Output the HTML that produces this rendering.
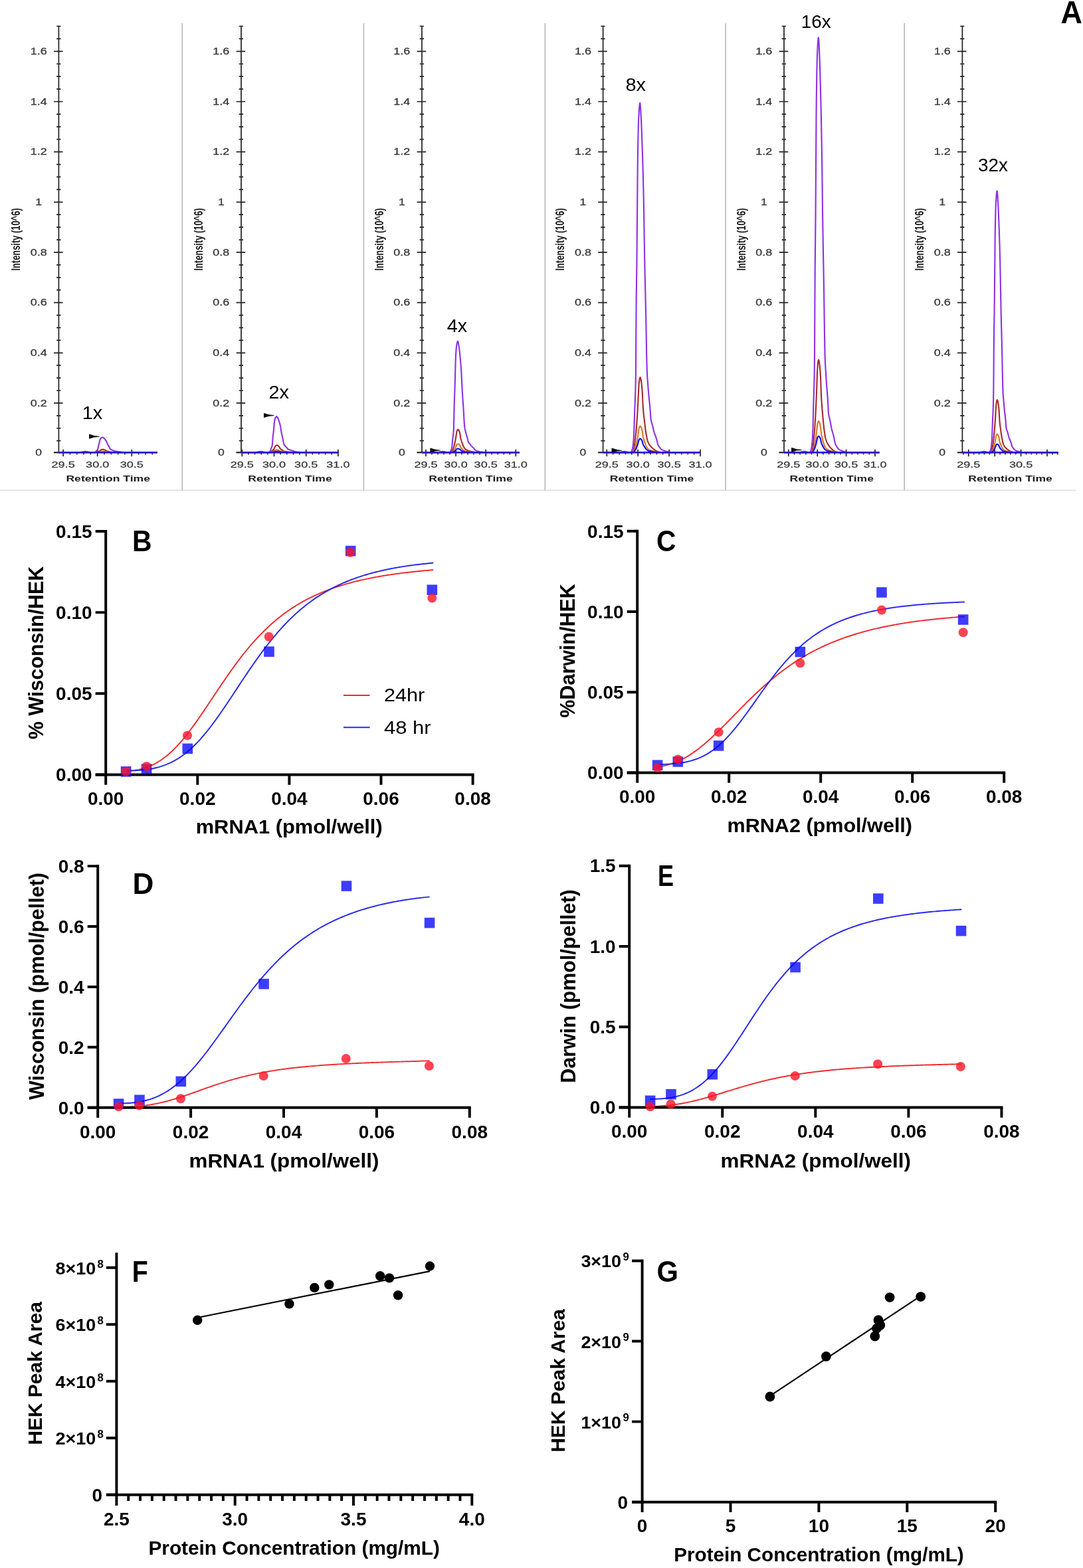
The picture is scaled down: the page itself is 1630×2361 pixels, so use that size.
<!DOCTYPE html>
<html lang="en"><head><meta charset="utf-8"><title>Figure</title>
<style>
html,body{margin:0;padding:0;background:#fff;}
svg{display:block;}
text{font-family:"Liberation Sans", Arial, sans-serif;}
</style></head>
<body>
<svg width="1630" height="2361" viewBox="0 0 1630 2361">
<rect width="1630" height="2361" fill="#fff"/>
<defs><filter id="soft" x="-2%" y="-2%" width="104%" height="104%"><feGaussianBlur stdDeviation="0.55"/></filter></defs>
<g id="panelA" filter="url(#soft)" font-family='"Liberation Sans", Arial, sans-serif'>
<line x1="0" y1="738.3" x2="1619.5" y2="738.3" stroke="#dcdcdc" stroke-width="1.6"/>
<line x1="274.3" y1="35" x2="274.3" y2="738.3" stroke="#bdbdbd" stroke-width="1.7"/>
<line x1="547.4" y1="35" x2="547.4" y2="738.3" stroke="#bdbdbd" stroke-width="1.7"/>
<line x1="820.3" y1="35" x2="820.3" y2="738.3" stroke="#bdbdbd" stroke-width="1.7"/>
<line x1="1092.0" y1="35" x2="1092.0" y2="738.3" stroke="#bdbdbd" stroke-width="1.7"/>
<line x1="1361.2" y1="35" x2="1361.2" y2="738.3" stroke="#bdbdbd" stroke-width="1.7"/>
<g stroke="#232323" stroke-width="1.7" fill="none">
<path d="M88.4 38.69V681.3"/>
<path d="M81 681.3H94.6M85.1 663.69H91.4M85.1 644.77H91.4M85.1 625.86H91.4M81 606.94H94.6M85.1 588.02H91.4M85.1 569.11H91.4M85.1 550.19H91.4M81 531.28H94.6M85.1 512.37H91.4M85.1 493.45H91.4M85.1 474.53H91.4M81 455.62H94.6M85.1 436.71H91.4M85.1 417.79H91.4M85.1 398.88H91.4M81 379.96H94.6M85.1 361.04H91.4M85.1 342.13H91.4M85.1 323.21H91.4M81 304.3H94.6M85.1 285.38H91.4M85.1 266.47H91.4M85.1 247.55H91.4M81 228.64H94.6M85.1 209.73H91.4M85.1 190.81H91.4M85.1 171.89H91.4M81 152.98H94.6M85.1 134.06H91.4M85.1 115.15H91.4M85.1 96.24H91.4M81 77.32H94.6M85.1 58.4H91.4M85.1 39.49H91.4"/>
<path d="M81 681.3H237M95.1 676.8V687.3M105.42 681.3V684.5M115.74 681.3V684.5M126.06 681.3V684.5M136.38 681.3V684.5M146.7 676.8V687.3M157.02 681.3V684.5M167.34 681.3V684.5M177.66 681.3V684.5M187.98 681.3V684.5M198.3 676.8V687.3M208.62 681.3V684.5M218.94 681.3V684.5M229.26 681.3V684.5"/>
</g>
<polyline points="88.4,681.3 88.77,681.3 89.14,681.3 89.52,681.3 89.89,681.3 90.26,681.3 90.63,681.3 91.01,681.3 91.38,681.3 91.75,681.3 92.12,681.3 92.5,681.3 92.87,681.3 93.24,681.3 93.61,681.3 93.99,681.3 94.36,681.3 94.73,681.3 95.1,681.3 95.48,681.3 95.85,681.3 96.22,681.3 96.59,681.3 96.97,681.3 97.34,681.3 97.71,681.3 98.08,681.3 98.46,681.3 98.83,681.3 99.2,681.3 99.57,681.3 99.95,681.3 100.32,681.3 100.69,681.3 101.06,681.3 101.44,681.3 101.81,681.3 102.18,681.3 102.55,681.3 102.92,681.3 103.3,681.3 103.67,681.3 104.04,681.3 104.41,681.3 104.79,681.3 105.16,681.3 105.53,681.3 105.9,681.3 106.28,681.3 106.65,681.3 107.02,681.3 107.39,681.3 107.77,681.3 108.14,681.3 108.51,681.3 108.88,681.3 109.26,681.3 109.63,681.3 110,681.3 110.37,681.3 110.75,681.3 111.12,681.3 111.49,681.3 111.86,681.3 112.24,681.3 112.61,681.3 112.98,681.3 113.35,681.3 113.73,681.3 114.1,681.3 114.47,681.29 114.84,681.29 115.22,681.29 115.59,681.29 115.96,681.28 116.33,681.28 116.7,681.27 117.08,681.26 117.45,681.26 117.82,681.24 118.19,681.23 118.57,681.21 118.94,681.19 119.31,681.17 119.68,681.14 120.06,681.1 120.43,681.07 120.8,681.02 121.17,680.97 121.55,680.92 121.92,680.86 122.29,680.8 122.66,680.73 123.04,680.65 123.41,680.57 123.78,680.49 124.15,680.41 124.53,680.33 124.9,680.25 125.27,680.17 125.64,680.09 126.02,680.02 126.39,679.96 126.76,679.91 127.13,679.86 127.51,679.83 127.88,679.8 128.25,679.79 128.62,679.79 128.99,679.81 129.37,679.83 129.74,679.87 130.11,679.92 130.48,679.97 130.86,680.04 131.23,680.11 131.6,680.18 131.97,680.26 132.35,680.34 132.72,680.43 133.09,680.51 133.46,680.59 133.84,680.67 134.21,680.74 134.58,680.81 134.95,680.87 135.33,680.93 135.7,680.98 136.07,681.03 136.44,681.07 136.82,681.11 137.19,681.14 137.56,681.17 137.93,681.2 138.31,681.22 138.68,681.23 139.05,681.24 139.42,681.24 139.8,681.23 140.17,681.21 140.54,681.18 140.91,681.15 141.29,681.12 141.66,681.06 142.03,681 142.4,680.91 142.77,680.81 143.15,680.69 143.52,680.53 143.89,680.33 144.26,680.06 144.64,679.62 145.01,679.08 145.38,678.63 145.75,678.29 146.13,677.97 146.5,677.58 146.87,677.06 147.24,676.29 147.62,674.22 147.99,671.89 148.36,670.64 148.73,669.61 149.11,668.37 149.48,666.74 149.85,665.05 150.22,663.23 150.6,662.01 150.97,661.18 151.34,660.5 151.71,659.97 152.09,659.6 152.46,659.35 152.83,659.11 153.2,658.92 153.58,658.77 153.95,658.68 154.32,658.67 154.69,658.76 155.07,658.94 155.44,659.18 155.81,659.45 156.18,659.73 156.55,660.02 156.93,660.36 157.3,660.75 157.67,661.17 158.04,661.61 158.42,662.07 158.79,662.55 159.16,663.07 159.53,663.63 159.91,664.23 160.28,664.89 160.65,665.68 161.02,666.61 161.4,667.58 161.77,668.48 162.14,669.24 162.51,669.92 162.89,670.54 163.26,671.15 163.63,671.77 164,672.44 164.38,673.21 164.75,674.04 165.12,674.85 165.49,675.54 165.87,676.03 166.24,676.32 166.61,676.54 166.98,676.72 167.36,676.91 167.73,677.1 168.1,677.28 168.47,677.45 168.85,677.62 169.22,677.78 169.59,677.92 169.96,678.06 170.33,678.19 170.71,678.34 171.08,678.5 171.45,678.73 171.82,678.98 172.2,679.14 172.57,679.22 172.94,679.28 173.31,679.34 173.69,679.39 174.06,679.43 174.43,679.48 174.8,679.53 175.18,679.58 175.55,679.64 175.92,679.7 176.29,679.77 176.67,679.83 177.04,679.9 177.41,679.96 177.78,680.01 178.16,680.05 178.53,680.09 178.9,680.13 179.27,680.17 179.65,680.21 180.02,680.25 180.39,680.29 180.76,680.33 181.14,680.37 181.51,680.42 181.88,680.47 182.25,680.52 182.63,680.58 183,680.65 183.37,680.71 183.74,680.76 184.11,680.8 184.49,680.83 184.86,680.86 185.23,680.88 185.6,680.91 185.98,680.93 186.35,680.95 186.72,680.97 187.09,680.98 187.47,681 187.84,681.02 188.21,681.04 188.58,681.05 188.96,681.07 189.33,681.08 189.7,681.09 190.07,681.11 190.45,681.12 190.82,681.13 191.19,681.13 191.56,681.14 191.94,681.15 192.31,681.16 192.68,681.16 193.05,681.17 193.43,681.17 193.8,681.18 194.17,681.19 194.54,681.19 194.92,681.2 195.29,681.2 195.66,681.2 196.03,681.21 196.41,681.21 196.78,681.22 197.15,681.22 197.52,681.23 197.89,681.23 198.27,681.23 198.64,681.24 199.01,681.24 199.38,681.24 199.76,681.25 200.13,681.25 200.5,681.26 200.87,681.26 201.25,681.26 201.62,681.27 201.99,681.27 202.36,681.27 202.74,681.28 203.11,681.28 203.48,681.28 203.85,681.28 204.23,681.29 204.6,681.29 204.97,681.29 205.34,681.3 205.72,681.3 206.09,681.3 206.46,681.3 206.83,681.3 207.21,681.3 207.58,681.3 207.95,681.3 208.32,681.3 208.7,681.3 209.07,681.3 209.44,681.3 209.81,681.3 210.18,681.3 210.56,681.3 210.93,681.3 211.3,681.3 211.67,681.3 212.05,681.3 212.42,681.3 212.79,681.3 213.16,681.3 213.54,681.3 213.91,681.3 214.28,681.3 214.65,681.3 215.03,681.3 215.4,681.3 215.77,681.3 216.14,681.3 216.52,681.3 216.89,681.3 217.26,681.3 217.63,681.3 218.01,681.3 218.38,681.3 218.75,681.3 219.12,681.3 219.5,681.3 219.87,681.3 220.24,681.3 220.61,681.3 220.99,681.3 221.36,681.3 221.73,681.3 222.1,681.3 222.48,681.3 222.85,681.3 223.22,681.3 223.59,681.3 223.96,681.3 224.34,681.3 224.71,681.3 225.08,681.3 225.45,681.3 225.83,681.3 226.2,681.3 226.57,681.3 226.94,681.3 227.32,681.3 227.69,681.3 228.06,681.3 228.43,681.3 228.81,681.3 229.18,681.3 229.55,681.3 229.92,681.3 230.3,681.3 230.67,681.3 231.04,681.3 231.41,681.3 231.79,681.3 232.16,681.3 232.53,681.3 232.9,681.3 233.28,681.3 233.65,681.3 234.02,681.3 234.39,681.3 234.77,681.3 235.14,681.3 235.51,681.3 235.88,681.3 236.26,681.3 236.63,681.3 237,681.3" fill="none" stroke="#8c30e2" stroke-width="2.1" stroke-linejoin="round"/>
<polyline points="88.4,681.3 88.77,681.3 89.14,681.3 89.52,681.3 89.89,681.3 90.26,681.3 90.63,681.3 91.01,681.3 91.38,681.3 91.75,681.3 92.12,681.3 92.5,681.3 92.87,681.3 93.24,681.3 93.61,681.3 93.99,681.3 94.36,681.3 94.73,681.3 95.1,681.3 95.48,681.3 95.85,681.3 96.22,681.3 96.59,681.3 96.97,681.3 97.34,681.3 97.71,681.3 98.08,681.3 98.46,681.3 98.83,681.3 99.2,681.3 99.57,681.3 99.95,681.3 100.32,681.3 100.69,681.3 101.06,681.3 101.44,681.3 101.81,681.3 102.18,681.3 102.55,681.3 102.92,681.3 103.3,681.3 103.67,681.3 104.04,681.3 104.41,681.3 104.79,681.3 105.16,681.3 105.53,681.3 105.9,681.3 106.28,681.3 106.65,681.3 107.02,681.3 107.39,681.3 107.77,681.3 108.14,681.3 108.51,681.3 108.88,681.3 109.26,681.3 109.63,681.3 110,681.3 110.37,681.3 110.75,681.3 111.12,681.3 111.49,681.3 111.86,681.3 112.24,681.3 112.61,681.3 112.98,681.3 113.35,681.3 113.73,681.3 114.1,681.3 114.47,681.3 114.84,681.3 115.22,681.3 115.59,681.3 115.96,681.3 116.33,681.3 116.7,681.3 117.08,681.3 117.45,681.3 117.82,681.3 118.19,681.3 118.57,681.3 118.94,681.3 119.31,681.3 119.68,681.3 120.06,681.3 120.43,681.3 120.8,681.3 121.17,681.3 121.55,681.3 121.92,681.3 122.29,681.3 122.66,681.3 123.04,681.3 123.41,681.3 123.78,681.3 124.15,681.3 124.53,681.3 124.9,681.3 125.27,681.3 125.64,681.3 126.02,681.3 126.39,681.3 126.76,681.3 127.13,681.3 127.51,681.3 127.88,681.3 128.25,681.3 128.62,681.3 128.99,681.3 129.37,681.3 129.74,681.3 130.11,681.3 130.48,681.3 130.86,681.3 131.23,681.3 131.6,681.3 131.97,681.3 132.35,681.3 132.72,681.3 133.09,681.3 133.46,681.3 133.84,681.3 134.21,681.3 134.58,681.3 134.95,681.3 135.33,681.3 135.7,681.3 136.07,681.3 136.44,681.3 136.82,681.3 137.19,681.3 137.56,681.3 137.93,681.3 138.31,681.3 138.68,681.3 139.05,681.3 139.42,681.3 139.8,681.3 140.17,681.3 140.54,681.3 140.91,681.3 141.29,681.3 141.66,681.29 142.03,681.29 142.4,681.27 142.77,681.26 143.15,681.24 143.52,681.2 143.89,681.14 144.26,681.07 144.64,680.98 145.01,680.89 145.38,680.79 145.75,680.7 146.13,680.59 146.5,680.48 146.87,680.35 147.24,680.22 147.62,680.09 147.99,679.94 148.36,679.78 148.73,679.61 149.11,679.42 149.48,679.22 149.85,679.01 150.22,678.78 150.6,678.54 150.97,678.29 151.34,677.99 151.71,677.69 152.09,677.42 152.46,677.22 152.83,677.08 153.2,676.97 153.58,676.88 153.95,676.82 154.32,676.78 154.69,676.78 155.07,676.81 155.44,676.85 155.81,676.91 156.18,676.99 156.55,677.08 156.93,677.19 157.3,677.32 157.67,677.46 158.04,677.64 158.42,677.89 158.79,678.22 159.16,678.5 159.53,678.68 159.91,678.84 160.28,678.98 160.65,679.11 161.02,679.23 161.4,679.34 161.77,679.46 162.14,679.57 162.51,679.69 162.89,679.8 163.26,679.9 163.63,680 164,680.09 164.38,680.18 164.75,680.25 165.12,680.33 165.49,680.4 165.87,680.46 166.24,680.52 166.61,680.58 166.98,680.62 167.36,680.66 167.73,680.69 168.1,680.72 168.47,680.75 168.85,680.77 169.22,680.8 169.59,680.82 169.96,680.84 170.33,680.85 170.71,680.87 171.08,680.89 171.45,680.91 171.82,680.92 172.2,680.94 172.57,680.96 172.94,680.97 173.31,680.98 173.69,681 174.06,681.01 174.43,681.03 174.8,681.04 175.18,681.05 175.55,681.06 175.92,681.07 176.29,681.08 176.67,681.09 177.04,681.1 177.41,681.11 177.78,681.12 178.16,681.13 178.53,681.14 178.9,681.15 179.27,681.16 179.65,681.17 180.02,681.18 180.39,681.19 180.76,681.2 181.14,681.2 181.51,681.21 181.88,681.22 182.25,681.22 182.63,681.23 183,681.23 183.37,681.24 183.74,681.24 184.11,681.25 184.49,681.25 184.86,681.26 185.23,681.26 185.6,681.26 185.98,681.27 186.35,681.27 186.72,681.28 187.09,681.28 187.47,681.28 187.84,681.28 188.21,681.28 188.58,681.29 188.96,681.29 189.33,681.29 189.7,681.29 190.07,681.29 190.45,681.29 190.82,681.29 191.19,681.3 191.56,681.3 191.94,681.3 192.31,681.3 192.68,681.3 193.05,681.3 193.43,681.3 193.8,681.3 194.17,681.3 194.54,681.3 194.92,681.3 195.29,681.3 195.66,681.3 196.03,681.3 196.41,681.3 196.78,681.3 197.15,681.3 197.52,681.3 197.89,681.3 198.27,681.3 198.64,681.3 199.01,681.3 199.38,681.3 199.76,681.3 200.13,681.3 200.5,681.3 200.87,681.3 201.25,681.3 201.62,681.3 201.99,681.3 202.36,681.3 202.74,681.3 203.11,681.3 203.48,681.3 203.85,681.3 204.23,681.3 204.6,681.3 204.97,681.3 205.34,681.3 205.72,681.3 206.09,681.3 206.46,681.3 206.83,681.3 207.21,681.3 207.58,681.3 207.95,681.3 208.32,681.3 208.7,681.3 209.07,681.3 209.44,681.3 209.81,681.3 210.18,681.3 210.56,681.3 210.93,681.3 211.3,681.3 211.67,681.3 212.05,681.3 212.42,681.3 212.79,681.3 213.16,681.3 213.54,681.3 213.91,681.3 214.28,681.3 214.65,681.3 215.03,681.3 215.4,681.3 215.77,681.3 216.14,681.3 216.52,681.3 216.89,681.3 217.26,681.3 217.63,681.3 218.01,681.3 218.38,681.3 218.75,681.3 219.12,681.3 219.5,681.3 219.87,681.3 220.24,681.3 220.61,681.3 220.99,681.3 221.36,681.3 221.73,681.3 222.1,681.3 222.48,681.3 222.85,681.3 223.22,681.3 223.59,681.3 223.96,681.3 224.34,681.3 224.71,681.3 225.08,681.3 225.45,681.3 225.83,681.3 226.2,681.3 226.57,681.3 226.94,681.3 227.32,681.3 227.69,681.3 228.06,681.3 228.43,681.3 228.81,681.3 229.18,681.3 229.55,681.3 229.92,681.3 230.3,681.3 230.67,681.3 231.04,681.3 231.41,681.3 231.79,681.3 232.16,681.3 232.53,681.3 232.9,681.3 233.28,681.3 233.65,681.3 234.02,681.3 234.39,681.3 234.77,681.3 235.14,681.3 235.51,681.3 235.88,681.3 236.26,681.3 236.63,681.3 237,681.3" fill="none" stroke="#a62c2c" stroke-width="2.1" stroke-linejoin="round"/>
<polyline points="88.4,681.3 88.77,681.3 89.14,681.3 89.52,681.3 89.89,681.3 90.26,681.3 90.63,681.3 91.01,681.3 91.38,681.3 91.75,681.3 92.12,681.3 92.5,681.3 92.87,681.3 93.24,681.3 93.61,681.3 93.99,681.3 94.36,681.3 94.73,681.3 95.1,681.3 95.48,681.3 95.85,681.3 96.22,681.3 96.59,681.3 96.97,681.3 97.34,681.3 97.71,681.3 98.08,681.3 98.46,681.3 98.83,681.3 99.2,681.3 99.57,681.3 99.95,681.3 100.32,681.3 100.69,681.3 101.06,681.3 101.44,681.3 101.81,681.3 102.18,681.3 102.55,681.3 102.92,681.3 103.3,681.3 103.67,681.3 104.04,681.3 104.41,681.3 104.79,681.3 105.16,681.3 105.53,681.3 105.9,681.3 106.28,681.3 106.65,681.3 107.02,681.3 107.39,681.3 107.77,681.3 108.14,681.3 108.51,681.3 108.88,681.3 109.26,681.3 109.63,681.3 110,681.3 110.37,681.3 110.75,681.3 111.12,681.3 111.49,681.3 111.86,681.3 112.24,681.3 112.61,681.3 112.98,681.3 113.35,681.3 113.73,681.3 114.1,681.3 114.47,681.3 114.84,681.3 115.22,681.3 115.59,681.3 115.96,681.3 116.33,681.3 116.7,681.3 117.08,681.3 117.45,681.3 117.82,681.3 118.19,681.3 118.57,681.3 118.94,681.3 119.31,681.3 119.68,681.3 120.06,681.3 120.43,681.3 120.8,681.3 121.17,681.3 121.55,681.3 121.92,681.3 122.29,681.3 122.66,681.3 123.04,681.3 123.41,681.3 123.78,681.3 124.15,681.3 124.53,681.3 124.9,681.3 125.27,681.3 125.64,681.3 126.02,681.3 126.39,681.3 126.76,681.3 127.13,681.3 127.51,681.3 127.88,681.3 128.25,681.3 128.62,681.3 128.99,681.3 129.37,681.3 129.74,681.3 130.11,681.3 130.48,681.3 130.86,681.3 131.23,681.3 131.6,681.3 131.97,681.3 132.35,681.3 132.72,681.3 133.09,681.3 133.46,681.3 133.84,681.3 134.21,681.3 134.58,681.3 134.95,681.3 135.33,681.3 135.7,681.3 136.07,681.3 136.44,681.3 136.82,681.3 137.19,681.3 137.56,681.3 137.93,681.3 138.31,681.3 138.68,681.3 139.05,681.3 139.42,681.3 139.8,681.3 140.17,681.3 140.54,681.3 140.91,681.3 141.29,681.3 141.66,681.3 142.03,681.3 142.4,681.29 142.77,681.29 143.15,681.28 143.52,681.27 143.89,681.25 144.26,681.22 144.64,681.19 145.01,681.16 145.38,681.13 145.75,681.1 146.13,681.06 146.5,681.03 146.87,680.98 147.24,680.94 147.62,680.9 147.99,680.85 148.36,680.79 148.73,680.74 149.11,680.67 149.48,680.61 149.85,680.54 150.22,680.46 150.6,680.38 150.97,680.3 151.34,680.2 151.71,680.1 152.09,680.01 152.46,679.94 152.83,679.89 153.2,679.86 153.58,679.83 153.95,679.81 154.32,679.79 154.69,679.79 155.07,679.8 155.44,679.82 155.81,679.84 156.18,679.86 156.55,679.89 156.93,679.93 157.3,679.97 157.67,680.02 158.04,680.08 158.42,680.16 158.79,680.27 159.16,680.37 159.53,680.43 159.91,680.48 160.28,680.53 160.65,680.57 161.02,680.61 161.4,680.65 161.77,680.69 162.14,680.72 162.51,680.76 162.89,680.8 163.26,680.83 163.63,680.87 164,680.9 164.38,680.93 164.75,680.95 165.12,680.98 165.49,681 165.87,681.02 166.24,681.04 166.61,681.06 166.98,681.07 167.36,681.09 167.73,681.1 168.1,681.11 168.47,681.12 168.85,681.12 169.22,681.13 169.59,681.14 169.96,681.15 170.33,681.15 170.71,681.16 171.08,681.16 171.45,681.17 171.82,681.17 172.2,681.18 172.57,681.19 172.94,681.19 173.31,681.19 173.69,681.2 174.06,681.2 174.43,681.21 174.8,681.21 175.18,681.22 175.55,681.22 175.92,681.22 176.29,681.23 176.67,681.23 177.04,681.23 177.41,681.24 177.78,681.24 178.16,681.24 178.53,681.25 178.9,681.25 179.27,681.25 179.65,681.26 180.02,681.26 180.39,681.26 180.76,681.27 181.14,681.27 181.51,681.27 181.88,681.27 182.25,681.27 182.63,681.28 183,681.28 183.37,681.28 183.74,681.28 184.11,681.28 184.49,681.28 184.86,681.29 185.23,681.29 185.6,681.29 185.98,681.29 186.35,681.29 186.72,681.29 187.09,681.29 187.47,681.29 187.84,681.29 188.21,681.29 188.58,681.3 188.96,681.3 189.33,681.3 189.7,681.3 190.07,681.3 190.45,681.3 190.82,681.3 191.19,681.3 191.56,681.3 191.94,681.3 192.31,681.3 192.68,681.3 193.05,681.3 193.43,681.3 193.8,681.3 194.17,681.3 194.54,681.3 194.92,681.3 195.29,681.3 195.66,681.3 196.03,681.3 196.41,681.3 196.78,681.3 197.15,681.3 197.52,681.3 197.89,681.3 198.27,681.3 198.64,681.3 199.01,681.3 199.38,681.3 199.76,681.3 200.13,681.3 200.5,681.3 200.87,681.3 201.25,681.3 201.62,681.3 201.99,681.3 202.36,681.3 202.74,681.3 203.11,681.3 203.48,681.3 203.85,681.3 204.23,681.3 204.6,681.3 204.97,681.3 205.34,681.3 205.72,681.3 206.09,681.3 206.46,681.3 206.83,681.3 207.21,681.3 207.58,681.3 207.95,681.3 208.32,681.3 208.7,681.3 209.07,681.3 209.44,681.3 209.81,681.3 210.18,681.3 210.56,681.3 210.93,681.3 211.3,681.3 211.67,681.3 212.05,681.3 212.42,681.3 212.79,681.3 213.16,681.3 213.54,681.3 213.91,681.3 214.28,681.3 214.65,681.3 215.03,681.3 215.4,681.3 215.77,681.3 216.14,681.3 216.52,681.3 216.89,681.3 217.26,681.3 217.63,681.3 218.01,681.3 218.38,681.3 218.75,681.3 219.12,681.3 219.5,681.3 219.87,681.3 220.24,681.3 220.61,681.3 220.99,681.3 221.36,681.3 221.73,681.3 222.1,681.3 222.48,681.3 222.85,681.3 223.22,681.3 223.59,681.3 223.96,681.3 224.34,681.3 224.71,681.3 225.08,681.3 225.45,681.3 225.83,681.3 226.2,681.3 226.57,681.3 226.94,681.3 227.32,681.3 227.69,681.3 228.06,681.3 228.43,681.3 228.81,681.3 229.18,681.3 229.55,681.3 229.92,681.3 230.3,681.3 230.67,681.3 231.04,681.3 231.41,681.3 231.79,681.3 232.16,681.3 232.53,681.3 232.9,681.3 233.28,681.3 233.65,681.3 234.02,681.3 234.39,681.3 234.77,681.3 235.14,681.3 235.51,681.3 235.88,681.3 236.26,681.3 236.63,681.3 237,681.3" fill="none" stroke="#d9742a" stroke-width="2.1" stroke-linejoin="round"/>
<line x1="88.4" y1="681.3" x2="237" y2="681.3" stroke="#2a0ad8" stroke-width="2.6"/>
<path d="M134 653.6L142 656L149.5 656.9V657.8L142 658.4L134 660.8Z" fill="#0a0a0a"/>
<text x="58.2" y="686" font-size="13.8" text-anchor="middle" fill="#3a3a3a" textLength="9.8" lengthAdjust="spacingAndGlyphs" stroke="#3a3a3a" stroke-width="0.3">0</text>
<text x="58.2" y="611.64" font-size="13.8" text-anchor="middle" fill="#3a3a3a" textLength="25" lengthAdjust="spacingAndGlyphs" stroke="#3a3a3a" stroke-width="0.3">0.2</text>
<text x="58.2" y="535.98" font-size="13.8" text-anchor="middle" fill="#3a3a3a" textLength="25" lengthAdjust="spacingAndGlyphs" stroke="#3a3a3a" stroke-width="0.3">0.4</text>
<text x="58.2" y="460.32" font-size="13.8" text-anchor="middle" fill="#3a3a3a" textLength="25" lengthAdjust="spacingAndGlyphs" stroke="#3a3a3a" stroke-width="0.3">0.6</text>
<text x="58.2" y="384.66" font-size="13.8" text-anchor="middle" fill="#3a3a3a" textLength="25" lengthAdjust="spacingAndGlyphs" stroke="#3a3a3a" stroke-width="0.3">0.8</text>
<text x="58.2" y="309" font-size="13.8" text-anchor="middle" fill="#3a3a3a" textLength="9.8" lengthAdjust="spacingAndGlyphs" stroke="#3a3a3a" stroke-width="0.3">1</text>
<text x="58.2" y="233.34" font-size="13.8" text-anchor="middle" fill="#3a3a3a" textLength="25" lengthAdjust="spacingAndGlyphs" stroke="#3a3a3a" stroke-width="0.3">1.2</text>
<text x="58.2" y="157.68" font-size="13.8" text-anchor="middle" fill="#3a3a3a" textLength="25" lengthAdjust="spacingAndGlyphs" stroke="#3a3a3a" stroke-width="0.3">1.4</text>
<text x="58.2" y="82.02" font-size="13.8" text-anchor="middle" fill="#3a3a3a" textLength="25" lengthAdjust="spacingAndGlyphs" stroke="#3a3a3a" stroke-width="0.3">1.6</text>
<text x="95.1" y="703.8" font-size="13.7" text-anchor="middle" fill="#3a3a3a" textLength="35.2" lengthAdjust="spacingAndGlyphs" stroke="#3a3a3a" stroke-width="0.3">29.5</text>
<text x="146.7" y="703.8" font-size="13.7" text-anchor="middle" fill="#3a3a3a" textLength="35.2" lengthAdjust="spacingAndGlyphs" stroke="#3a3a3a" stroke-width="0.3">30.0</text>
<text x="198.3" y="703.8" font-size="13.7" text-anchor="middle" fill="#3a3a3a" textLength="35.2" lengthAdjust="spacingAndGlyphs" stroke="#3a3a3a" stroke-width="0.3">30.5</text>
<text x="162.7" y="724.7" font-size="12.2" text-anchor="middle" font-weight="bold" fill="#1c1c1c" textLength="126.5" lengthAdjust="spacingAndGlyphs">Retention Time</text>
<text x="30" y="360.5" font-size="18.6" text-anchor="middle" font-weight="bold" fill="#1c1c1c" textLength="94.2" lengthAdjust="spacingAndGlyphs" transform="rotate(-90 30 360.5)">Intensity (10^6)</text>
<text x="123.7" y="630.5" font-size="26.8" text-anchor="start" textLength="30.5" lengthAdjust="spacingAndGlyphs">1x</text>
<g stroke="#232323" stroke-width="1.7" fill="none">
<path d="M363 38.69V681.3"/>
<path d="M355.6 681.3H369.2M359.7 663.69H366M359.7 644.77H366M359.7 625.86H366M355.6 606.94H369.2M359.7 588.02H366M359.7 569.11H366M359.7 550.19H366M355.6 531.28H369.2M359.7 512.37H366M359.7 493.45H366M359.7 474.53H366M355.6 455.62H369.2M359.7 436.71H366M359.7 417.79H366M359.7 398.88H366M355.6 379.96H369.2M359.7 361.04H366M359.7 342.13H366M359.7 323.21H366M355.6 304.3H369.2M359.7 285.38H366M359.7 266.47H366M359.7 247.55H366M355.6 228.64H369.2M359.7 209.73H366M359.7 190.81H366M359.7 171.89H366M355.6 152.98H369.2M359.7 134.06H366M359.7 115.15H366M359.7 96.24H366M355.6 77.32H369.2M359.7 58.4H366M359.7 39.49H366"/>
<path d="M355.6 681.3H510M364.3 676.8V687.3M373.94 681.3V684.5M383.58 681.3V684.5M393.22 681.3V684.5M402.86 681.3V684.5M412.5 676.8V687.3M422.14 681.3V684.5M431.78 681.3V684.5M441.42 681.3V684.5M451.06 681.3V684.5M460.7 676.8V687.3M470.34 681.3V684.5M479.98 681.3V684.5M489.62 681.3V684.5M499.26 681.3V684.5M508.9 676.8V687.3"/>
</g>
<polyline points="363,681.3 363.37,681.3 363.74,681.3 364.11,681.3 364.47,681.3 364.84,681.3 365.21,681.3 365.58,681.3 365.95,681.3 366.32,681.3 366.68,681.3 367.05,681.3 367.42,681.3 367.79,681.3 368.16,681.3 368.53,681.3 368.89,681.3 369.26,681.3 369.63,681.3 370,681.3 370.37,681.3 370.74,681.3 371.11,681.3 371.47,681.3 371.84,681.3 372.21,681.3 372.58,681.3 372.95,681.3 373.32,681.3 373.68,681.3 374.05,681.3 374.42,681.3 374.79,681.3 375.16,681.3 375.53,681.3 375.89,681.3 376.26,681.3 376.63,681.3 377,681.3 377.37,681.3 377.74,681.3 378.11,681.3 378.47,681.3 378.84,681.3 379.21,681.3 379.58,681.29 379.95,681.29 380.32,681.29 380.68,681.28 381.05,681.28 381.42,681.27 381.79,681.26 382.16,681.25 382.53,681.24 382.89,681.22 383.26,681.2 383.63,681.18 384,681.15 384.37,681.12 384.74,681.08 385.11,681.04 385.47,680.99 385.84,680.93 386.21,680.87 386.58,680.8 386.95,680.72 387.32,680.65 387.68,680.56 388.05,680.48 388.42,680.39 388.79,680.3 389.16,680.22 389.53,680.13 389.89,680.06 390.26,679.99 390.63,679.93 391,679.87 391.37,679.83 391.74,679.81 392.11,679.79 392.47,679.79 392.84,679.81 393.21,679.83 393.58,679.87 393.95,679.92 394.32,679.98 394.68,680.05 395.05,680.13 395.42,680.21 395.79,680.3 396.16,680.39 396.53,680.47 396.89,680.56 397.26,680.64 397.63,680.72 398,680.79 398.37,680.86 398.74,680.93 399.11,680.98 399.47,681.03 399.84,681.08 400.21,681.12 400.58,681.15 400.95,681.18 401.32,681.2 401.68,681.22 402.05,681.24 402.42,681.23 402.79,681.19 403.16,681.14 403.53,681.07 403.89,680.99 404.26,680.9 404.63,680.77 405,680.6 405.37,680.39 405.74,680.14 406.11,679.83 406.47,679.4 406.84,678.86 407.21,678.11 407.58,676.86 407.95,675.53 408.32,674.55 408.68,673.73 409.05,672.84 409.42,671.67 409.79,670.03 410.16,666.19 410.53,659.57 410.89,656.19 411.26,653.57 411.63,650.47 412,646.36 412.37,642.05 412.74,637.52 413.11,634.72 413.47,632.71 413.84,631.1 414.21,629.91 414.58,629.13 414.95,628.5 415.32,627.96 415.68,627.53 416.05,627.25 416.42,627.16 416.79,627.33 417.16,627.75 417.53,628.35 417.89,629.04 418.26,629.74 418.63,630.48 419,631.36 419.37,632.35 419.74,633.43 420.11,634.57 420.47,635.75 420.84,637 421.21,638.36 421.58,639.84 421.95,641.45 422.32,643.3 422.68,645.57 423.05,648.02 423.42,650.36 423.79,652.32 424.16,654.04 424.53,655.62 424.89,657.16 425.26,658.75 425.63,660.47 426,662.49 426.37,664.59 426.74,666.55 427.11,668.11 427.47,669.08 427.84,669.7 428.21,670.2 428.58,670.66 428.95,671.14 429.32,671.6 429.68,672.05 430.05,672.47 430.42,672.87 430.79,673.23 431.16,673.57 431.53,673.92 431.89,674.29 432.26,674.73 432.63,675.36 433,675.95 433.37,676.24 433.74,676.4 434.11,676.55 434.47,676.68 434.84,676.8 435.21,676.92 435.58,677.04 435.95,677.16 436.32,677.31 436.68,677.47 437.05,677.64 437.42,677.81 437.79,677.97 438.16,678.12 438.53,678.24 438.89,678.35 439.26,678.45 439.63,678.55 440,678.64 440.37,678.74 440.74,678.84 441.11,678.95 441.47,679.06 441.84,679.18 442.21,679.3 442.58,679.43 442.95,679.58 443.32,679.75 443.68,679.9 444.05,680.03 444.42,680.12 444.79,680.19 445.16,680.26 445.53,680.33 445.89,680.38 446.26,680.43 446.63,680.48 447,680.53 447.37,680.58 447.74,680.62 448.11,680.66 448.47,680.7 448.84,680.74 449.21,680.78 449.58,680.81 449.95,680.84 450.32,680.86 450.68,680.89 451.05,680.91 451.42,680.93 451.79,680.95 452.16,680.96 452.53,680.98 452.89,680.99 453.26,681.01 453.63,681.02 454,681.03 454.37,681.05 454.74,681.06 455.11,681.07 455.47,681.08 455.84,681.09 456.21,681.11 456.58,681.12 456.95,681.13 457.32,681.14 457.68,681.15 458.05,681.15 458.42,681.16 458.79,681.17 459.16,681.18 459.53,681.19 459.89,681.2 460.26,681.21 460.63,681.22 461,681.22 461.37,681.23 461.74,681.24 462.11,681.25 462.47,681.26 462.84,681.27 463.21,681.27 463.58,681.28 463.95,681.29 464.32,681.29 464.68,681.3 465.05,681.3 465.42,681.3 465.79,681.3 466.16,681.3 466.53,681.3 466.89,681.3 467.26,681.3 467.63,681.3 468,681.3 468.37,681.3 468.74,681.3 469.11,681.3 469.47,681.3 469.84,681.3 470.21,681.3 470.58,681.3 470.95,681.3 471.32,681.3 471.68,681.3 472.05,681.3 472.42,681.3 472.79,681.3 473.16,681.3 473.53,681.3 473.89,681.3 474.26,681.3 474.63,681.3 475,681.3 475.37,681.3 475.74,681.3 476.11,681.3 476.47,681.3 476.84,681.3 477.21,681.3 477.58,681.3 477.95,681.3 478.32,681.3 478.68,681.3 479.05,681.3 479.42,681.3 479.79,681.3 480.16,681.3 480.53,681.3 480.89,681.3 481.26,681.3 481.63,681.3 482,681.3 482.37,681.3 482.74,681.3 483.11,681.3 483.47,681.3 483.84,681.3 484.21,681.3 484.58,681.3 484.95,681.3 485.32,681.3 485.68,681.3 486.05,681.3 486.42,681.3 486.79,681.3 487.16,681.3 487.53,681.3 487.89,681.3 488.26,681.3 488.63,681.3 489,681.3 489.37,681.3 489.74,681.3 490.11,681.3 490.47,681.3 490.84,681.3 491.21,681.3 491.58,681.3 491.95,681.3 492.32,681.3 492.68,681.3 493.05,681.3 493.42,681.3 493.79,681.3 494.16,681.3 494.53,681.3 494.89,681.3 495.26,681.3 495.63,681.3 496,681.3 496.37,681.3 496.74,681.3 497.11,681.3 497.47,681.3 497.84,681.3 498.21,681.3 498.58,681.3 498.95,681.3 499.32,681.3 499.68,681.3 500.05,681.3 500.42,681.3 500.79,681.3 501.16,681.3 501.53,681.3 501.89,681.3 502.26,681.3 502.63,681.3 503,681.3 503.37,681.3 503.74,681.3 504.11,681.3 504.47,681.3 504.84,681.3 505.21,681.3 505.58,681.3 505.95,681.3 506.32,681.3 506.68,681.3 507.05,681.3 507.42,681.3 507.79,681.3 508.16,681.3 508.53,681.3 508.89,681.3 509.26,681.3 509.63,681.3 510,681.3" fill="none" stroke="#8c30e2" stroke-width="2.1" stroke-linejoin="round"/>
<polyline points="363,681.3 363.37,681.3 363.74,681.3 364.11,681.3 364.47,681.3 364.84,681.3 365.21,681.3 365.58,681.3 365.95,681.3 366.32,681.3 366.68,681.3 367.05,681.3 367.42,681.3 367.79,681.3 368.16,681.3 368.53,681.3 368.89,681.3 369.26,681.3 369.63,681.3 370,681.3 370.37,681.3 370.74,681.3 371.11,681.3 371.47,681.3 371.84,681.3 372.21,681.3 372.58,681.3 372.95,681.3 373.32,681.3 373.68,681.3 374.05,681.3 374.42,681.3 374.79,681.3 375.16,681.3 375.53,681.3 375.89,681.3 376.26,681.3 376.63,681.3 377,681.3 377.37,681.3 377.74,681.3 378.11,681.3 378.47,681.3 378.84,681.3 379.21,681.3 379.58,681.3 379.95,681.3 380.32,681.3 380.68,681.3 381.05,681.3 381.42,681.3 381.79,681.3 382.16,681.3 382.53,681.3 382.89,681.3 383.26,681.3 383.63,681.3 384,681.3 384.37,681.3 384.74,681.3 385.11,681.3 385.47,681.3 385.84,681.3 386.21,681.3 386.58,681.3 386.95,681.3 387.32,681.3 387.68,681.3 388.05,681.3 388.42,681.3 388.79,681.3 389.16,681.3 389.53,681.3 389.89,681.3 390.26,681.3 390.63,681.3 391,681.3 391.37,681.3 391.74,681.3 392.11,681.3 392.47,681.3 392.84,681.3 393.21,681.3 393.58,681.3 393.95,681.3 394.32,681.3 394.68,681.3 395.05,681.3 395.42,681.3 395.79,681.3 396.16,681.3 396.53,681.3 396.89,681.3 397.26,681.3 397.63,681.3 398,681.3 398.37,681.3 398.74,681.3 399.11,681.3 399.47,681.3 399.84,681.3 400.21,681.3 400.58,681.3 400.95,681.3 401.32,681.3 401.68,681.3 402.05,681.3 402.42,681.3 402.79,681.3 403.16,681.3 403.53,681.3 403.89,681.3 404.26,681.3 404.63,681.29 405,681.27 405.37,681.23 405.74,681.19 406.11,681.14 406.47,681.05 406.84,680.89 407.21,680.68 407.58,680.45 407.95,680.21 408.32,679.98 408.68,679.72 409.05,679.43 409.42,679.13 409.79,678.8 410.16,678.46 410.53,678.08 410.89,677.68 411.26,677.24 411.63,676.78 412,676.27 412.37,675.72 412.74,675.13 413.11,674.52 413.47,673.84 413.84,673.07 414.21,672.31 414.58,671.68 414.95,671.26 415.32,670.94 415.68,670.69 416.05,670.52 416.42,670.39 416.79,670.36 417.16,670.43 417.53,670.54 417.89,670.67 418.26,670.88 418.63,671.13 419,671.42 419.37,671.74 419.74,672.14 420.11,672.61 420.47,673.36 420.84,674.2 421.21,674.76 421.58,675.19 421.95,675.57 422.32,675.91 422.68,676.22 423.05,676.51 423.42,676.8 423.79,677.1 424.16,677.39 424.53,677.68 424.89,677.95 425.26,678.2 425.63,678.43 426,678.64 426.37,678.83 426.74,679.02 427.11,679.19 427.47,679.36 427.84,679.5 428.21,679.63 428.58,679.73 428.95,679.81 429.32,679.89 429.68,679.96 430.05,680.02 430.42,680.08 430.79,680.13 431.16,680.18 431.53,680.23 431.89,680.28 432.26,680.32 432.63,680.36 433,680.41 433.37,680.45 433.74,680.49 434.11,680.52 434.47,680.56 434.84,680.59 435.21,680.63 435.58,680.66 435.95,680.69 436.32,680.72 436.68,680.75 437.05,680.78 437.42,680.8 437.79,680.83 438.16,680.86 438.53,680.88 438.89,680.91 439.26,680.93 439.63,680.95 440,680.98 440.37,681 440.74,681.02 441.11,681.04 441.47,681.06 441.84,681.08 442.21,681.1 442.58,681.11 442.95,681.13 443.32,681.14 443.68,681.15 444.05,681.17 444.42,681.18 444.79,681.19 445.16,681.2 445.53,681.21 445.89,681.22 446.26,681.23 446.63,681.24 447,681.24 447.37,681.25 447.74,681.26 448.11,681.26 448.47,681.27 448.84,681.27 449.21,681.27 449.58,681.28 449.95,681.28 450.32,681.29 450.68,681.29 451.05,681.29 451.42,681.29 451.79,681.3 452.16,681.3 452.53,681.3 452.89,681.3 453.26,681.3 453.63,681.3 454,681.3 454.37,681.3 454.74,681.3 455.11,681.3 455.47,681.3 455.84,681.3 456.21,681.3 456.58,681.3 456.95,681.3 457.32,681.3 457.68,681.3 458.05,681.3 458.42,681.3 458.79,681.3 459.16,681.3 459.53,681.3 459.89,681.3 460.26,681.3 460.63,681.3 461,681.3 461.37,681.3 461.74,681.3 462.11,681.3 462.47,681.3 462.84,681.3 463.21,681.3 463.58,681.3 463.95,681.3 464.32,681.3 464.68,681.3 465.05,681.3 465.42,681.3 465.79,681.3 466.16,681.3 466.53,681.3 466.89,681.3 467.26,681.3 467.63,681.3 468,681.3 468.37,681.3 468.74,681.3 469.11,681.3 469.47,681.3 469.84,681.3 470.21,681.3 470.58,681.3 470.95,681.3 471.32,681.3 471.68,681.3 472.05,681.3 472.42,681.3 472.79,681.3 473.16,681.3 473.53,681.3 473.89,681.3 474.26,681.3 474.63,681.3 475,681.3 475.37,681.3 475.74,681.3 476.11,681.3 476.47,681.3 476.84,681.3 477.21,681.3 477.58,681.3 477.95,681.3 478.32,681.3 478.68,681.3 479.05,681.3 479.42,681.3 479.79,681.3 480.16,681.3 480.53,681.3 480.89,681.3 481.26,681.3 481.63,681.3 482,681.3 482.37,681.3 482.74,681.3 483.11,681.3 483.47,681.3 483.84,681.3 484.21,681.3 484.58,681.3 484.95,681.3 485.32,681.3 485.68,681.3 486.05,681.3 486.42,681.3 486.79,681.3 487.16,681.3 487.53,681.3 487.89,681.3 488.26,681.3 488.63,681.3 489,681.3 489.37,681.3 489.74,681.3 490.11,681.3 490.47,681.3 490.84,681.3 491.21,681.3 491.58,681.3 491.95,681.3 492.32,681.3 492.68,681.3 493.05,681.3 493.42,681.3 493.79,681.3 494.16,681.3 494.53,681.3 494.89,681.3 495.26,681.3 495.63,681.3 496,681.3 496.37,681.3 496.74,681.3 497.11,681.3 497.47,681.3 497.84,681.3 498.21,681.3 498.58,681.3 498.95,681.3 499.32,681.3 499.68,681.3 500.05,681.3 500.42,681.3 500.79,681.3 501.16,681.3 501.53,681.3 501.89,681.3 502.26,681.3 502.63,681.3 503,681.3 503.37,681.3 503.74,681.3 504.11,681.3 504.47,681.3 504.84,681.3 505.21,681.3 505.58,681.3 505.95,681.3 506.32,681.3 506.68,681.3 507.05,681.3 507.42,681.3 507.79,681.3 508.16,681.3 508.53,681.3 508.89,681.3 509.26,681.3 509.63,681.3 510,681.3" fill="none" stroke="#a62c2c" stroke-width="2.1" stroke-linejoin="round"/>
<polyline points="363,681.3 363.37,681.3 363.74,681.3 364.11,681.3 364.47,681.3 364.84,681.3 365.21,681.3 365.58,681.3 365.95,681.3 366.32,681.3 366.68,681.3 367.05,681.3 367.42,681.3 367.79,681.3 368.16,681.3 368.53,681.3 368.89,681.3 369.26,681.3 369.63,681.3 370,681.3 370.37,681.3 370.74,681.3 371.11,681.3 371.47,681.3 371.84,681.3 372.21,681.3 372.58,681.3 372.95,681.3 373.32,681.3 373.68,681.3 374.05,681.3 374.42,681.3 374.79,681.3 375.16,681.3 375.53,681.3 375.89,681.3 376.26,681.3 376.63,681.3 377,681.3 377.37,681.3 377.74,681.3 378.11,681.3 378.47,681.3 378.84,681.3 379.21,681.3 379.58,681.3 379.95,681.3 380.32,681.3 380.68,681.3 381.05,681.3 381.42,681.3 381.79,681.3 382.16,681.3 382.53,681.3 382.89,681.3 383.26,681.3 383.63,681.3 384,681.3 384.37,681.3 384.74,681.3 385.11,681.3 385.47,681.3 385.84,681.3 386.21,681.3 386.58,681.3 386.95,681.3 387.32,681.3 387.68,681.3 388.05,681.3 388.42,681.3 388.79,681.3 389.16,681.3 389.53,681.3 389.89,681.3 390.26,681.3 390.63,681.3 391,681.3 391.37,681.3 391.74,681.3 392.11,681.3 392.47,681.3 392.84,681.3 393.21,681.3 393.58,681.3 393.95,681.3 394.32,681.3 394.68,681.3 395.05,681.3 395.42,681.3 395.79,681.3 396.16,681.3 396.53,681.3 396.89,681.3 397.26,681.3 397.63,681.3 398,681.3 398.37,681.3 398.74,681.3 399.11,681.3 399.47,681.3 399.84,681.3 400.21,681.3 400.58,681.3 400.95,681.3 401.32,681.3 401.68,681.3 402.05,681.3 402.42,681.3 402.79,681.3 403.16,681.3 403.53,681.3 403.89,681.3 404.26,681.3 404.63,681.3 405,681.29 405.37,681.28 405.74,681.26 406.11,681.25 406.47,681.21 406.84,681.16 407.21,681.09 407.58,681.01 407.95,680.93 408.32,680.84 408.68,680.75 409.05,680.66 409.42,680.55 409.79,680.44 410.16,680.32 410.53,680.19 410.89,680.05 411.26,679.9 411.63,679.74 412,679.57 412.37,679.37 412.74,679.17 413.11,678.96 413.47,678.73 413.84,678.46 414.21,678.2 414.58,677.98 414.95,677.84 415.32,677.73 415.68,677.64 416.05,677.58 416.42,677.54 416.79,677.53 417.16,677.55 417.53,677.59 417.89,677.64 418.26,677.71 418.63,677.79 419,677.89 419.37,678.01 419.74,678.14 420.11,678.3 420.47,678.56 420.84,678.85 421.21,679.04 421.58,679.19 421.95,679.32 422.32,679.44 422.68,679.55 423.05,679.65 423.42,679.75 423.79,679.85 424.16,679.95 424.53,680.05 424.89,680.14 425.26,680.23 425.63,680.31 426,680.38 426.37,680.45 426.74,680.51 427.11,680.57 427.47,680.63 427.84,680.68 428.21,680.72 428.58,680.76 428.95,680.79 429.32,680.81 429.68,680.84 430.05,680.86 430.42,680.88 430.79,680.9 431.16,680.92 431.53,680.93 431.89,680.95 432.26,680.96 432.63,680.98 433,680.99 433.37,681.01 433.74,681.02 434.11,681.03 434.47,681.04 434.84,681.06 435.21,681.07 435.58,681.08 435.95,681.09 436.32,681.1 436.68,681.11 437.05,681.12 437.42,681.13 437.79,681.14 438.16,681.15 438.53,681.16 438.89,681.16 439.26,681.17 439.63,681.18 440,681.19 440.37,681.2 440.74,681.2 441.11,681.21 441.47,681.22 441.84,681.22 442.21,681.23 442.58,681.24 442.95,681.24 443.32,681.25 443.68,681.25 444.05,681.25 444.42,681.26 444.79,681.26 445.16,681.27 445.53,681.27 445.89,681.27 446.26,681.28 446.63,681.28 447,681.28 447.37,681.28 447.74,681.29 448.11,681.29 448.47,681.29 448.84,681.29 449.21,681.29 449.58,681.29 449.95,681.29 450.32,681.29 450.68,681.3 451.05,681.3 451.42,681.3 451.79,681.3 452.16,681.3 452.53,681.3 452.89,681.3 453.26,681.3 453.63,681.3 454,681.3 454.37,681.3 454.74,681.3 455.11,681.3 455.47,681.3 455.84,681.3 456.21,681.3 456.58,681.3 456.95,681.3 457.32,681.3 457.68,681.3 458.05,681.3 458.42,681.3 458.79,681.3 459.16,681.3 459.53,681.3 459.89,681.3 460.26,681.3 460.63,681.3 461,681.3 461.37,681.3 461.74,681.3 462.11,681.3 462.47,681.3 462.84,681.3 463.21,681.3 463.58,681.3 463.95,681.3 464.32,681.3 464.68,681.3 465.05,681.3 465.42,681.3 465.79,681.3 466.16,681.3 466.53,681.3 466.89,681.3 467.26,681.3 467.63,681.3 468,681.3 468.37,681.3 468.74,681.3 469.11,681.3 469.47,681.3 469.84,681.3 470.21,681.3 470.58,681.3 470.95,681.3 471.32,681.3 471.68,681.3 472.05,681.3 472.42,681.3 472.79,681.3 473.16,681.3 473.53,681.3 473.89,681.3 474.26,681.3 474.63,681.3 475,681.3 475.37,681.3 475.74,681.3 476.11,681.3 476.47,681.3 476.84,681.3 477.21,681.3 477.58,681.3 477.95,681.3 478.32,681.3 478.68,681.3 479.05,681.3 479.42,681.3 479.79,681.3 480.16,681.3 480.53,681.3 480.89,681.3 481.26,681.3 481.63,681.3 482,681.3 482.37,681.3 482.74,681.3 483.11,681.3 483.47,681.3 483.84,681.3 484.21,681.3 484.58,681.3 484.95,681.3 485.32,681.3 485.68,681.3 486.05,681.3 486.42,681.3 486.79,681.3 487.16,681.3 487.53,681.3 487.89,681.3 488.26,681.3 488.63,681.3 489,681.3 489.37,681.3 489.74,681.3 490.11,681.3 490.47,681.3 490.84,681.3 491.21,681.3 491.58,681.3 491.95,681.3 492.32,681.3 492.68,681.3 493.05,681.3 493.42,681.3 493.79,681.3 494.16,681.3 494.53,681.3 494.89,681.3 495.26,681.3 495.63,681.3 496,681.3 496.37,681.3 496.74,681.3 497.11,681.3 497.47,681.3 497.84,681.3 498.21,681.3 498.58,681.3 498.95,681.3 499.32,681.3 499.68,681.3 500.05,681.3 500.42,681.3 500.79,681.3 501.16,681.3 501.53,681.3 501.89,681.3 502.26,681.3 502.63,681.3 503,681.3 503.37,681.3 503.74,681.3 504.11,681.3 504.47,681.3 504.84,681.3 505.21,681.3 505.58,681.3 505.95,681.3 506.32,681.3 506.68,681.3 507.05,681.3 507.42,681.3 507.79,681.3 508.16,681.3 508.53,681.3 508.89,681.3 509.26,681.3 509.63,681.3 510,681.3" fill="none" stroke="#d9742a" stroke-width="2.1" stroke-linejoin="round"/>
<polyline points="363,681.3 363.37,681.3 363.74,681.3 364.11,681.3 364.47,681.3 364.84,681.3 365.21,681.3 365.58,681.3 365.95,681.3 366.32,681.3 366.68,681.3 367.05,681.3 367.42,681.3 367.79,681.3 368.16,681.3 368.53,681.3 368.89,681.3 369.26,681.3 369.63,681.3 370,681.3 370.37,681.3 370.74,681.3 371.11,681.3 371.47,681.3 371.84,681.3 372.21,681.3 372.58,681.3 372.95,681.3 373.32,681.3 373.68,681.3 374.05,681.3 374.42,681.3 374.79,681.3 375.16,681.3 375.53,681.3 375.89,681.3 376.26,681.3 376.63,681.3 377,681.3 377.37,681.3 377.74,681.3 378.11,681.3 378.47,681.3 378.84,681.3 379.21,681.3 379.58,681.3 379.95,681.3 380.32,681.3 380.68,681.3 381.05,681.3 381.42,681.3 381.79,681.3 382.16,681.3 382.53,681.3 382.89,681.3 383.26,681.3 383.63,681.3 384,681.3 384.37,681.3 384.74,681.3 385.11,681.3 385.47,681.3 385.84,681.3 386.21,681.3 386.58,681.3 386.95,681.3 387.32,681.3 387.68,681.3 388.05,681.3 388.42,681.3 388.79,681.3 389.16,681.3 389.53,681.3 389.89,681.3 390.26,681.3 390.63,681.3 391,681.3 391.37,681.3 391.74,681.3 392.11,681.3 392.47,681.3 392.84,681.3 393.21,681.3 393.58,681.3 393.95,681.3 394.32,681.3 394.68,681.3 395.05,681.3 395.42,681.3 395.79,681.3 396.16,681.3 396.53,681.3 396.89,681.3 397.26,681.3 397.63,681.3 398,681.3 398.37,681.3 398.74,681.3 399.11,681.3 399.47,681.3 399.84,681.3 400.21,681.3 400.58,681.3 400.95,681.3 401.32,681.3 401.68,681.3 402.05,681.3 402.42,681.3 402.79,681.3 403.16,681.3 403.53,681.3 403.89,681.3 404.26,681.3 404.63,681.3 405,681.3 405.37,681.29 405.74,681.29 406.11,681.28 406.47,681.27 406.84,681.24 407.21,681.21 407.58,681.18 407.95,681.15 408.32,681.12 408.68,681.08 409.05,681.04 409.42,681 409.79,680.96 410.16,680.91 410.53,680.86 410.89,680.8 411.26,680.74 411.63,680.68 412,680.61 412.37,680.53 412.74,680.45 413.11,680.36 413.47,680.27 413.84,680.16 414.21,680.06 414.58,679.97 414.95,679.92 415.32,679.87 415.68,679.84 416.05,679.81 416.42,679.8 416.79,679.79 417.16,679.8 417.53,679.82 417.89,679.83 418.26,679.86 418.63,679.9 419,679.94 419.37,679.98 419.74,680.04 420.11,680.1 420.47,680.2 420.84,680.32 421.21,680.4 421.58,680.46 421.95,680.51 422.32,680.56 422.68,680.6 423.05,680.64 423.42,680.68 423.79,680.72 424.16,680.76 424.53,680.8 424.89,680.84 425.26,680.87 425.63,680.9 426,680.93 426.37,680.96 426.74,680.99 427.11,681.01 427.47,681.03 427.84,681.05 428.21,681.07 428.58,681.08 428.95,681.1 429.32,681.11 429.68,681.12 430.05,681.12 430.42,681.13 430.79,681.14 431.16,681.15 431.53,681.15 431.89,681.16 432.26,681.16 432.63,681.17 433,681.18 433.37,681.18 433.74,681.19 434.11,681.19 434.47,681.2 434.84,681.2 435.21,681.21 435.58,681.21 435.95,681.22 436.32,681.22 436.68,681.22 437.05,681.23 437.42,681.23 437.79,681.24 438.16,681.24 438.53,681.24 438.89,681.25 439.26,681.25 439.63,681.25 440,681.26 440.37,681.26 440.74,681.26 441.11,681.26 441.47,681.27 441.84,681.27 442.21,681.27 442.58,681.27 442.95,681.28 443.32,681.28 443.68,681.28 444.05,681.28 444.42,681.28 444.79,681.28 445.16,681.29 445.53,681.29 445.89,681.29 446.26,681.29 446.63,681.29 447,681.29 447.37,681.29 447.74,681.29 448.11,681.29 448.47,681.3 448.84,681.3 449.21,681.3 449.58,681.3 449.95,681.3 450.32,681.3 450.68,681.3 451.05,681.3 451.42,681.3 451.79,681.3 452.16,681.3 452.53,681.3 452.89,681.3 453.26,681.3 453.63,681.3 454,681.3 454.37,681.3 454.74,681.3 455.11,681.3 455.47,681.3 455.84,681.3 456.21,681.3 456.58,681.3 456.95,681.3 457.32,681.3 457.68,681.3 458.05,681.3 458.42,681.3 458.79,681.3 459.16,681.3 459.53,681.3 459.89,681.3 460.26,681.3 460.63,681.3 461,681.3 461.37,681.3 461.74,681.3 462.11,681.3 462.47,681.3 462.84,681.3 463.21,681.3 463.58,681.3 463.95,681.3 464.32,681.3 464.68,681.3 465.05,681.3 465.42,681.3 465.79,681.3 466.16,681.3 466.53,681.3 466.89,681.3 467.26,681.3 467.63,681.3 468,681.3 468.37,681.3 468.74,681.3 469.11,681.3 469.47,681.3 469.84,681.3 470.21,681.3 470.58,681.3 470.95,681.3 471.32,681.3 471.68,681.3 472.05,681.3 472.42,681.3 472.79,681.3 473.16,681.3 473.53,681.3 473.89,681.3 474.26,681.3 474.63,681.3 475,681.3 475.37,681.3 475.74,681.3 476.11,681.3 476.47,681.3 476.84,681.3 477.21,681.3 477.58,681.3 477.95,681.3 478.32,681.3 478.68,681.3 479.05,681.3 479.42,681.3 479.79,681.3 480.16,681.3 480.53,681.3 480.89,681.3 481.26,681.3 481.63,681.3 482,681.3 482.37,681.3 482.74,681.3 483.11,681.3 483.47,681.3 483.84,681.3 484.21,681.3 484.58,681.3 484.95,681.3 485.32,681.3 485.68,681.3 486.05,681.3 486.42,681.3 486.79,681.3 487.16,681.3 487.53,681.3 487.89,681.3 488.26,681.3 488.63,681.3 489,681.3 489.37,681.3 489.74,681.3 490.11,681.3 490.47,681.3 490.84,681.3 491.21,681.3 491.58,681.3 491.95,681.3 492.32,681.3 492.68,681.3 493.05,681.3 493.42,681.3 493.79,681.3 494.16,681.3 494.53,681.3 494.89,681.3 495.26,681.3 495.63,681.3 496,681.3 496.37,681.3 496.74,681.3 497.11,681.3 497.47,681.3 497.84,681.3 498.21,681.3 498.58,681.3 498.95,681.3 499.32,681.3 499.68,681.3 500.05,681.3 500.42,681.3 500.79,681.3 501.16,681.3 501.53,681.3 501.89,681.3 502.26,681.3 502.63,681.3 503,681.3 503.37,681.3 503.74,681.3 504.11,681.3 504.47,681.3 504.84,681.3 505.21,681.3 505.58,681.3 505.95,681.3 506.32,681.3 506.68,681.3 507.05,681.3 507.42,681.3 507.79,681.3 508.16,681.3 508.53,681.3 508.89,681.3 509.26,681.3 509.63,681.3 510,681.3" fill="none" stroke="#0a0aff" stroke-width="2.1" stroke-linejoin="round"/>
<line x1="363" y1="681.3" x2="510" y2="681.3" stroke="#2a0ad8" stroke-width="2.6"/>
<path d="M397 621.9L405 624.3L412.5 625.2V626.1L405 626.7L397 629.1Z" fill="#0a0a0a"/>
<text x="332.8" y="686" font-size="13.8" text-anchor="middle" fill="#3a3a3a" textLength="9.8" lengthAdjust="spacingAndGlyphs" stroke="#3a3a3a" stroke-width="0.3">0</text>
<text x="332.8" y="611.64" font-size="13.8" text-anchor="middle" fill="#3a3a3a" textLength="25" lengthAdjust="spacingAndGlyphs" stroke="#3a3a3a" stroke-width="0.3">0.2</text>
<text x="332.8" y="535.98" font-size="13.8" text-anchor="middle" fill="#3a3a3a" textLength="25" lengthAdjust="spacingAndGlyphs" stroke="#3a3a3a" stroke-width="0.3">0.4</text>
<text x="332.8" y="460.32" font-size="13.8" text-anchor="middle" fill="#3a3a3a" textLength="25" lengthAdjust="spacingAndGlyphs" stroke="#3a3a3a" stroke-width="0.3">0.6</text>
<text x="332.8" y="384.66" font-size="13.8" text-anchor="middle" fill="#3a3a3a" textLength="25" lengthAdjust="spacingAndGlyphs" stroke="#3a3a3a" stroke-width="0.3">0.8</text>
<text x="332.8" y="309" font-size="13.8" text-anchor="middle" fill="#3a3a3a" textLength="9.8" lengthAdjust="spacingAndGlyphs" stroke="#3a3a3a" stroke-width="0.3">1</text>
<text x="332.8" y="233.34" font-size="13.8" text-anchor="middle" fill="#3a3a3a" textLength="25" lengthAdjust="spacingAndGlyphs" stroke="#3a3a3a" stroke-width="0.3">1.2</text>
<text x="332.8" y="157.68" font-size="13.8" text-anchor="middle" fill="#3a3a3a" textLength="25" lengthAdjust="spacingAndGlyphs" stroke="#3a3a3a" stroke-width="0.3">1.4</text>
<text x="332.8" y="82.02" font-size="13.8" text-anchor="middle" fill="#3a3a3a" textLength="25" lengthAdjust="spacingAndGlyphs" stroke="#3a3a3a" stroke-width="0.3">1.6</text>
<text x="364.3" y="703.8" font-size="13.7" text-anchor="middle" fill="#3a3a3a" textLength="35.2" lengthAdjust="spacingAndGlyphs" stroke="#3a3a3a" stroke-width="0.3">29.5</text>
<text x="412.5" y="703.8" font-size="13.7" text-anchor="middle" fill="#3a3a3a" textLength="35.2" lengthAdjust="spacingAndGlyphs" stroke="#3a3a3a" stroke-width="0.3">30.0</text>
<text x="460.7" y="703.8" font-size="13.7" text-anchor="middle" fill="#3a3a3a" textLength="35.2" lengthAdjust="spacingAndGlyphs" stroke="#3a3a3a" stroke-width="0.3">30.5</text>
<text x="508.9" y="703.8" font-size="13.7" text-anchor="middle" fill="#3a3a3a" textLength="35.2" lengthAdjust="spacingAndGlyphs" stroke="#3a3a3a" stroke-width="0.3">31.0</text>
<text x="436.5" y="724.7" font-size="12.2" text-anchor="middle" font-weight="bold" fill="#1c1c1c" textLength="126.5" lengthAdjust="spacingAndGlyphs">Retention Time</text>
<text x="304.6" y="360.5" font-size="18.6" text-anchor="middle" font-weight="bold" fill="#1c1c1c" textLength="94.2" lengthAdjust="spacingAndGlyphs" transform="rotate(-90 304.6 360.5)">Intensity (10^6)</text>
<text x="404.5" y="599.5" font-size="26.8" text-anchor="start" textLength="30.5" lengthAdjust="spacingAndGlyphs">2x</text>
<g stroke="#232323" stroke-width="1.7" fill="none">
<path d="M635 38.69V681.3"/>
<path d="M627.6 681.3H641.2M631.7 663.69H638M631.7 644.77H638M631.7 625.86H638M627.6 606.94H641.2M631.7 588.02H638M631.7 569.11H638M631.7 550.19H638M627.6 531.28H641.2M631.7 512.37H638M631.7 493.45H638M631.7 474.53H638M627.6 455.62H641.2M631.7 436.71H638M631.7 417.79H638M631.7 398.88H638M627.6 379.96H641.2M631.7 361.04H638M631.7 342.13H638M631.7 323.21H638M627.6 304.3H641.2M631.7 285.38H638M631.7 266.47H638M631.7 247.55H638M627.6 228.64H641.2M631.7 209.73H638M631.7 190.81H638M631.7 171.89H638M627.6 152.98H641.2M631.7 134.06H638M631.7 115.15H638M631.7 96.24H638M627.6 77.32H641.2M631.7 58.4H638M631.7 39.49H638"/>
<path d="M627.6 681.3H782M641 676.8V687.3M650.02 681.3V684.5M659.04 681.3V684.5M668.06 681.3V684.5M677.08 681.3V684.5M686.1 676.8V687.3M695.12 681.3V684.5M704.14 681.3V684.5M713.16 681.3V684.5M722.18 681.3V684.5M731.2 676.8V687.3M740.22 681.3V684.5M749.24 681.3V684.5M758.26 681.3V684.5M767.28 681.3V684.5M776.3 676.8V687.3"/>
</g>
<polyline points="635,681.3 635.37,681.3 635.74,681.3 636.11,681.3 636.47,681.3 636.84,681.3 637.21,681.3 637.58,681.3 637.95,681.3 638.32,681.3 638.68,681.3 639.05,681.3 639.42,681.3 639.79,681.3 640.16,681.3 640.53,681.3 640.89,681.3 641.26,681.3 641.63,681.3 642,681.3 642.37,681.3 642.74,681.3 643.11,681.3 643.47,681.3 643.84,681.3 644.21,681.3 644.58,681.3 644.95,681.3 645.32,681.3 645.68,681.3 646.05,681.3 646.42,681.3 646.79,681.3 647.16,681.3 647.53,681.3 647.89,681.3 648.26,681.3 648.63,681.3 649,681.3 649.37,681.3 649.74,681.3 650.11,681.3 650.47,681.3 650.84,681.3 651.21,681.3 651.58,681.3 651.95,681.3 652.32,681.3 652.68,681.3 653.05,681.3 653.42,681.3 653.79,681.3 654.16,681.3 654.53,681.29 654.89,681.29 655.26,681.29 655.63,681.28 656,681.28 656.37,681.27 656.74,681.26 657.11,681.25 657.47,681.23 657.84,681.21 658.21,681.19 658.58,681.16 658.95,681.13 659.32,681.09 659.68,681.04 660.05,680.99 660.42,680.93 660.79,680.86 661.16,680.79 661.53,680.71 661.89,680.62 662.26,680.53 662.63,680.44 663,680.34 663.37,680.25 663.74,680.16 664.11,680.08 664.47,680 664.84,679.93 665.21,679.88 665.58,679.83 665.95,679.81 666.32,679.79 666.68,679.79 667.05,679.81 667.42,679.84 667.79,679.89 668.16,679.95 668.53,680.02 668.89,680.1 669.26,680.19 669.63,680.28 670,680.37 670.37,680.46 670.74,680.55 671.11,680.64 671.47,680.73 671.84,680.81 672.21,680.88 672.58,680.94 672.95,681 673.32,681.05 673.68,681.1 674.05,681.14 674.42,681.17 674.79,681.2 675.16,681.22 675.53,681.24 675.89,681.19 676.26,681.05 676.63,680.85 677,680.6 677.37,680.31 677.74,679.98 678.11,679.51 678.47,678.89 678.84,678.13 679.21,677.23 679.58,675.99 679.95,674.32 680.32,672.15 680.68,668.33 681.05,663.87 681.42,660.52 681.79,657.81 682.16,654.83 682.53,650.81 682.89,644.79 683.26,627.76 683.63,609.69 684,600 684.37,591.07 684.74,578.82 685.11,564.64 685.47,549.59 685.84,538.7 686.21,531.8 686.58,526.32 686.95,522.32 687.32,519.77 687.68,517.72 688.05,515.97 688.42,514.65 688.79,513.9 689.16,513.88 689.53,514.84 689.89,516.55 690.26,518.73 690.63,521.08 691,523.43 691.37,526.24 691.74,529.48 692.11,533.03 692.47,536.78 692.84,540.69 693.21,544.88 693.58,549.44 693.95,554.43 694.32,559.92 694.68,566.63 695.05,574.54 695.42,582.56 695.79,589.58 696.16,595.44 696.53,600.77 696.89,605.87 697.26,611.08 697.63,616.76 698,623.42 698.37,630.37 698.74,636.68 699.11,641.46 699.47,644.17 699.84,646.05 700.21,647.6 700.58,649.18 700.95,650.74 701.32,652.22 701.68,653.64 702.05,654.99 702.42,656.2 702.79,657.33 703.16,658.47 703.53,659.72 703.89,661.24 704.26,663.36 704.63,665.09 705,665.84 705.37,666.36 705.74,666.82 706.11,667.23 706.47,667.61 706.84,668 707.21,668.41 707.58,668.88 707.95,669.41 708.32,669.97 708.68,670.53 709.05,671.06 709.42,671.53 709.79,671.93 710.16,672.28 710.53,672.61 710.89,672.92 711.26,673.23 711.63,673.56 712,673.91 712.37,674.28 712.74,674.66 713.11,675.06 713.47,675.48 713.84,675.99 714.21,676.54 714.58,677.04 714.95,677.42 715.32,677.71 715.68,677.96 716.05,678.18 716.42,678.37 716.79,678.55 717.16,678.72 717.53,678.87 717.89,679.03 718.26,679.18 718.63,679.32 719,679.45 719.37,679.58 719.74,679.69 720.11,679.8 720.47,679.89 720.84,679.98 721.21,680.05 721.58,680.11 721.95,680.18 722.32,680.24 722.68,680.29 723.05,680.34 723.42,680.39 723.79,680.43 724.16,680.48 724.53,680.52 724.89,680.56 725.26,680.6 725.63,680.64 726,680.67 726.37,680.71 726.74,680.74 727.11,680.78 727.47,680.81 727.84,680.84 728.21,680.87 728.58,680.9 728.95,680.93 729.32,680.96 729.68,680.99 730.05,681.02 730.42,681.04 730.79,681.07 731.16,681.1 731.53,681.13 731.89,681.15 732.26,681.18 732.63,681.2 733,681.23 733.37,681.25 733.74,681.28 734.11,681.3 734.47,681.3 734.84,681.3 735.21,681.3 735.58,681.3 735.95,681.3 736.32,681.3 736.68,681.3 737.05,681.3 737.42,681.3 737.79,681.3 738.16,681.3 738.53,681.3 738.89,681.3 739.26,681.3 739.63,681.3 740,681.3 740.37,681.3 740.74,681.3 741.11,681.3 741.47,681.3 741.84,681.3 742.21,681.3 742.58,681.3 742.95,681.3 743.32,681.3 743.68,681.3 744.05,681.3 744.42,681.3 744.79,681.3 745.16,681.3 745.53,681.3 745.89,681.3 746.26,681.3 746.63,681.3 747,681.3 747.37,681.3 747.74,681.3 748.11,681.3 748.47,681.3 748.84,681.3 749.21,681.3 749.58,681.3 749.95,681.3 750.32,681.3 750.68,681.3 751.05,681.3 751.42,681.3 751.79,681.3 752.16,681.3 752.53,681.3 752.89,681.3 753.26,681.3 753.63,681.3 754,681.3 754.37,681.3 754.74,681.3 755.11,681.3 755.47,681.3 755.84,681.3 756.21,681.3 756.58,681.3 756.95,681.3 757.32,681.3 757.68,681.3 758.05,681.3 758.42,681.3 758.79,681.3 759.16,681.3 759.53,681.3 759.89,681.3 760.26,681.3 760.63,681.3 761,681.3 761.37,681.3 761.74,681.3 762.11,681.3 762.47,681.3 762.84,681.3 763.21,681.3 763.58,681.3 763.95,681.3 764.32,681.3 764.68,681.3 765.05,681.3 765.42,681.3 765.79,681.3 766.16,681.3 766.53,681.3 766.89,681.3 767.26,681.3 767.63,681.3 768,681.3 768.37,681.3 768.74,681.3 769.11,681.3 769.47,681.3 769.84,681.3 770.21,681.3 770.58,681.3 770.95,681.3 771.32,681.3 771.68,681.3 772.05,681.3 772.42,681.3 772.79,681.3 773.16,681.3 773.53,681.3 773.89,681.3 774.26,681.3 774.63,681.3 775,681.3 775.37,681.3 775.74,681.3 776.11,681.3 776.47,681.3 776.84,681.3 777.21,681.3 777.58,681.3 777.95,681.3 778.32,681.3 778.68,681.3 779.05,681.3 779.42,681.3 779.79,681.3 780.16,681.3 780.53,681.3 780.89,681.3 781.26,681.3 781.63,681.3 782,681.3" fill="none" stroke="#8c30e2" stroke-width="2.1" stroke-linejoin="round"/>
<polyline points="635,681.3 635.37,681.3 635.74,681.3 636.11,681.3 636.47,681.3 636.84,681.3 637.21,681.3 637.58,681.3 637.95,681.3 638.32,681.3 638.68,681.3 639.05,681.3 639.42,681.3 639.79,681.3 640.16,681.3 640.53,681.3 640.89,681.3 641.26,681.3 641.63,681.3 642,681.3 642.37,681.3 642.74,681.3 643.11,681.3 643.47,681.3 643.84,681.3 644.21,681.3 644.58,681.3 644.95,681.3 645.32,681.3 645.68,681.3 646.05,681.3 646.42,681.3 646.79,681.3 647.16,681.3 647.53,681.3 647.89,681.3 648.26,681.3 648.63,681.3 649,681.3 649.37,681.3 649.74,681.3 650.11,681.3 650.47,681.3 650.84,681.3 651.21,681.3 651.58,681.3 651.95,681.3 652.32,681.3 652.68,681.3 653.05,681.3 653.42,681.3 653.79,681.3 654.16,681.3 654.53,681.3 654.89,681.3 655.26,681.3 655.63,681.3 656,681.3 656.37,681.3 656.74,681.3 657.11,681.3 657.47,681.3 657.84,681.3 658.21,681.3 658.58,681.3 658.95,681.3 659.32,681.3 659.68,681.3 660.05,681.3 660.42,681.3 660.79,681.3 661.16,681.3 661.53,681.3 661.89,681.3 662.26,681.3 662.63,681.3 663,681.3 663.37,681.3 663.74,681.3 664.11,681.3 664.47,681.3 664.84,681.3 665.21,681.3 665.58,681.3 665.95,681.3 666.32,681.3 666.68,681.3 667.05,681.3 667.42,681.3 667.79,681.3 668.16,681.3 668.53,681.3 668.89,681.3 669.26,681.3 669.63,681.3 670,681.3 670.37,681.3 670.74,681.3 671.11,681.3 671.47,681.3 671.84,681.3 672.21,681.3 672.58,681.3 672.95,681.3 673.32,681.3 673.68,681.3 674.05,681.3 674.42,681.3 674.79,681.3 675.16,681.3 675.53,681.3 675.89,681.3 676.26,681.3 676.63,681.3 677,681.3 677.37,681.3 677.74,681.29 678.11,681.24 678.47,681.15 678.84,681.03 679.21,680.88 679.58,680.65 679.95,680.17 680.32,679.51 680.68,678.73 681.05,677.94 681.42,677.14 681.79,676.25 682.16,675.29 682.53,674.24 682.89,673.13 683.26,671.94 683.63,670.63 684,669.22 684.37,667.7 684.74,666.05 685.11,664.22 685.47,662.26 685.84,660.21 686.21,657.99 686.58,655.38 686.95,652.8 687.32,650.68 687.68,649.32 688.05,648.26 688.42,647.48 688.79,646.96 689.16,646.61 689.53,646.67 689.89,646.98 690.26,647.39 690.63,648.02 691,648.84 691.37,649.77 691.74,650.85 692.11,652.16 692.47,653.76 692.84,656.36 693.21,659.13 693.58,660.88 693.95,662.3 694.32,663.53 694.68,664.63 695.05,665.64 695.42,666.63 695.79,667.64 696.16,668.64 696.53,669.6 696.89,670.53 697.26,671.4 697.63,672.19 698,672.9 698.37,673.55 698.74,674.17 699.11,674.75 699.47,675.29 699.84,675.76 700.21,676.16 700.58,676.47 700.95,676.74 701.32,676.98 701.68,677.2 702.05,677.4 702.42,677.58 702.79,677.75 703.16,677.91 703.53,678.06 703.89,678.21 704.26,678.36 704.63,678.5 705,678.64 705.37,678.77 705.74,678.89 706.11,679.01 706.47,679.13 706.84,679.24 707.21,679.35 707.58,679.45 707.95,679.54 708.32,679.64 708.68,679.73 709.05,679.82 709.42,679.91 709.79,679.99 710.16,680.08 710.53,680.16 710.89,680.24 711.26,680.32 711.63,680.39 712,680.46 712.37,680.53 712.74,680.59 713.11,680.65 713.47,680.71 713.84,680.76 714.21,680.8 714.58,680.84 714.95,680.88 715.32,680.92 715.68,680.96 716.05,681 716.42,681.03 716.79,681.06 717.16,681.09 717.53,681.12 717.89,681.14 718.26,681.16 718.63,681.18 719,681.19 719.37,681.21 719.74,681.22 720.11,681.23 720.47,681.24 720.84,681.26 721.21,681.27 721.58,681.28 721.95,681.28 722.32,681.29 722.68,681.29 723.05,681.3 723.42,681.3 723.79,681.3 724.16,681.3 724.53,681.3 724.89,681.3 725.26,681.3 725.63,681.3 726,681.3 726.37,681.3 726.74,681.3 727.11,681.3 727.47,681.3 727.84,681.3 728.21,681.3 728.58,681.3 728.95,681.3 729.32,681.3 729.68,681.3 730.05,681.3 730.42,681.3 730.79,681.3 731.16,681.3 731.53,681.3 731.89,681.3 732.26,681.3 732.63,681.3 733,681.3 733.37,681.3 733.74,681.3 734.11,681.3 734.47,681.3 734.84,681.3 735.21,681.3 735.58,681.3 735.95,681.3 736.32,681.3 736.68,681.3 737.05,681.3 737.42,681.3 737.79,681.3 738.16,681.3 738.53,681.3 738.89,681.3 739.26,681.3 739.63,681.3 740,681.3 740.37,681.3 740.74,681.3 741.11,681.3 741.47,681.3 741.84,681.3 742.21,681.3 742.58,681.3 742.95,681.3 743.32,681.3 743.68,681.3 744.05,681.3 744.42,681.3 744.79,681.3 745.16,681.3 745.53,681.3 745.89,681.3 746.26,681.3 746.63,681.3 747,681.3 747.37,681.3 747.74,681.3 748.11,681.3 748.47,681.3 748.84,681.3 749.21,681.3 749.58,681.3 749.95,681.3 750.32,681.3 750.68,681.3 751.05,681.3 751.42,681.3 751.79,681.3 752.16,681.3 752.53,681.3 752.89,681.3 753.26,681.3 753.63,681.3 754,681.3 754.37,681.3 754.74,681.3 755.11,681.3 755.47,681.3 755.84,681.3 756.21,681.3 756.58,681.3 756.95,681.3 757.32,681.3 757.68,681.3 758.05,681.3 758.42,681.3 758.79,681.3 759.16,681.3 759.53,681.3 759.89,681.3 760.26,681.3 760.63,681.3 761,681.3 761.37,681.3 761.74,681.3 762.11,681.3 762.47,681.3 762.84,681.3 763.21,681.3 763.58,681.3 763.95,681.3 764.32,681.3 764.68,681.3 765.05,681.3 765.42,681.3 765.79,681.3 766.16,681.3 766.53,681.3 766.89,681.3 767.26,681.3 767.63,681.3 768,681.3 768.37,681.3 768.74,681.3 769.11,681.3 769.47,681.3 769.84,681.3 770.21,681.3 770.58,681.3 770.95,681.3 771.32,681.3 771.68,681.3 772.05,681.3 772.42,681.3 772.79,681.3 773.16,681.3 773.53,681.3 773.89,681.3 774.26,681.3 774.63,681.3 775,681.3 775.37,681.3 775.74,681.3 776.11,681.3 776.47,681.3 776.84,681.3 777.21,681.3 777.58,681.3 777.95,681.3 778.32,681.3 778.68,681.3 779.05,681.3 779.42,681.3 779.79,681.3 780.16,681.3 780.53,681.3 780.89,681.3 781.26,681.3 781.63,681.3 782,681.3" fill="none" stroke="#a62c2c" stroke-width="2.1" stroke-linejoin="round"/>
<polyline points="635,681.3 635.37,681.3 635.74,681.3 636.11,681.3 636.47,681.3 636.84,681.3 637.21,681.3 637.58,681.3 637.95,681.3 638.32,681.3 638.68,681.3 639.05,681.3 639.42,681.3 639.79,681.3 640.16,681.3 640.53,681.3 640.89,681.3 641.26,681.3 641.63,681.3 642,681.3 642.37,681.3 642.74,681.3 643.11,681.3 643.47,681.3 643.84,681.3 644.21,681.3 644.58,681.3 644.95,681.3 645.32,681.3 645.68,681.3 646.05,681.3 646.42,681.3 646.79,681.3 647.16,681.3 647.53,681.3 647.89,681.3 648.26,681.3 648.63,681.3 649,681.3 649.37,681.3 649.74,681.3 650.11,681.3 650.47,681.3 650.84,681.3 651.21,681.3 651.58,681.3 651.95,681.3 652.32,681.3 652.68,681.3 653.05,681.3 653.42,681.3 653.79,681.3 654.16,681.3 654.53,681.3 654.89,681.3 655.26,681.3 655.63,681.3 656,681.3 656.37,681.3 656.74,681.3 657.11,681.3 657.47,681.3 657.84,681.3 658.21,681.3 658.58,681.3 658.95,681.3 659.32,681.3 659.68,681.3 660.05,681.3 660.42,681.3 660.79,681.3 661.16,681.3 661.53,681.3 661.89,681.3 662.26,681.3 662.63,681.3 663,681.3 663.37,681.3 663.74,681.3 664.11,681.3 664.47,681.3 664.84,681.3 665.21,681.3 665.58,681.3 665.95,681.3 666.32,681.3 666.68,681.3 667.05,681.3 667.42,681.3 667.79,681.3 668.16,681.3 668.53,681.3 668.89,681.3 669.26,681.3 669.63,681.3 670,681.3 670.37,681.3 670.74,681.3 671.11,681.3 671.47,681.3 671.84,681.3 672.21,681.3 672.58,681.3 672.95,681.3 673.32,681.3 673.68,681.3 674.05,681.3 674.42,681.3 674.79,681.3 675.16,681.3 675.53,681.3 675.89,681.3 676.26,681.3 676.63,681.3 677,681.3 677.37,681.3 677.74,681.3 678.11,681.28 678.47,681.25 678.84,681.2 679.21,681.14 679.58,681.06 679.95,680.88 680.32,680.64 680.68,680.35 681.05,680.06 681.42,679.76 681.79,679.44 682.16,679.08 682.53,678.69 682.89,678.28 683.26,677.84 683.63,677.36 684,676.84 684.37,676.27 684.74,675.66 685.11,674.99 685.47,674.26 685.84,673.5 686.21,672.68 686.58,671.72 686.95,670.77 687.32,669.99 687.68,669.48 688.05,669.09 688.42,668.8 688.79,668.61 689.16,668.48 689.53,668.5 689.89,668.62 690.26,668.77 690.63,669 691,669.3 691.37,669.65 691.74,670.05 692.11,670.53 692.47,671.12 692.84,672.08 693.21,673.11 693.58,673.75 693.95,674.28 694.32,674.73 694.68,675.14 695.05,675.51 695.42,675.88 695.79,676.25 696.16,676.62 696.53,676.98 696.89,677.32 697.26,677.64 697.63,677.93 698,678.2 698.37,678.43 698.74,678.66 699.11,678.88 699.47,679.08 699.84,679.25 700.21,679.4 700.58,679.51 700.95,679.61 701.32,679.7 701.68,679.78 702.05,679.86 702.42,679.93 702.79,679.99 703.16,680.05 703.53,680.1 703.89,680.16 704.26,680.21 704.63,680.27 705,680.32 705.37,680.36 705.74,680.41 706.11,680.46 706.47,680.5 706.84,680.54 707.21,680.58 707.58,680.62 707.95,680.65 708.32,680.69 708.68,680.72 709.05,680.75 709.42,680.78 709.79,680.82 710.16,680.85 710.53,680.88 710.89,680.91 711.26,680.94 711.63,680.96 712,680.99 712.37,681.02 712.74,681.04 713.11,681.06 713.47,681.08 713.84,681.1 714.21,681.12 714.58,681.13 714.95,681.15 715.32,681.16 715.68,681.17 716.05,681.19 716.42,681.2 716.79,681.21 717.16,681.22 717.53,681.23 717.89,681.24 718.26,681.25 718.63,681.26 719,681.26 719.37,681.27 719.74,681.27 720.11,681.28 720.47,681.28 720.84,681.28 721.21,681.29 721.58,681.29 721.95,681.29 722.32,681.3 722.68,681.3 723.05,681.3 723.42,681.3 723.79,681.3 724.16,681.3 724.53,681.3 724.89,681.3 725.26,681.3 725.63,681.3 726,681.3 726.37,681.3 726.74,681.3 727.11,681.3 727.47,681.3 727.84,681.3 728.21,681.3 728.58,681.3 728.95,681.3 729.32,681.3 729.68,681.3 730.05,681.3 730.42,681.3 730.79,681.3 731.16,681.3 731.53,681.3 731.89,681.3 732.26,681.3 732.63,681.3 733,681.3 733.37,681.3 733.74,681.3 734.11,681.3 734.47,681.3 734.84,681.3 735.21,681.3 735.58,681.3 735.95,681.3 736.32,681.3 736.68,681.3 737.05,681.3 737.42,681.3 737.79,681.3 738.16,681.3 738.53,681.3 738.89,681.3 739.26,681.3 739.63,681.3 740,681.3 740.37,681.3 740.74,681.3 741.11,681.3 741.47,681.3 741.84,681.3 742.21,681.3 742.58,681.3 742.95,681.3 743.32,681.3 743.68,681.3 744.05,681.3 744.42,681.3 744.79,681.3 745.16,681.3 745.53,681.3 745.89,681.3 746.26,681.3 746.63,681.3 747,681.3 747.37,681.3 747.74,681.3 748.11,681.3 748.47,681.3 748.84,681.3 749.21,681.3 749.58,681.3 749.95,681.3 750.32,681.3 750.68,681.3 751.05,681.3 751.42,681.3 751.79,681.3 752.16,681.3 752.53,681.3 752.89,681.3 753.26,681.3 753.63,681.3 754,681.3 754.37,681.3 754.74,681.3 755.11,681.3 755.47,681.3 755.84,681.3 756.21,681.3 756.58,681.3 756.95,681.3 757.32,681.3 757.68,681.3 758.05,681.3 758.42,681.3 758.79,681.3 759.16,681.3 759.53,681.3 759.89,681.3 760.26,681.3 760.63,681.3 761,681.3 761.37,681.3 761.74,681.3 762.11,681.3 762.47,681.3 762.84,681.3 763.21,681.3 763.58,681.3 763.95,681.3 764.32,681.3 764.68,681.3 765.05,681.3 765.42,681.3 765.79,681.3 766.16,681.3 766.53,681.3 766.89,681.3 767.26,681.3 767.63,681.3 768,681.3 768.37,681.3 768.74,681.3 769.11,681.3 769.47,681.3 769.84,681.3 770.21,681.3 770.58,681.3 770.95,681.3 771.32,681.3 771.68,681.3 772.05,681.3 772.42,681.3 772.79,681.3 773.16,681.3 773.53,681.3 773.89,681.3 774.26,681.3 774.63,681.3 775,681.3 775.37,681.3 775.74,681.3 776.11,681.3 776.47,681.3 776.84,681.3 777.21,681.3 777.58,681.3 777.95,681.3 778.32,681.3 778.68,681.3 779.05,681.3 779.42,681.3 779.79,681.3 780.16,681.3 780.53,681.3 780.89,681.3 781.26,681.3 781.63,681.3 782,681.3" fill="none" stroke="#d9742a" stroke-width="2.1" stroke-linejoin="round"/>
<polyline points="635,681.3 635.37,681.3 635.74,681.3 636.11,681.3 636.47,681.3 636.84,681.3 637.21,681.3 637.58,681.3 637.95,681.3 638.32,681.3 638.68,681.3 639.05,681.3 639.42,681.3 639.79,681.3 640.16,681.3 640.53,681.3 640.89,681.3 641.26,681.3 641.63,681.3 642,681.3 642.37,681.3 642.74,681.3 643.11,681.3 643.47,681.3 643.84,681.3 644.21,681.3 644.58,681.3 644.95,681.3 645.32,681.3 645.68,681.3 646.05,681.3 646.42,681.3 646.79,681.3 647.16,681.3 647.53,681.3 647.89,681.3 648.26,681.3 648.63,681.3 649,681.3 649.37,681.3 649.74,681.3 650.11,681.3 650.47,681.3 650.84,681.3 651.21,681.3 651.58,681.3 651.95,681.3 652.32,681.3 652.68,681.3 653.05,681.3 653.42,681.3 653.79,681.3 654.16,681.3 654.53,681.3 654.89,681.3 655.26,681.3 655.63,681.3 656,681.3 656.37,681.3 656.74,681.3 657.11,681.3 657.47,681.3 657.84,681.3 658.21,681.3 658.58,681.3 658.95,681.3 659.32,681.3 659.68,681.3 660.05,681.3 660.42,681.3 660.79,681.3 661.16,681.3 661.53,681.3 661.89,681.3 662.26,681.3 662.63,681.3 663,681.3 663.37,681.3 663.74,681.3 664.11,681.3 664.47,681.3 664.84,681.3 665.21,681.3 665.58,681.3 665.95,681.3 666.32,681.3 666.68,681.3 667.05,681.3 667.42,681.3 667.79,681.3 668.16,681.3 668.53,681.3 668.89,681.3 669.26,681.3 669.63,681.3 670,681.3 670.37,681.3 670.74,681.3 671.11,681.3 671.47,681.3 671.84,681.3 672.21,681.3 672.58,681.3 672.95,681.3 673.32,681.3 673.68,681.3 674.05,681.3 674.42,681.3 674.79,681.3 675.16,681.3 675.53,681.3 675.89,681.3 676.26,681.3 676.63,681.3 677,681.3 677.37,681.3 677.74,681.3 678.11,681.29 678.47,681.28 678.84,681.26 679.21,681.23 679.58,681.19 679.95,681.12 680.32,681.01 680.68,680.88 681.05,680.75 681.42,680.62 681.79,680.48 682.16,680.32 682.53,680.15 682.89,679.97 683.26,679.77 683.63,679.56 684,679.33 684.37,679.08 684.74,678.81 685.11,678.52 685.47,678.2 685.84,677.86 686.21,677.5 686.58,677.07 686.95,676.65 687.32,676.31 687.68,676.09 688.05,675.91 688.42,675.79 688.79,675.7 689.16,675.64 689.53,675.65 689.89,675.7 690.26,675.77 690.63,675.87 691,676.01 691.37,676.16 691.74,676.34 692.11,676.55 692.47,676.81 692.84,677.23 693.21,677.68 693.58,677.97 693.95,678.2 694.32,678.4 694.68,678.58 695.05,678.75 695.42,678.91 695.79,679.07 696.16,679.24 696.53,679.39 696.89,679.54 697.26,679.69 697.63,679.81 698,679.93 698.37,680.04 698.74,680.14 699.11,680.23 699.47,680.32 699.84,680.4 700.21,680.46 700.58,680.51 700.95,680.56 701.32,680.6 701.68,680.63 702.05,680.66 702.42,680.69 702.79,680.72 703.16,680.75 703.53,680.77 703.89,680.8 704.26,680.82 704.63,680.84 705,680.87 705.37,680.89 705.74,680.91 706.11,680.93 706.47,680.95 706.84,680.96 707.21,680.98 707.58,681 707.95,681.01 708.32,681.03 708.68,681.04 709.05,681.06 709.42,681.07 709.79,681.09 710.16,681.1 710.53,681.11 710.89,681.13 711.26,681.14 711.63,681.15 712,681.16 712.37,681.17 712.74,681.18 713.11,681.19 713.47,681.2 713.84,681.21 714.21,681.22 714.58,681.23 714.95,681.23 715.32,681.24 715.68,681.24 716.05,681.25 716.42,681.26 716.79,681.26 717.16,681.27 717.53,681.27 717.89,681.27 718.26,681.28 718.63,681.28 719,681.28 719.37,681.28 719.74,681.29 720.11,681.29 720.47,681.29 720.84,681.29 721.21,681.29 721.58,681.3 721.95,681.3 722.32,681.3 722.68,681.3 723.05,681.3 723.42,681.3 723.79,681.3 724.16,681.3 724.53,681.3 724.89,681.3 725.26,681.3 725.63,681.3 726,681.3 726.37,681.3 726.74,681.3 727.11,681.3 727.47,681.3 727.84,681.3 728.21,681.3 728.58,681.3 728.95,681.3 729.32,681.3 729.68,681.3 730.05,681.3 730.42,681.3 730.79,681.3 731.16,681.3 731.53,681.3 731.89,681.3 732.26,681.3 732.63,681.3 733,681.3 733.37,681.3 733.74,681.3 734.11,681.3 734.47,681.3 734.84,681.3 735.21,681.3 735.58,681.3 735.95,681.3 736.32,681.3 736.68,681.3 737.05,681.3 737.42,681.3 737.79,681.3 738.16,681.3 738.53,681.3 738.89,681.3 739.26,681.3 739.63,681.3 740,681.3 740.37,681.3 740.74,681.3 741.11,681.3 741.47,681.3 741.84,681.3 742.21,681.3 742.58,681.3 742.95,681.3 743.32,681.3 743.68,681.3 744.05,681.3 744.42,681.3 744.79,681.3 745.16,681.3 745.53,681.3 745.89,681.3 746.26,681.3 746.63,681.3 747,681.3 747.37,681.3 747.74,681.3 748.11,681.3 748.47,681.3 748.84,681.3 749.21,681.3 749.58,681.3 749.95,681.3 750.32,681.3 750.68,681.3 751.05,681.3 751.42,681.3 751.79,681.3 752.16,681.3 752.53,681.3 752.89,681.3 753.26,681.3 753.63,681.3 754,681.3 754.37,681.3 754.74,681.3 755.11,681.3 755.47,681.3 755.84,681.3 756.21,681.3 756.58,681.3 756.95,681.3 757.32,681.3 757.68,681.3 758.05,681.3 758.42,681.3 758.79,681.3 759.16,681.3 759.53,681.3 759.89,681.3 760.26,681.3 760.63,681.3 761,681.3 761.37,681.3 761.74,681.3 762.11,681.3 762.47,681.3 762.84,681.3 763.21,681.3 763.58,681.3 763.95,681.3 764.32,681.3 764.68,681.3 765.05,681.3 765.42,681.3 765.79,681.3 766.16,681.3 766.53,681.3 766.89,681.3 767.26,681.3 767.63,681.3 768,681.3 768.37,681.3 768.74,681.3 769.11,681.3 769.47,681.3 769.84,681.3 770.21,681.3 770.58,681.3 770.95,681.3 771.32,681.3 771.68,681.3 772.05,681.3 772.42,681.3 772.79,681.3 773.16,681.3 773.53,681.3 773.89,681.3 774.26,681.3 774.63,681.3 775,681.3 775.37,681.3 775.74,681.3 776.11,681.3 776.47,681.3 776.84,681.3 777.21,681.3 777.58,681.3 777.95,681.3 778.32,681.3 778.68,681.3 779.05,681.3 779.42,681.3 779.79,681.3 780.16,681.3 780.53,681.3 780.89,681.3 781.26,681.3 781.63,681.3 782,681.3" fill="none" stroke="#0a0aff" stroke-width="2.1" stroke-linejoin="round"/>
<line x1="635" y1="681.3" x2="782" y2="681.3" stroke="#2a0ad8" stroke-width="2.6"/>
<path d="M647.4 674.4L655.4 676.8L662.9 677.7V678.6L655.4 679.2L647.4 681.6Z" fill="#0a0a0a"/>
<text x="604.8" y="686" font-size="13.8" text-anchor="middle" fill="#3a3a3a" textLength="9.8" lengthAdjust="spacingAndGlyphs" stroke="#3a3a3a" stroke-width="0.3">0</text>
<text x="604.8" y="611.64" font-size="13.8" text-anchor="middle" fill="#3a3a3a" textLength="25" lengthAdjust="spacingAndGlyphs" stroke="#3a3a3a" stroke-width="0.3">0.2</text>
<text x="604.8" y="535.98" font-size="13.8" text-anchor="middle" fill="#3a3a3a" textLength="25" lengthAdjust="spacingAndGlyphs" stroke="#3a3a3a" stroke-width="0.3">0.4</text>
<text x="604.8" y="460.32" font-size="13.8" text-anchor="middle" fill="#3a3a3a" textLength="25" lengthAdjust="spacingAndGlyphs" stroke="#3a3a3a" stroke-width="0.3">0.6</text>
<text x="604.8" y="384.66" font-size="13.8" text-anchor="middle" fill="#3a3a3a" textLength="25" lengthAdjust="spacingAndGlyphs" stroke="#3a3a3a" stroke-width="0.3">0.8</text>
<text x="604.8" y="309" font-size="13.8" text-anchor="middle" fill="#3a3a3a" textLength="9.8" lengthAdjust="spacingAndGlyphs" stroke="#3a3a3a" stroke-width="0.3">1</text>
<text x="604.8" y="233.34" font-size="13.8" text-anchor="middle" fill="#3a3a3a" textLength="25" lengthAdjust="spacingAndGlyphs" stroke="#3a3a3a" stroke-width="0.3">1.2</text>
<text x="604.8" y="157.68" font-size="13.8" text-anchor="middle" fill="#3a3a3a" textLength="25" lengthAdjust="spacingAndGlyphs" stroke="#3a3a3a" stroke-width="0.3">1.4</text>
<text x="604.8" y="82.02" font-size="13.8" text-anchor="middle" fill="#3a3a3a" textLength="25" lengthAdjust="spacingAndGlyphs" stroke="#3a3a3a" stroke-width="0.3">1.6</text>
<text x="641" y="703.8" font-size="13.7" text-anchor="middle" fill="#3a3a3a" textLength="35.2" lengthAdjust="spacingAndGlyphs" stroke="#3a3a3a" stroke-width="0.3">29.5</text>
<text x="686.1" y="703.8" font-size="13.7" text-anchor="middle" fill="#3a3a3a" textLength="35.2" lengthAdjust="spacingAndGlyphs" stroke="#3a3a3a" stroke-width="0.3">30.0</text>
<text x="731.2" y="703.8" font-size="13.7" text-anchor="middle" fill="#3a3a3a" textLength="35.2" lengthAdjust="spacingAndGlyphs" stroke="#3a3a3a" stroke-width="0.3">30.5</text>
<text x="776.3" y="703.8" font-size="13.7" text-anchor="middle" fill="#3a3a3a" textLength="35.2" lengthAdjust="spacingAndGlyphs" stroke="#3a3a3a" stroke-width="0.3">31.0</text>
<text x="708.5" y="724.7" font-size="12.2" text-anchor="middle" font-weight="bold" fill="#1c1c1c" textLength="126.5" lengthAdjust="spacingAndGlyphs">Retention Time</text>
<text x="576.6" y="360.5" font-size="18.6" text-anchor="middle" font-weight="bold" fill="#1c1c1c" textLength="94.2" lengthAdjust="spacingAndGlyphs" transform="rotate(-90 576.6 360.5)">Intensity (10^6)</text>
<text x="672.7" y="499.5" font-size="26.8" text-anchor="start" textLength="30.5" lengthAdjust="spacingAndGlyphs">4x</text>
<g stroke="#232323" stroke-width="1.7" fill="none">
<path d="M907.6 38.69V681.3"/>
<path d="M900.2 681.3H913.8M904.3 663.69H910.6M904.3 644.77H910.6M904.3 625.86H910.6M900.2 606.94H913.8M904.3 588.02H910.6M904.3 569.11H910.6M904.3 550.19H910.6M900.2 531.28H913.8M904.3 512.37H910.6M904.3 493.45H910.6M904.3 474.53H910.6M900.2 455.62H913.8M904.3 436.71H910.6M904.3 417.79H910.6M904.3 398.88H910.6M900.2 379.96H913.8M904.3 361.04H910.6M904.3 342.13H910.6M904.3 323.21H910.6M900.2 304.3H913.8M904.3 285.38H910.6M904.3 266.47H910.6M904.3 247.55H910.6M900.2 228.64H913.8M904.3 209.73H910.6M904.3 190.81H910.6M904.3 171.89H910.6M900.2 152.98H913.8M904.3 134.06H910.6M904.3 115.15H910.6M904.3 96.24H910.6M900.2 77.32H913.8M904.3 58.4H910.6M904.3 39.49H910.6"/>
<path d="M900.2 681.3H1054.5M913.3 676.8V687.3M922.68 681.3V684.5M932.06 681.3V684.5M941.44 681.3V684.5M950.82 681.3V684.5M960.2 676.8V687.3M969.58 681.3V684.5M978.96 681.3V684.5M988.34 681.3V684.5M997.72 681.3V684.5M1007.1 676.8V687.3M1016.48 681.3V684.5M1025.86 681.3V684.5M1035.24 681.3V684.5M1044.62 681.3V684.5M1054 676.8V687.3"/>
</g>
<polyline points="907.6,681.3 907.97,681.3 908.34,681.3 908.7,681.3 909.07,681.3 909.44,681.3 909.81,681.3 910.18,681.3 910.55,681.3 910.91,681.3 911.28,681.3 911.65,681.3 912.02,681.3 912.39,681.3 912.75,681.3 913.12,681.3 913.49,681.3 913.86,681.3 914.23,681.3 914.6,681.3 914.96,681.3 915.33,681.3 915.7,681.3 916.07,681.3 916.44,681.3 916.8,681.3 917.17,681.3 917.54,681.3 917.91,681.3 918.28,681.3 918.65,681.3 919.01,681.3 919.38,681.3 919.75,681.3 920.12,681.3 920.49,681.3 920.85,681.3 921.22,681.3 921.59,681.3 921.96,681.3 922.33,681.3 922.69,681.3 923.06,681.3 923.43,681.3 923.8,681.3 924.17,681.3 924.54,681.3 924.9,681.3 925.27,681.3 925.64,681.3 926.01,681.3 926.38,681.3 926.74,681.3 927.11,681.29 927.48,681.29 927.85,681.29 928.22,681.29 928.59,681.28 928.95,681.28 929.32,681.27 929.69,681.26 930.06,681.25 930.43,681.23 930.79,681.21 931.16,681.19 931.53,681.16 931.9,681.13 932.27,681.09 932.64,681.05 933,681 933.37,680.94 933.74,680.88 934.11,680.81 934.48,680.74 934.84,680.66 935.21,680.57 935.58,680.49 935.95,680.4 936.32,680.31 936.69,680.22 937.05,680.13 937.42,680.06 937.79,679.98 938.16,679.92 938.53,679.87 938.89,679.83 939.26,679.8 939.63,679.79 940,679.79 940.37,679.81 940.74,679.84 941.1,679.89 941.47,679.94 941.84,680.01 942.21,680.08 942.58,680.16 942.94,680.25 943.31,680.34 943.68,680.43 944.05,680.52 944.42,680.6 944.79,680.69 945.15,680.76 945.52,680.84 945.89,680.9 946.26,680.96 946.63,681.02 946.99,681.07 947.36,681.11 947.73,681.14 948.1,681.17 948.47,681.2 948.84,681.22 949.2,681.23 949.57,681.05 949.94,680.63 950.31,680.01 950.68,679.24 951.04,678.37 951.41,677.42 951.78,676.09 952.15,674.33 952.52,672.15 952.88,669.59 953.25,666.28 953.62,661.8 953.99,656.01 954.36,647.32 954.73,634.05 955.09,621.71 955.46,612.73 955.83,604.58 956.2,594.8 956.57,581.58 956.93,560.65 957.3,499.26 957.67,451.33 958.04,423.17 958.41,395.79 958.78,358.3 959.14,315.43 959.51,270.04 959.88,235.52 960.25,214.2 960.62,197 960.98,184.06 961.35,175.5 961.72,169.12 962.09,163.51 962.46,159.04 962.83,156.06 963.19,154.97 963.56,156.49 963.93,160.63 964.3,166.56 964.67,173.46 965.03,180.52 965.4,187.96 965.77,196.86 966.14,206.92 966.51,217.81 966.88,229.19 967.24,241.11 967.61,253.89 967.98,267.73 968.35,282.83 968.72,299.39 969.08,319.39 969.45,343.1 969.82,367.46 970.19,389.4 970.56,407.56 970.93,423.95 971.29,439.46 971.66,454.97 972.03,471.35 972.4,490.37 972.77,511.32 973.13,531.65 973.5,548.83 973.87,560.31 974.24,567.12 974.61,572.29 974.98,576.88 975.34,581.71 975.71,586.36 976.08,590.8 976.45,595.04 976.82,599.08 977.18,602.7 977.55,606.1 977.92,609.54 978.29,613.31 978.66,617.79 979.03,624.11 979.39,629.75 979.76,632.35 980.13,633.96 980.5,635.41 980.87,636.69 981.23,637.86 981.6,639.01 981.97,640.21 982.34,641.54 982.71,643.06 983.07,644.71 983.44,646.42 983.81,648.1 984.18,649.65 984.55,651 984.92,652.15 985.28,653.2 985.65,654.17 986.02,655.1 986.39,656.04 986.76,657.03 987.12,658.1 987.49,659.21 987.86,660.36 988.23,661.56 988.6,662.83 988.97,664.31 989.33,665.97 989.7,667.55 990.07,668.83 990.44,669.73 990.81,670.51 991.17,671.21 991.54,671.83 991.91,672.39 992.28,672.91 992.65,673.4 993.02,673.87 993.38,674.33 993.75,674.77 994.12,675.19 994.49,675.58 994.86,675.96 995.22,676.3 995.59,676.62 995.96,676.9 996.33,677.15 996.7,677.37 997.07,677.57 997.43,677.76 997.8,677.93 998.17,678.1 998.54,678.25 998.91,678.4 999.27,678.54 999.64,678.67 1000.01,678.8 1000.38,678.92 1000.75,679.05 1001.12,679.16 1001.48,679.28 1001.85,679.39 1002.22,679.49 1002.59,679.59 1002.96,679.69 1003.32,679.78 1003.69,679.88 1004.06,679.97 1004.43,680.06 1004.8,680.15 1005.17,680.23 1005.53,680.32 1005.9,680.41 1006.27,680.49 1006.64,680.58 1007.01,680.66 1007.37,680.74 1007.74,680.82 1008.11,680.9 1008.48,680.98 1008.85,681.05 1009.22,681.13 1009.58,681.2 1009.95,681.27 1010.32,681.3 1010.69,681.3 1011.06,681.3 1011.42,681.3 1011.79,681.3 1012.16,681.3 1012.53,681.3 1012.9,681.3 1013.26,681.3 1013.63,681.3 1014,681.3 1014.37,681.3 1014.74,681.3 1015.11,681.3 1015.47,681.3 1015.84,681.3 1016.21,681.3 1016.58,681.3 1016.95,681.3 1017.31,681.3 1017.68,681.3 1018.05,681.3 1018.42,681.3 1018.79,681.3 1019.16,681.3 1019.52,681.3 1019.89,681.3 1020.26,681.3 1020.63,681.3 1021,681.3 1021.36,681.3 1021.73,681.3 1022.1,681.3 1022.47,681.3 1022.84,681.3 1023.21,681.3 1023.57,681.3 1023.94,681.3 1024.31,681.3 1024.68,681.3 1025.05,681.3 1025.41,681.3 1025.78,681.3 1026.15,681.3 1026.52,681.3 1026.89,681.3 1027.26,681.3 1027.62,681.3 1027.99,681.3 1028.36,681.3 1028.73,681.3 1029.1,681.3 1029.46,681.3 1029.83,681.3 1030.2,681.3 1030.57,681.3 1030.94,681.3 1031.31,681.3 1031.67,681.3 1032.04,681.3 1032.41,681.3 1032.78,681.3 1033.15,681.3 1033.51,681.3 1033.88,681.3 1034.25,681.3 1034.62,681.3 1034.99,681.3 1035.36,681.3 1035.72,681.3 1036.09,681.3 1036.46,681.3 1036.83,681.3 1037.2,681.3 1037.56,681.3 1037.93,681.3 1038.3,681.3 1038.67,681.3 1039.04,681.3 1039.41,681.3 1039.77,681.3 1040.14,681.3 1040.51,681.3 1040.88,681.3 1041.25,681.3 1041.61,681.3 1041.98,681.3 1042.35,681.3 1042.72,681.3 1043.09,681.3 1043.45,681.3 1043.82,681.3 1044.19,681.3 1044.56,681.3 1044.93,681.3 1045.3,681.3 1045.66,681.3 1046.03,681.3 1046.4,681.3 1046.77,681.3 1047.14,681.3 1047.5,681.3 1047.87,681.3 1048.24,681.3 1048.61,681.3 1048.98,681.3 1049.35,681.3 1049.71,681.3 1050.08,681.3 1050.45,681.3 1050.82,681.3 1051.19,681.3 1051.55,681.3 1051.92,681.3 1052.29,681.3 1052.66,681.3 1053.03,681.3 1053.4,681.3 1053.76,681.3 1054.13,681.3 1054.5,681.3" fill="none" stroke="#8c30e2" stroke-width="2.1" stroke-linejoin="round"/>
<polyline points="907.6,681.3 907.97,681.3 908.34,681.3 908.7,681.3 909.07,681.3 909.44,681.3 909.81,681.3 910.18,681.3 910.55,681.3 910.91,681.3 911.28,681.3 911.65,681.3 912.02,681.3 912.39,681.3 912.75,681.3 913.12,681.3 913.49,681.3 913.86,681.3 914.23,681.3 914.6,681.3 914.96,681.3 915.33,681.3 915.7,681.3 916.07,681.3 916.44,681.3 916.8,681.3 917.17,681.3 917.54,681.3 917.91,681.3 918.28,681.3 918.65,681.3 919.01,681.3 919.38,681.3 919.75,681.3 920.12,681.3 920.49,681.3 920.85,681.3 921.22,681.3 921.59,681.3 921.96,681.3 922.33,681.3 922.69,681.3 923.06,681.3 923.43,681.3 923.8,681.3 924.17,681.3 924.54,681.3 924.9,681.3 925.27,681.3 925.64,681.3 926.01,681.3 926.38,681.3 926.74,681.3 927.11,681.3 927.48,681.3 927.85,681.3 928.22,681.3 928.59,681.3 928.95,681.3 929.32,681.3 929.69,681.3 930.06,681.3 930.43,681.3 930.79,681.3 931.16,681.3 931.53,681.3 931.9,681.3 932.27,681.3 932.64,681.3 933,681.3 933.37,681.3 933.74,681.3 934.11,681.3 934.48,681.3 934.84,681.3 935.21,681.3 935.58,681.3 935.95,681.3 936.32,681.3 936.69,681.3 937.05,681.3 937.42,681.3 937.79,681.3 938.16,681.3 938.53,681.3 938.89,681.3 939.26,681.3 939.63,681.3 940,681.3 940.37,681.3 940.74,681.3 941.1,681.3 941.47,681.3 941.84,681.3 942.21,681.3 942.58,681.3 942.94,681.3 943.31,681.3 943.68,681.3 944.05,681.3 944.42,681.3 944.79,681.3 945.15,681.3 945.52,681.3 945.89,681.3 946.26,681.3 946.63,681.3 946.99,681.3 947.36,681.3 947.73,681.3 948.1,681.3 948.47,681.3 948.84,681.3 949.2,681.3 949.57,681.3 949.94,681.3 950.31,681.3 950.68,681.3 951.04,681.3 951.41,681.29 951.78,681.17 952.15,680.92 952.52,680.56 952.88,680.1 953.25,679.56 953.62,678.38 953.99,676.53 954.36,674.24 954.73,671.75 955.09,669.28 955.46,666.69 955.83,663.82 956.2,660.7 956.57,657.36 956.93,653.83 957.3,650.03 957.67,645.89 958.04,641.42 958.41,636.62 958.78,631.43 959.14,625.71 959.51,619.57 959.88,613.15 960.25,606.32 960.62,598.28 960.98,590.06 961.35,582.97 961.72,578.17 962.09,574.59 962.46,571.82 962.83,569.97 963.19,568.56 963.56,568.14 963.93,568.78 964.3,569.95 964.67,571.45 965.03,573.69 965.4,576.38 965.77,579.41 966.14,582.98 966.51,587.26 966.88,592.62 967.24,601.18 967.61,609.62 967.98,614.94 968.35,619.37 968.72,623.24 969.08,626.69 969.45,629.89 969.82,632.98 970.19,636.13 970.56,639.28 970.93,642.34 971.29,645.28 971.66,648.06 972.03,650.64 972.4,652.97 972.77,655.05 973.13,657.05 973.5,658.95 973.87,660.71 974.24,662.32 974.61,663.71 974.98,664.87 975.34,665.78 975.71,666.6 976.08,667.35 976.45,668.02 976.82,668.64 977.18,669.21 977.55,669.75 977.92,670.25 978.29,670.72 978.66,671.19 979.03,671.65 979.39,672.1 979.76,672.53 980.13,672.94 980.5,673.34 980.87,673.72 981.23,674.09 981.6,674.44 981.97,674.78 982.34,675.1 982.71,675.41 983.07,675.71 983.44,676 983.81,676.28 984.18,676.56 984.55,676.83 984.92,677.1 985.28,677.37 985.65,677.63 986.02,677.88 986.39,678.12 986.76,678.35 987.12,678.57 987.49,678.78 987.86,678.98 988.23,679.17 988.6,679.35 988.97,679.51 989.33,679.65 989.7,679.78 990.07,679.91 990.44,680.03 990.81,680.15 991.17,680.26 991.54,680.37 991.91,680.47 992.28,680.56 992.65,680.65 993.02,680.73 993.38,680.8 993.75,680.87 994.12,680.92 994.49,680.97 994.86,681.01 995.22,681.05 995.59,681.09 995.96,681.12 996.33,681.16 996.7,681.19 997.07,681.22 997.43,681.24 997.8,681.26 998.17,681.28 998.54,681.29 998.91,681.3 999.27,681.3 999.64,681.3 1000.01,681.3 1000.38,681.3 1000.75,681.3 1001.12,681.3 1001.48,681.3 1001.85,681.3 1002.22,681.3 1002.59,681.3 1002.96,681.3 1003.32,681.3 1003.69,681.3 1004.06,681.3 1004.43,681.3 1004.8,681.3 1005.17,681.3 1005.53,681.3 1005.9,681.3 1006.27,681.3 1006.64,681.3 1007.01,681.3 1007.37,681.3 1007.74,681.3 1008.11,681.3 1008.48,681.3 1008.85,681.3 1009.22,681.3 1009.58,681.3 1009.95,681.3 1010.32,681.3 1010.69,681.3 1011.06,681.3 1011.42,681.3 1011.79,681.3 1012.16,681.3 1012.53,681.3 1012.9,681.3 1013.26,681.3 1013.63,681.3 1014,681.3 1014.37,681.3 1014.74,681.3 1015.11,681.3 1015.47,681.3 1015.84,681.3 1016.21,681.3 1016.58,681.3 1016.95,681.3 1017.31,681.3 1017.68,681.3 1018.05,681.3 1018.42,681.3 1018.79,681.3 1019.16,681.3 1019.52,681.3 1019.89,681.3 1020.26,681.3 1020.63,681.3 1021,681.3 1021.36,681.3 1021.73,681.3 1022.1,681.3 1022.47,681.3 1022.84,681.3 1023.21,681.3 1023.57,681.3 1023.94,681.3 1024.31,681.3 1024.68,681.3 1025.05,681.3 1025.41,681.3 1025.78,681.3 1026.15,681.3 1026.52,681.3 1026.89,681.3 1027.26,681.3 1027.62,681.3 1027.99,681.3 1028.36,681.3 1028.73,681.3 1029.1,681.3 1029.46,681.3 1029.83,681.3 1030.2,681.3 1030.57,681.3 1030.94,681.3 1031.31,681.3 1031.67,681.3 1032.04,681.3 1032.41,681.3 1032.78,681.3 1033.15,681.3 1033.51,681.3 1033.88,681.3 1034.25,681.3 1034.62,681.3 1034.99,681.3 1035.36,681.3 1035.72,681.3 1036.09,681.3 1036.46,681.3 1036.83,681.3 1037.2,681.3 1037.56,681.3 1037.93,681.3 1038.3,681.3 1038.67,681.3 1039.04,681.3 1039.41,681.3 1039.77,681.3 1040.14,681.3 1040.51,681.3 1040.88,681.3 1041.25,681.3 1041.61,681.3 1041.98,681.3 1042.35,681.3 1042.72,681.3 1043.09,681.3 1043.45,681.3 1043.82,681.3 1044.19,681.3 1044.56,681.3 1044.93,681.3 1045.3,681.3 1045.66,681.3 1046.03,681.3 1046.4,681.3 1046.77,681.3 1047.14,681.3 1047.5,681.3 1047.87,681.3 1048.24,681.3 1048.61,681.3 1048.98,681.3 1049.35,681.3 1049.71,681.3 1050.08,681.3 1050.45,681.3 1050.82,681.3 1051.19,681.3 1051.55,681.3 1051.92,681.3 1052.29,681.3 1052.66,681.3 1053.03,681.3 1053.4,681.3 1053.76,681.3 1054.13,681.3 1054.5,681.3" fill="none" stroke="#a62c2c" stroke-width="2.1" stroke-linejoin="round"/>
<polyline points="907.6,681.3 907.97,681.3 908.34,681.3 908.7,681.3 909.07,681.3 909.44,681.3 909.81,681.3 910.18,681.3 910.55,681.3 910.91,681.3 911.28,681.3 911.65,681.3 912.02,681.3 912.39,681.3 912.75,681.3 913.12,681.3 913.49,681.3 913.86,681.3 914.23,681.3 914.6,681.3 914.96,681.3 915.33,681.3 915.7,681.3 916.07,681.3 916.44,681.3 916.8,681.3 917.17,681.3 917.54,681.3 917.91,681.3 918.28,681.3 918.65,681.3 919.01,681.3 919.38,681.3 919.75,681.3 920.12,681.3 920.49,681.3 920.85,681.3 921.22,681.3 921.59,681.3 921.96,681.3 922.33,681.3 922.69,681.3 923.06,681.3 923.43,681.3 923.8,681.3 924.17,681.3 924.54,681.3 924.9,681.3 925.27,681.3 925.64,681.3 926.01,681.3 926.38,681.3 926.74,681.3 927.11,681.3 927.48,681.3 927.85,681.3 928.22,681.3 928.59,681.3 928.95,681.3 929.32,681.3 929.69,681.3 930.06,681.3 930.43,681.3 930.79,681.3 931.16,681.3 931.53,681.3 931.9,681.3 932.27,681.3 932.64,681.3 933,681.3 933.37,681.3 933.74,681.3 934.11,681.3 934.48,681.3 934.84,681.3 935.21,681.3 935.58,681.3 935.95,681.3 936.32,681.3 936.69,681.3 937.05,681.3 937.42,681.3 937.79,681.3 938.16,681.3 938.53,681.3 938.89,681.3 939.26,681.3 939.63,681.3 940,681.3 940.37,681.3 940.74,681.3 941.1,681.3 941.47,681.3 941.84,681.3 942.21,681.3 942.58,681.3 942.94,681.3 943.31,681.3 943.68,681.3 944.05,681.3 944.42,681.3 944.79,681.3 945.15,681.3 945.52,681.3 945.89,681.3 946.26,681.3 946.63,681.3 946.99,681.3 947.36,681.3 947.73,681.3 948.1,681.3 948.47,681.3 948.84,681.3 949.2,681.3 949.57,681.3 949.94,681.3 950.31,681.3 950.68,681.3 951.04,681.3 951.41,681.3 951.78,681.25 952.15,681.17 952.52,681.04 952.88,680.88 953.25,680.69 953.62,680.28 953.99,679.63 954.36,678.83 954.73,677.96 955.09,677.09 955.46,676.19 955.83,675.18 956.2,674.09 956.57,672.92 956.93,671.69 957.3,670.36 957.67,668.91 958.04,667.34 958.41,665.66 958.78,663.85 959.14,661.84 959.51,659.69 959.88,657.45 960.25,655.06 960.62,652.24 960.98,649.37 961.35,646.88 961.72,645.2 962.09,643.95 962.46,642.98 962.83,642.33 963.19,641.84 963.56,641.69 963.93,641.92 964.3,642.33 964.67,642.85 965.03,643.64 965.4,644.58 965.77,645.64 966.14,646.89 966.51,648.39 966.88,650.26 967.24,653.26 967.61,656.21 967.98,658.07 968.35,659.63 968.72,660.98 969.08,662.19 969.45,663.31 969.82,664.39 970.19,665.49 970.56,666.59 970.93,667.66 971.29,668.69 971.66,669.67 972.03,670.57 972.4,671.38 972.77,672.11 973.13,672.81 973.5,673.48 973.87,674.1 974.24,674.66 974.61,675.14 974.98,675.55 975.34,675.87 975.71,676.16 976.08,676.42 976.45,676.65 976.82,676.87 977.18,677.07 977.55,677.26 977.92,677.43 978.29,677.6 978.66,677.76 979.03,677.92 979.39,678.08 979.76,678.23 980.13,678.37 980.5,678.51 980.87,678.65 981.23,678.78 981.6,678.9 981.97,679.02 982.34,679.13 982.71,679.24 983.07,679.34 983.44,679.44 983.81,679.54 984.18,679.64 984.55,679.74 984.92,679.83 985.28,679.92 985.65,680.01 986.02,680.1 986.39,680.19 986.76,680.27 987.12,680.35 987.49,680.42 987.86,680.49 988.23,680.55 988.6,680.62 988.97,680.67 989.33,680.72 989.7,680.77 990.07,680.81 990.44,680.86 990.81,680.9 991.17,680.94 991.54,680.97 991.91,681.01 992.28,681.04 992.65,681.07 993.02,681.1 993.38,681.13 993.75,681.15 994.12,681.17 994.49,681.18 994.86,681.2 995.22,681.21 995.59,681.23 995.96,681.24 996.33,681.25 996.7,681.26 997.07,681.27 997.43,681.28 997.8,681.29 998.17,681.29 998.54,681.3 998.91,681.3 999.27,681.3 999.64,681.3 1000.01,681.3 1000.38,681.3 1000.75,681.3 1001.12,681.3 1001.48,681.3 1001.85,681.3 1002.22,681.3 1002.59,681.3 1002.96,681.3 1003.32,681.3 1003.69,681.3 1004.06,681.3 1004.43,681.3 1004.8,681.3 1005.17,681.3 1005.53,681.3 1005.9,681.3 1006.27,681.3 1006.64,681.3 1007.01,681.3 1007.37,681.3 1007.74,681.3 1008.11,681.3 1008.48,681.3 1008.85,681.3 1009.22,681.3 1009.58,681.3 1009.95,681.3 1010.32,681.3 1010.69,681.3 1011.06,681.3 1011.42,681.3 1011.79,681.3 1012.16,681.3 1012.53,681.3 1012.9,681.3 1013.26,681.3 1013.63,681.3 1014,681.3 1014.37,681.3 1014.74,681.3 1015.11,681.3 1015.47,681.3 1015.84,681.3 1016.21,681.3 1016.58,681.3 1016.95,681.3 1017.31,681.3 1017.68,681.3 1018.05,681.3 1018.42,681.3 1018.79,681.3 1019.16,681.3 1019.52,681.3 1019.89,681.3 1020.26,681.3 1020.63,681.3 1021,681.3 1021.36,681.3 1021.73,681.3 1022.1,681.3 1022.47,681.3 1022.84,681.3 1023.21,681.3 1023.57,681.3 1023.94,681.3 1024.31,681.3 1024.68,681.3 1025.05,681.3 1025.41,681.3 1025.78,681.3 1026.15,681.3 1026.52,681.3 1026.89,681.3 1027.26,681.3 1027.62,681.3 1027.99,681.3 1028.36,681.3 1028.73,681.3 1029.1,681.3 1029.46,681.3 1029.83,681.3 1030.2,681.3 1030.57,681.3 1030.94,681.3 1031.31,681.3 1031.67,681.3 1032.04,681.3 1032.41,681.3 1032.78,681.3 1033.15,681.3 1033.51,681.3 1033.88,681.3 1034.25,681.3 1034.62,681.3 1034.99,681.3 1035.36,681.3 1035.72,681.3 1036.09,681.3 1036.46,681.3 1036.83,681.3 1037.2,681.3 1037.56,681.3 1037.93,681.3 1038.3,681.3 1038.67,681.3 1039.04,681.3 1039.41,681.3 1039.77,681.3 1040.14,681.3 1040.51,681.3 1040.88,681.3 1041.25,681.3 1041.61,681.3 1041.98,681.3 1042.35,681.3 1042.72,681.3 1043.09,681.3 1043.45,681.3 1043.82,681.3 1044.19,681.3 1044.56,681.3 1044.93,681.3 1045.3,681.3 1045.66,681.3 1046.03,681.3 1046.4,681.3 1046.77,681.3 1047.14,681.3 1047.5,681.3 1047.87,681.3 1048.24,681.3 1048.61,681.3 1048.98,681.3 1049.35,681.3 1049.71,681.3 1050.08,681.3 1050.45,681.3 1050.82,681.3 1051.19,681.3 1051.55,681.3 1051.92,681.3 1052.29,681.3 1052.66,681.3 1053.03,681.3 1053.4,681.3 1053.76,681.3 1054.13,681.3 1054.5,681.3" fill="none" stroke="#d9742a" stroke-width="2.1" stroke-linejoin="round"/>
<polyline points="907.6,681.3 907.97,681.3 908.34,681.3 908.7,681.3 909.07,681.3 909.44,681.3 909.81,681.3 910.18,681.3 910.55,681.3 910.91,681.3 911.28,681.3 911.65,681.3 912.02,681.3 912.39,681.3 912.75,681.3 913.12,681.3 913.49,681.3 913.86,681.3 914.23,681.3 914.6,681.3 914.96,681.3 915.33,681.3 915.7,681.3 916.07,681.3 916.44,681.3 916.8,681.3 917.17,681.3 917.54,681.3 917.91,681.3 918.28,681.3 918.65,681.3 919.01,681.3 919.38,681.3 919.75,681.3 920.12,681.3 920.49,681.3 920.85,681.3 921.22,681.3 921.59,681.3 921.96,681.3 922.33,681.3 922.69,681.3 923.06,681.3 923.43,681.3 923.8,681.3 924.17,681.3 924.54,681.3 924.9,681.3 925.27,681.3 925.64,681.3 926.01,681.3 926.38,681.3 926.74,681.3 927.11,681.3 927.48,681.3 927.85,681.3 928.22,681.3 928.59,681.3 928.95,681.3 929.32,681.3 929.69,681.3 930.06,681.3 930.43,681.3 930.79,681.3 931.16,681.3 931.53,681.3 931.9,681.3 932.27,681.3 932.64,681.3 933,681.3 933.37,681.3 933.74,681.3 934.11,681.3 934.48,681.3 934.84,681.3 935.21,681.3 935.58,681.3 935.95,681.3 936.32,681.3 936.69,681.3 937.05,681.3 937.42,681.3 937.79,681.3 938.16,681.3 938.53,681.3 938.89,681.3 939.26,681.3 939.63,681.3 940,681.3 940.37,681.3 940.74,681.3 941.1,681.3 941.47,681.3 941.84,681.3 942.21,681.3 942.58,681.3 942.94,681.3 943.31,681.3 943.68,681.3 944.05,681.3 944.42,681.3 944.79,681.3 945.15,681.3 945.52,681.3 945.89,681.3 946.26,681.3 946.63,681.3 946.99,681.3 947.36,681.3 947.73,681.3 948.1,681.3 948.47,681.3 948.84,681.3 949.2,681.3 949.57,681.3 949.94,681.3 950.31,681.3 950.68,681.3 951.04,681.3 951.41,681.3 951.78,681.28 952.15,681.23 952.52,681.16 952.88,681.08 953.25,680.98 953.62,680.76 953.99,680.42 954.36,680.01 954.73,679.55 955.09,679.1 955.46,678.62 955.83,678.09 956.2,677.52 956.57,676.91 956.93,676.26 957.3,675.57 957.67,674.81 958.04,673.99 958.41,673.11 958.78,672.16 959.14,671.11 959.51,669.98 959.88,668.81 960.25,667.55 960.62,666.08 960.98,664.57 961.35,663.27 961.72,662.39 962.09,661.74 962.46,661.23 962.83,660.89 963.19,660.63 963.56,660.55 963.93,660.67 964.3,660.89 964.67,661.16 965.03,661.57 965.4,662.06 965.77,662.62 966.14,663.28 966.51,664.06 966.88,665.04 967.24,666.61 967.61,668.16 967.98,669.13 968.35,669.95 968.72,670.66 969.08,671.29 969.45,671.87 969.82,672.44 970.19,673.02 970.56,673.6 970.93,674.16 971.29,674.7 971.66,675.21 972.03,675.68 972.4,676.11 972.77,676.49 973.13,676.85 973.5,677.2 973.87,677.53 974.24,677.82 974.61,678.08 974.98,678.29 975.34,678.46 975.71,678.61 976.08,678.74 976.45,678.87 976.82,678.98 977.18,679.08 977.55,679.18 977.92,679.27 978.29,679.36 978.66,679.45 979.03,679.53 979.39,679.61 979.76,679.69 980.13,679.77 980.5,679.84 980.87,679.91 981.23,679.98 981.6,680.04 981.97,680.1 982.34,680.16 982.71,680.22 983.07,680.28 983.44,680.33 983.81,680.38 984.18,680.43 984.55,680.48 984.92,680.53 985.28,680.58 985.65,680.63 986.02,680.67 986.39,680.72 986.76,680.76 987.12,680.8 987.49,680.84 987.86,680.88 988.23,680.91 988.6,680.94 988.97,680.97 989.33,681 989.7,681.02 990.07,681.04 990.44,681.07 990.81,681.09 991.17,681.11 991.54,681.13 991.91,681.15 992.28,681.17 992.65,681.18 993.02,681.2 993.38,681.21 993.75,681.22 994.12,681.23 994.49,681.24 994.86,681.25 995.22,681.25 995.59,681.26 995.96,681.27 996.33,681.27 996.7,681.28 997.07,681.28 997.43,681.29 997.8,681.29 998.17,681.3 998.54,681.3 998.91,681.3 999.27,681.3 999.64,681.3 1000.01,681.3 1000.38,681.3 1000.75,681.3 1001.12,681.3 1001.48,681.3 1001.85,681.3 1002.22,681.3 1002.59,681.3 1002.96,681.3 1003.32,681.3 1003.69,681.3 1004.06,681.3 1004.43,681.3 1004.8,681.3 1005.17,681.3 1005.53,681.3 1005.9,681.3 1006.27,681.3 1006.64,681.3 1007.01,681.3 1007.37,681.3 1007.74,681.3 1008.11,681.3 1008.48,681.3 1008.85,681.3 1009.22,681.3 1009.58,681.3 1009.95,681.3 1010.32,681.3 1010.69,681.3 1011.06,681.3 1011.42,681.3 1011.79,681.3 1012.16,681.3 1012.53,681.3 1012.9,681.3 1013.26,681.3 1013.63,681.3 1014,681.3 1014.37,681.3 1014.74,681.3 1015.11,681.3 1015.47,681.3 1015.84,681.3 1016.21,681.3 1016.58,681.3 1016.95,681.3 1017.31,681.3 1017.68,681.3 1018.05,681.3 1018.42,681.3 1018.79,681.3 1019.16,681.3 1019.52,681.3 1019.89,681.3 1020.26,681.3 1020.63,681.3 1021,681.3 1021.36,681.3 1021.73,681.3 1022.1,681.3 1022.47,681.3 1022.84,681.3 1023.21,681.3 1023.57,681.3 1023.94,681.3 1024.31,681.3 1024.68,681.3 1025.05,681.3 1025.41,681.3 1025.78,681.3 1026.15,681.3 1026.52,681.3 1026.89,681.3 1027.26,681.3 1027.62,681.3 1027.99,681.3 1028.36,681.3 1028.73,681.3 1029.1,681.3 1029.46,681.3 1029.83,681.3 1030.2,681.3 1030.57,681.3 1030.94,681.3 1031.31,681.3 1031.67,681.3 1032.04,681.3 1032.41,681.3 1032.78,681.3 1033.15,681.3 1033.51,681.3 1033.88,681.3 1034.25,681.3 1034.62,681.3 1034.99,681.3 1035.36,681.3 1035.72,681.3 1036.09,681.3 1036.46,681.3 1036.83,681.3 1037.2,681.3 1037.56,681.3 1037.93,681.3 1038.3,681.3 1038.67,681.3 1039.04,681.3 1039.41,681.3 1039.77,681.3 1040.14,681.3 1040.51,681.3 1040.88,681.3 1041.25,681.3 1041.61,681.3 1041.98,681.3 1042.35,681.3 1042.72,681.3 1043.09,681.3 1043.45,681.3 1043.82,681.3 1044.19,681.3 1044.56,681.3 1044.93,681.3 1045.3,681.3 1045.66,681.3 1046.03,681.3 1046.4,681.3 1046.77,681.3 1047.14,681.3 1047.5,681.3 1047.87,681.3 1048.24,681.3 1048.61,681.3 1048.98,681.3 1049.35,681.3 1049.71,681.3 1050.08,681.3 1050.45,681.3 1050.82,681.3 1051.19,681.3 1051.55,681.3 1051.92,681.3 1052.29,681.3 1052.66,681.3 1053.03,681.3 1053.4,681.3 1053.76,681.3 1054.13,681.3 1054.5,681.3" fill="none" stroke="#0a0aff" stroke-width="2.1" stroke-linejoin="round"/>
<line x1="907.6" y1="681.3" x2="1054.5" y2="681.3" stroke="#2a0ad8" stroke-width="2.6"/>
<path d="M920.5 674.6L928.5 677L936 677.9V678.8L928.5 679.4L920.5 681.8Z" fill="#0a0a0a"/>
<text x="877.4" y="686" font-size="13.8" text-anchor="middle" fill="#3a3a3a" textLength="9.8" lengthAdjust="spacingAndGlyphs" stroke="#3a3a3a" stroke-width="0.3">0</text>
<text x="877.4" y="611.64" font-size="13.8" text-anchor="middle" fill="#3a3a3a" textLength="25" lengthAdjust="spacingAndGlyphs" stroke="#3a3a3a" stroke-width="0.3">0.2</text>
<text x="877.4" y="535.98" font-size="13.8" text-anchor="middle" fill="#3a3a3a" textLength="25" lengthAdjust="spacingAndGlyphs" stroke="#3a3a3a" stroke-width="0.3">0.4</text>
<text x="877.4" y="460.32" font-size="13.8" text-anchor="middle" fill="#3a3a3a" textLength="25" lengthAdjust="spacingAndGlyphs" stroke="#3a3a3a" stroke-width="0.3">0.6</text>
<text x="877.4" y="384.66" font-size="13.8" text-anchor="middle" fill="#3a3a3a" textLength="25" lengthAdjust="spacingAndGlyphs" stroke="#3a3a3a" stroke-width="0.3">0.8</text>
<text x="877.4" y="309" font-size="13.8" text-anchor="middle" fill="#3a3a3a" textLength="9.8" lengthAdjust="spacingAndGlyphs" stroke="#3a3a3a" stroke-width="0.3">1</text>
<text x="877.4" y="233.34" font-size="13.8" text-anchor="middle" fill="#3a3a3a" textLength="25" lengthAdjust="spacingAndGlyphs" stroke="#3a3a3a" stroke-width="0.3">1.2</text>
<text x="877.4" y="157.68" font-size="13.8" text-anchor="middle" fill="#3a3a3a" textLength="25" lengthAdjust="spacingAndGlyphs" stroke="#3a3a3a" stroke-width="0.3">1.4</text>
<text x="877.4" y="82.02" font-size="13.8" text-anchor="middle" fill="#3a3a3a" textLength="25" lengthAdjust="spacingAndGlyphs" stroke="#3a3a3a" stroke-width="0.3">1.6</text>
<text x="913.3" y="703.8" font-size="13.7" text-anchor="middle" fill="#3a3a3a" textLength="35.2" lengthAdjust="spacingAndGlyphs" stroke="#3a3a3a" stroke-width="0.3">29.5</text>
<text x="960.2" y="703.8" font-size="13.7" text-anchor="middle" fill="#3a3a3a" textLength="35.2" lengthAdjust="spacingAndGlyphs" stroke="#3a3a3a" stroke-width="0.3">30.0</text>
<text x="1007.1" y="703.8" font-size="13.7" text-anchor="middle" fill="#3a3a3a" textLength="35.2" lengthAdjust="spacingAndGlyphs" stroke="#3a3a3a" stroke-width="0.3">30.5</text>
<text x="1054" y="703.8" font-size="13.7" text-anchor="middle" fill="#3a3a3a" textLength="35.2" lengthAdjust="spacingAndGlyphs" stroke="#3a3a3a" stroke-width="0.3">31.0</text>
<text x="981.05" y="724.7" font-size="12.2" text-anchor="middle" font-weight="bold" fill="#1c1c1c" textLength="126.5" lengthAdjust="spacingAndGlyphs">Retention Time</text>
<text x="849.2" y="360.5" font-size="18.6" text-anchor="middle" font-weight="bold" fill="#1c1c1c" textLength="94.2" lengthAdjust="spacingAndGlyphs" transform="rotate(-90 849.2 360.5)">Intensity (10^6)</text>
<text x="941.5" y="136.5" font-size="26.8" text-anchor="start" textLength="30.5" lengthAdjust="spacingAndGlyphs">8x</text>
<g stroke="#232323" stroke-width="1.7" fill="none">
<path d="M1180 38.69V681.3"/>
<path d="M1172.6 681.3H1186.2M1176.7 663.69H1183M1176.7 644.77H1183M1176.7 625.86H1183M1172.6 606.94H1186.2M1176.7 588.02H1183M1176.7 569.11H1183M1176.7 550.19H1183M1172.6 531.28H1186.2M1176.7 512.37H1183M1176.7 493.45H1183M1176.7 474.53H1183M1172.6 455.62H1186.2M1176.7 436.71H1183M1176.7 417.79H1183M1176.7 398.88H1183M1172.6 379.96H1186.2M1176.7 361.04H1183M1176.7 342.13H1183M1176.7 323.21H1183M1172.6 304.3H1186.2M1176.7 285.38H1183M1176.7 266.47H1183M1176.7 247.55H1183M1172.6 228.64H1186.2M1176.7 209.73H1183M1176.7 190.81H1183M1176.7 171.89H1183M1172.6 152.98H1186.2M1176.7 134.06H1183M1176.7 115.15H1183M1176.7 96.24H1183M1172.6 77.32H1186.2M1176.7 58.4H1183M1176.7 39.49H1183"/>
<path d="M1172.6 681.3H1323.5M1186.8 676.8V687.3M1195.48 681.3V684.5M1204.16 681.3V684.5M1212.84 681.3V684.5M1221.52 681.3V684.5M1230.2 676.8V687.3M1238.88 681.3V684.5M1247.56 681.3V684.5M1256.24 681.3V684.5M1264.92 681.3V684.5M1273.6 676.8V687.3M1282.28 681.3V684.5M1290.96 681.3V684.5M1299.64 681.3V684.5M1308.32 681.3V684.5M1317 676.8V687.3"/>
</g>
<polyline points="1180,681.3 1180.36,681.3 1180.72,681.3 1181.08,681.3 1181.44,681.3 1181.8,681.3 1182.16,681.3 1182.52,681.3 1182.88,681.3 1183.24,681.3 1183.6,681.3 1183.96,681.3 1184.32,681.3 1184.68,681.3 1185.04,681.3 1185.39,681.3 1185.75,681.3 1186.11,681.3 1186.47,681.3 1186.83,681.3 1187.19,681.3 1187.55,681.3 1187.91,681.3 1188.27,681.3 1188.63,681.3 1188.99,681.3 1189.35,681.3 1189.71,681.3 1190.07,681.3 1190.43,681.3 1190.79,681.3 1191.15,681.3 1191.51,681.3 1191.87,681.3 1192.23,681.3 1192.59,681.3 1192.95,681.3 1193.31,681.3 1193.67,681.3 1194.03,681.3 1194.39,681.3 1194.75,681.3 1195.11,681.3 1195.46,681.3 1195.82,681.3 1196.18,681.3 1196.54,681.3 1196.9,681.3 1197.26,681.3 1197.62,681.3 1197.98,681.3 1198.34,681.3 1198.7,681.29 1199.06,681.29 1199.42,681.29 1199.78,681.28 1200.14,681.28 1200.5,681.27 1200.86,681.26 1201.22,681.24 1201.58,681.23 1201.94,681.2 1202.3,681.18 1202.66,681.15 1203.02,681.11 1203.38,681.07 1203.74,681.02 1204.1,680.96 1204.46,680.9 1204.82,680.83 1205.18,680.75 1205.54,680.66 1205.89,680.58 1206.25,680.48 1206.61,680.39 1206.97,680.29 1207.33,680.2 1207.69,680.11 1208.05,680.03 1208.41,679.96 1208.77,679.9 1209.13,679.85 1209.49,679.81 1209.85,679.79 1210.21,679.79 1210.57,679.8 1210.93,679.83 1211.29,679.88 1211.65,679.93 1212.01,680 1212.37,680.08 1212.73,680.17 1213.09,680.26 1213.45,680.35 1213.81,680.45 1214.17,680.54 1214.53,680.63 1214.89,680.72 1215.25,680.8 1215.61,680.87 1215.96,680.94 1216.32,681 1216.68,681.05 1217.04,681.1 1217.4,681.13 1217.76,681.17 1218.12,681.2 1218.48,681.22 1218.84,681.23 1219.2,681 1219.56,680.45 1219.92,679.64 1220.28,678.65 1220.64,677.54 1221,676.25 1221.36,674.4 1221.72,671.98 1222.08,669.02 1222.44,665.45 1222.8,660.48 1223.16,653.86 1223.52,644.78 1223.88,629.12 1224.24,612.85 1224.6,601.14 1224.96,590.94 1225.32,578.82 1225.68,562.17 1226.04,534.49 1226.39,452.69 1226.75,400.54 1227.11,366.86 1227.47,329.72 1227.83,278.84 1228.19,224.64 1228.55,169.38 1228.91,137.82 1229.27,114.02 1229.63,95.79 1229.99,83.3 1230.35,75.02 1230.71,67.75 1231.07,61.9 1231.43,57.97 1231.79,56.49 1232.15,58.45 1232.51,63.82 1232.87,71.45 1233.23,80.21 1233.59,88.98 1233.95,98.87 1234.31,110.57 1234.67,123.64 1235.03,137.62 1235.39,152.17 1235.75,167.68 1236.11,184.5 1236.46,202.9 1236.82,223.15 1237.18,246.99 1237.54,276.23 1237.9,306.83 1238.26,334.49 1238.62,357.22 1238.98,377.65 1239.34,397.03 1239.7,416.59 1240.06,437.68 1240.42,462.53 1240.78,488.86 1241.14,513.11 1241.5,531.73 1241.86,542.39 1242.22,549.59 1242.58,555.46 1242.94,561.42 1243.3,567.33 1243.66,572.95 1244.02,578.3 1244.38,583.39 1244.74,587.95 1245.1,592.21 1245.46,596.54 1245.82,601.34 1246.18,607.36 1246.54,615.45 1246.89,621.4 1247.25,623.96 1247.61,625.89 1247.97,627.59 1248.33,629.11 1248.69,630.55 1249.05,632.02 1249.41,633.63 1249.77,635.47 1250.13,637.51 1250.49,639.65 1250.85,641.76 1251.21,643.72 1251.57,645.4 1251.93,646.83 1252.29,648.12 1252.65,649.33 1253.01,650.5 1253.37,651.69 1253.73,652.96 1254.09,654.33 1254.45,655.74 1254.81,657.21 1255.17,658.76 1255.53,660.5 1255.89,662.53 1256.25,664.57 1256.61,666.27 1256.96,667.44 1257.32,668.44 1257.68,669.31 1258.04,670.09 1258.4,670.79 1258.76,671.43 1259.12,672.04 1259.48,672.63 1259.84,673.2 1260.2,673.74 1260.56,674.25 1260.92,674.74 1261.28,675.18 1261.64,675.6 1262,675.97 1262.36,676.29 1262.72,676.57 1263.08,676.83 1263.44,677.07 1263.8,677.29 1264.16,677.5 1264.52,677.69 1264.88,677.88 1265.24,678.05 1265.6,678.21 1265.96,678.37 1266.32,678.53 1266.68,678.68 1267.04,678.82 1267.39,678.96 1267.75,679.1 1268.11,679.23 1268.47,679.35 1268.83,679.47 1269.19,679.59 1269.55,679.7 1269.91,679.81 1270.27,679.92 1270.63,680.03 1270.99,680.14 1271.35,680.25 1271.71,680.36 1272.07,680.46 1272.43,680.57 1272.79,680.67 1273.15,680.77 1273.51,680.87 1273.87,680.96 1274.23,681.06 1274.59,681.15 1274.95,681.24 1275.31,681.3 1275.67,681.3 1276.03,681.3 1276.39,681.3 1276.75,681.3 1277.11,681.3 1277.46,681.3 1277.82,681.3 1278.18,681.3 1278.54,681.3 1278.9,681.3 1279.26,681.3 1279.62,681.3 1279.98,681.3 1280.34,681.3 1280.7,681.3 1281.06,681.3 1281.42,681.3 1281.78,681.3 1282.14,681.3 1282.5,681.3 1282.86,681.3 1283.22,681.3 1283.58,681.3 1283.94,681.3 1284.3,681.3 1284.66,681.3 1285.02,681.3 1285.38,681.3 1285.74,681.3 1286.1,681.3 1286.46,681.3 1286.82,681.3 1287.18,681.3 1287.54,681.3 1287.89,681.3 1288.25,681.3 1288.61,681.3 1288.97,681.3 1289.33,681.3 1289.69,681.3 1290.05,681.3 1290.41,681.3 1290.77,681.3 1291.13,681.3 1291.49,681.3 1291.85,681.3 1292.21,681.3 1292.57,681.3 1292.93,681.3 1293.29,681.3 1293.65,681.3 1294.01,681.3 1294.37,681.3 1294.73,681.3 1295.09,681.3 1295.45,681.3 1295.81,681.3 1296.17,681.3 1296.53,681.3 1296.89,681.3 1297.25,681.3 1297.61,681.3 1297.96,681.3 1298.32,681.3 1298.68,681.3 1299.04,681.3 1299.4,681.3 1299.76,681.3 1300.12,681.3 1300.48,681.3 1300.84,681.3 1301.2,681.3 1301.56,681.3 1301.92,681.3 1302.28,681.3 1302.64,681.3 1303,681.3 1303.36,681.3 1303.72,681.3 1304.08,681.3 1304.44,681.3 1304.8,681.3 1305.16,681.3 1305.52,681.3 1305.88,681.3 1306.24,681.3 1306.6,681.3 1306.96,681.3 1307.32,681.3 1307.68,681.3 1308.04,681.3 1308.39,681.3 1308.75,681.3 1309.11,681.3 1309.47,681.3 1309.83,681.3 1310.19,681.3 1310.55,681.3 1310.91,681.3 1311.27,681.3 1311.63,681.3 1311.99,681.3 1312.35,681.3 1312.71,681.3 1313.07,681.3 1313.43,681.3 1313.79,681.3 1314.15,681.3 1314.51,681.3 1314.87,681.3 1315.23,681.3 1315.59,681.3 1315.95,681.3 1316.31,681.3 1316.67,681.3 1317.03,681.3 1317.39,681.3 1317.75,681.3 1318.11,681.3 1318.46,681.3 1318.82,681.3 1319.18,681.3 1319.54,681.3 1319.9,681.3 1320.26,681.3 1320.62,681.3 1320.98,681.3 1321.34,681.3 1321.7,681.3 1322.06,681.3 1322.42,681.3 1322.78,681.3 1323.14,681.3 1323.5,681.3" fill="none" stroke="#8c30e2" stroke-width="2.1" stroke-linejoin="round"/>
<polyline points="1180,681.3 1180.36,681.3 1180.72,681.3 1181.08,681.3 1181.44,681.3 1181.8,681.3 1182.16,681.3 1182.52,681.3 1182.88,681.3 1183.24,681.3 1183.6,681.3 1183.96,681.3 1184.32,681.3 1184.68,681.3 1185.04,681.3 1185.39,681.3 1185.75,681.3 1186.11,681.3 1186.47,681.3 1186.83,681.3 1187.19,681.3 1187.55,681.3 1187.91,681.3 1188.27,681.3 1188.63,681.3 1188.99,681.3 1189.35,681.3 1189.71,681.3 1190.07,681.3 1190.43,681.3 1190.79,681.3 1191.15,681.3 1191.51,681.3 1191.87,681.3 1192.23,681.3 1192.59,681.3 1192.95,681.3 1193.31,681.3 1193.67,681.3 1194.03,681.3 1194.39,681.3 1194.75,681.3 1195.11,681.3 1195.46,681.3 1195.82,681.3 1196.18,681.3 1196.54,681.3 1196.9,681.3 1197.26,681.3 1197.62,681.3 1197.98,681.3 1198.34,681.3 1198.7,681.3 1199.06,681.3 1199.42,681.3 1199.78,681.3 1200.14,681.3 1200.5,681.3 1200.86,681.3 1201.22,681.3 1201.58,681.3 1201.94,681.3 1202.3,681.3 1202.66,681.3 1203.02,681.3 1203.38,681.3 1203.74,681.3 1204.1,681.3 1204.46,681.3 1204.82,681.3 1205.18,681.3 1205.54,681.3 1205.89,681.3 1206.25,681.3 1206.61,681.3 1206.97,681.3 1207.33,681.3 1207.69,681.3 1208.05,681.3 1208.41,681.3 1208.77,681.3 1209.13,681.3 1209.49,681.3 1209.85,681.3 1210.21,681.3 1210.57,681.3 1210.93,681.3 1211.29,681.3 1211.65,681.3 1212.01,681.3 1212.37,681.3 1212.73,681.3 1213.09,681.3 1213.45,681.3 1213.81,681.3 1214.17,681.3 1214.53,681.3 1214.89,681.3 1215.25,681.3 1215.61,681.3 1215.96,681.3 1216.32,681.3 1216.68,681.3 1217.04,681.3 1217.4,681.3 1217.76,681.3 1218.12,681.3 1218.48,681.3 1218.84,681.3 1219.2,681.3 1219.56,681.3 1219.92,681.3 1220.28,681.3 1220.64,681.3 1221,681.26 1221.36,681.04 1221.72,680.65 1222.08,680.13 1222.44,679.49 1222.8,678.4 1223.16,676.29 1223.52,673.46 1223.88,670.26 1224.24,667.02 1224.6,663.7 1224.96,660 1225.32,655.95 1225.68,651.6 1226.04,646.99 1226.39,641.99 1226.75,636.52 1227.11,630.6 1227.47,624.23 1227.83,617.23 1228.19,609.54 1228.55,601.36 1228.91,592.87 1229.27,583.03 1229.63,572.22 1229.99,562.34 1230.35,555.27 1230.71,550.42 1231.07,546.65 1231.43,544.13 1231.79,542.28 1232.15,541.74 1232.51,542.65 1232.87,544.21 1233.23,546.32 1233.59,549.42 1233.95,553.03 1234.31,557.2 1234.67,562.2 1235.03,568.26 1235.39,577.31 1235.75,589.12 1236.11,597.36 1236.46,603.42 1236.82,608.62 1237.18,613.21 1237.54,617.41 1237.9,621.45 1238.26,625.54 1238.62,629.63 1238.98,633.61 1239.34,637.42 1239.7,640.99 1240.06,644.28 1240.42,647.21 1240.78,649.87 1241.14,652.42 1241.5,654.82 1241.86,657.01 1242.22,658.95 1242.58,660.58 1242.94,661.85 1243.3,662.95 1243.66,663.93 1244.02,664.83 1244.38,665.64 1244.74,666.39 1245.1,667.08 1245.46,667.73 1245.82,668.35 1246.18,668.95 1246.54,669.55 1246.89,670.13 1247.25,670.68 1247.61,671.21 1247.97,671.72 1248.33,672.2 1248.69,672.67 1249.05,673.12 1249.41,673.54 1249.77,673.95 1250.13,674.34 1250.49,674.72 1250.85,675.09 1251.21,675.45 1251.57,675.81 1251.93,676.16 1252.29,676.5 1252.65,676.83 1253.01,677.16 1253.37,677.47 1253.73,677.77 1254.09,678.05 1254.45,678.32 1254.81,678.57 1255.17,678.81 1255.53,679.02 1255.89,679.22 1256.25,679.39 1256.61,679.56 1256.96,679.72 1257.32,679.87 1257.68,680.02 1258.04,680.16 1258.4,680.29 1258.76,680.41 1259.12,680.52 1259.48,680.62 1259.84,680.71 1260.2,680.79 1260.56,680.86 1260.92,680.91 1261.28,680.97 1261.64,681.02 1262,681.07 1262.36,681.11 1262.72,681.15 1263.08,681.19 1263.44,681.23 1263.8,681.25 1264.16,681.28 1264.52,681.29 1264.88,681.3 1265.24,681.3 1265.6,681.3 1265.96,681.3 1266.32,681.3 1266.68,681.3 1267.04,681.3 1267.39,681.3 1267.75,681.3 1268.11,681.3 1268.47,681.3 1268.83,681.3 1269.19,681.3 1269.55,681.3 1269.91,681.3 1270.27,681.3 1270.63,681.3 1270.99,681.3 1271.35,681.3 1271.71,681.3 1272.07,681.3 1272.43,681.3 1272.79,681.3 1273.15,681.3 1273.51,681.3 1273.87,681.3 1274.23,681.3 1274.59,681.3 1274.95,681.3 1275.31,681.3 1275.67,681.3 1276.03,681.3 1276.39,681.3 1276.75,681.3 1277.11,681.3 1277.46,681.3 1277.82,681.3 1278.18,681.3 1278.54,681.3 1278.9,681.3 1279.26,681.3 1279.62,681.3 1279.98,681.3 1280.34,681.3 1280.7,681.3 1281.06,681.3 1281.42,681.3 1281.78,681.3 1282.14,681.3 1282.5,681.3 1282.86,681.3 1283.22,681.3 1283.58,681.3 1283.94,681.3 1284.3,681.3 1284.66,681.3 1285.02,681.3 1285.38,681.3 1285.74,681.3 1286.1,681.3 1286.46,681.3 1286.82,681.3 1287.18,681.3 1287.54,681.3 1287.89,681.3 1288.25,681.3 1288.61,681.3 1288.97,681.3 1289.33,681.3 1289.69,681.3 1290.05,681.3 1290.41,681.3 1290.77,681.3 1291.13,681.3 1291.49,681.3 1291.85,681.3 1292.21,681.3 1292.57,681.3 1292.93,681.3 1293.29,681.3 1293.65,681.3 1294.01,681.3 1294.37,681.3 1294.73,681.3 1295.09,681.3 1295.45,681.3 1295.81,681.3 1296.17,681.3 1296.53,681.3 1296.89,681.3 1297.25,681.3 1297.61,681.3 1297.96,681.3 1298.32,681.3 1298.68,681.3 1299.04,681.3 1299.4,681.3 1299.76,681.3 1300.12,681.3 1300.48,681.3 1300.84,681.3 1301.2,681.3 1301.56,681.3 1301.92,681.3 1302.28,681.3 1302.64,681.3 1303,681.3 1303.36,681.3 1303.72,681.3 1304.08,681.3 1304.44,681.3 1304.8,681.3 1305.16,681.3 1305.52,681.3 1305.88,681.3 1306.24,681.3 1306.6,681.3 1306.96,681.3 1307.32,681.3 1307.68,681.3 1308.04,681.3 1308.39,681.3 1308.75,681.3 1309.11,681.3 1309.47,681.3 1309.83,681.3 1310.19,681.3 1310.55,681.3 1310.91,681.3 1311.27,681.3 1311.63,681.3 1311.99,681.3 1312.35,681.3 1312.71,681.3 1313.07,681.3 1313.43,681.3 1313.79,681.3 1314.15,681.3 1314.51,681.3 1314.87,681.3 1315.23,681.3 1315.59,681.3 1315.95,681.3 1316.31,681.3 1316.67,681.3 1317.03,681.3 1317.39,681.3 1317.75,681.3 1318.11,681.3 1318.46,681.3 1318.82,681.3 1319.18,681.3 1319.54,681.3 1319.9,681.3 1320.26,681.3 1320.62,681.3 1320.98,681.3 1321.34,681.3 1321.7,681.3 1322.06,681.3 1322.42,681.3 1322.78,681.3 1323.14,681.3 1323.5,681.3" fill="none" stroke="#a62c2c" stroke-width="2.1" stroke-linejoin="round"/>
<polyline points="1180,681.3 1180.36,681.3 1180.72,681.3 1181.08,681.3 1181.44,681.3 1181.8,681.3 1182.16,681.3 1182.52,681.3 1182.88,681.3 1183.24,681.3 1183.6,681.3 1183.96,681.3 1184.32,681.3 1184.68,681.3 1185.04,681.3 1185.39,681.3 1185.75,681.3 1186.11,681.3 1186.47,681.3 1186.83,681.3 1187.19,681.3 1187.55,681.3 1187.91,681.3 1188.27,681.3 1188.63,681.3 1188.99,681.3 1189.35,681.3 1189.71,681.3 1190.07,681.3 1190.43,681.3 1190.79,681.3 1191.15,681.3 1191.51,681.3 1191.87,681.3 1192.23,681.3 1192.59,681.3 1192.95,681.3 1193.31,681.3 1193.67,681.3 1194.03,681.3 1194.39,681.3 1194.75,681.3 1195.11,681.3 1195.46,681.3 1195.82,681.3 1196.18,681.3 1196.54,681.3 1196.9,681.3 1197.26,681.3 1197.62,681.3 1197.98,681.3 1198.34,681.3 1198.7,681.3 1199.06,681.3 1199.42,681.3 1199.78,681.3 1200.14,681.3 1200.5,681.3 1200.86,681.3 1201.22,681.3 1201.58,681.3 1201.94,681.3 1202.3,681.3 1202.66,681.3 1203.02,681.3 1203.38,681.3 1203.74,681.3 1204.1,681.3 1204.46,681.3 1204.82,681.3 1205.18,681.3 1205.54,681.3 1205.89,681.3 1206.25,681.3 1206.61,681.3 1206.97,681.3 1207.33,681.3 1207.69,681.3 1208.05,681.3 1208.41,681.3 1208.77,681.3 1209.13,681.3 1209.49,681.3 1209.85,681.3 1210.21,681.3 1210.57,681.3 1210.93,681.3 1211.29,681.3 1211.65,681.3 1212.01,681.3 1212.37,681.3 1212.73,681.3 1213.09,681.3 1213.45,681.3 1213.81,681.3 1214.17,681.3 1214.53,681.3 1214.89,681.3 1215.25,681.3 1215.61,681.3 1215.96,681.3 1216.32,681.3 1216.68,681.3 1217.04,681.3 1217.4,681.3 1217.76,681.3 1218.12,681.3 1218.48,681.3 1218.84,681.3 1219.2,681.3 1219.56,681.3 1219.92,681.3 1220.28,681.3 1220.64,681.3 1221,681.29 1221.36,681.21 1221.72,681.08 1222.08,680.9 1222.44,680.69 1222.8,680.32 1223.16,679.61 1223.52,678.65 1223.88,677.57 1224.24,676.48 1224.6,675.35 1224.96,674.1 1225.32,672.74 1225.68,671.27 1226.04,669.71 1226.39,668.02 1226.75,666.17 1227.11,664.17 1227.47,662.02 1227.83,659.65 1228.19,657.06 1228.55,654.29 1228.91,651.42 1229.27,648.1 1229.63,644.45 1229.99,641.11 1230.35,638.72 1230.71,637.09 1231.07,635.81 1231.43,634.96 1231.79,634.33 1232.15,634.15 1232.51,634.46 1232.87,634.99 1233.23,635.7 1233.59,636.75 1233.95,637.97 1234.31,639.37 1234.67,641.06 1235.03,643.11 1235.39,646.17 1235.75,650.16 1236.11,652.94 1236.46,654.99 1236.82,656.75 1237.18,658.3 1237.54,659.72 1237.9,661.08 1238.26,662.46 1238.62,663.85 1238.98,665.19 1239.34,666.48 1239.7,667.68 1240.06,668.79 1240.42,669.78 1240.78,670.68 1241.14,671.54 1241.5,672.35 1241.86,673.1 1242.22,673.75 1242.58,674.3 1242.94,674.73 1243.3,675.1 1243.66,675.43 1244.02,675.74 1244.38,676.01 1244.74,676.26 1245.1,676.5 1245.46,676.71 1245.82,676.92 1246.18,677.13 1246.54,677.33 1246.89,677.52 1247.25,677.71 1247.61,677.89 1247.97,678.06 1248.33,678.23 1248.69,678.38 1249.05,678.54 1249.41,678.68 1249.77,678.82 1250.13,678.95 1250.49,679.08 1250.85,679.2 1251.21,679.32 1251.57,679.44 1251.93,679.56 1252.29,679.68 1252.65,679.79 1253.01,679.9 1253.37,680.01 1253.73,680.11 1254.09,680.2 1254.45,680.29 1254.81,680.38 1255.17,680.46 1255.53,680.53 1255.89,680.6 1256.25,680.66 1256.61,680.71 1256.96,680.77 1257.32,680.82 1257.68,680.87 1258.04,680.91 1258.4,680.96 1258.76,681 1259.12,681.04 1259.48,681.07 1259.84,681.1 1260.2,681.13 1260.56,681.15 1260.92,681.17 1261.28,681.19 1261.64,681.2 1262,681.22 1262.36,681.24 1262.72,681.25 1263.08,681.26 1263.44,681.28 1263.8,681.28 1264.16,681.29 1264.52,681.3 1264.88,681.3 1265.24,681.3 1265.6,681.3 1265.96,681.3 1266.32,681.3 1266.68,681.3 1267.04,681.3 1267.39,681.3 1267.75,681.3 1268.11,681.3 1268.47,681.3 1268.83,681.3 1269.19,681.3 1269.55,681.3 1269.91,681.3 1270.27,681.3 1270.63,681.3 1270.99,681.3 1271.35,681.3 1271.71,681.3 1272.07,681.3 1272.43,681.3 1272.79,681.3 1273.15,681.3 1273.51,681.3 1273.87,681.3 1274.23,681.3 1274.59,681.3 1274.95,681.3 1275.31,681.3 1275.67,681.3 1276.03,681.3 1276.39,681.3 1276.75,681.3 1277.11,681.3 1277.46,681.3 1277.82,681.3 1278.18,681.3 1278.54,681.3 1278.9,681.3 1279.26,681.3 1279.62,681.3 1279.98,681.3 1280.34,681.3 1280.7,681.3 1281.06,681.3 1281.42,681.3 1281.78,681.3 1282.14,681.3 1282.5,681.3 1282.86,681.3 1283.22,681.3 1283.58,681.3 1283.94,681.3 1284.3,681.3 1284.66,681.3 1285.02,681.3 1285.38,681.3 1285.74,681.3 1286.1,681.3 1286.46,681.3 1286.82,681.3 1287.18,681.3 1287.54,681.3 1287.89,681.3 1288.25,681.3 1288.61,681.3 1288.97,681.3 1289.33,681.3 1289.69,681.3 1290.05,681.3 1290.41,681.3 1290.77,681.3 1291.13,681.3 1291.49,681.3 1291.85,681.3 1292.21,681.3 1292.57,681.3 1292.93,681.3 1293.29,681.3 1293.65,681.3 1294.01,681.3 1294.37,681.3 1294.73,681.3 1295.09,681.3 1295.45,681.3 1295.81,681.3 1296.17,681.3 1296.53,681.3 1296.89,681.3 1297.25,681.3 1297.61,681.3 1297.96,681.3 1298.32,681.3 1298.68,681.3 1299.04,681.3 1299.4,681.3 1299.76,681.3 1300.12,681.3 1300.48,681.3 1300.84,681.3 1301.2,681.3 1301.56,681.3 1301.92,681.3 1302.28,681.3 1302.64,681.3 1303,681.3 1303.36,681.3 1303.72,681.3 1304.08,681.3 1304.44,681.3 1304.8,681.3 1305.16,681.3 1305.52,681.3 1305.88,681.3 1306.24,681.3 1306.6,681.3 1306.96,681.3 1307.32,681.3 1307.68,681.3 1308.04,681.3 1308.39,681.3 1308.75,681.3 1309.11,681.3 1309.47,681.3 1309.83,681.3 1310.19,681.3 1310.55,681.3 1310.91,681.3 1311.27,681.3 1311.63,681.3 1311.99,681.3 1312.35,681.3 1312.71,681.3 1313.07,681.3 1313.43,681.3 1313.79,681.3 1314.15,681.3 1314.51,681.3 1314.87,681.3 1315.23,681.3 1315.59,681.3 1315.95,681.3 1316.31,681.3 1316.67,681.3 1317.03,681.3 1317.39,681.3 1317.75,681.3 1318.11,681.3 1318.46,681.3 1318.82,681.3 1319.18,681.3 1319.54,681.3 1319.9,681.3 1320.26,681.3 1320.62,681.3 1320.98,681.3 1321.34,681.3 1321.7,681.3 1322.06,681.3 1322.42,681.3 1322.78,681.3 1323.14,681.3 1323.5,681.3" fill="none" stroke="#d9742a" stroke-width="2.1" stroke-linejoin="round"/>
<polyline points="1180,681.3 1180.36,681.3 1180.72,681.3 1181.08,681.3 1181.44,681.3 1181.8,681.3 1182.16,681.3 1182.52,681.3 1182.88,681.3 1183.24,681.3 1183.6,681.3 1183.96,681.3 1184.32,681.3 1184.68,681.3 1185.04,681.3 1185.39,681.3 1185.75,681.3 1186.11,681.3 1186.47,681.3 1186.83,681.3 1187.19,681.3 1187.55,681.3 1187.91,681.3 1188.27,681.3 1188.63,681.3 1188.99,681.3 1189.35,681.3 1189.71,681.3 1190.07,681.3 1190.43,681.3 1190.79,681.3 1191.15,681.3 1191.51,681.3 1191.87,681.3 1192.23,681.3 1192.59,681.3 1192.95,681.3 1193.31,681.3 1193.67,681.3 1194.03,681.3 1194.39,681.3 1194.75,681.3 1195.11,681.3 1195.46,681.3 1195.82,681.3 1196.18,681.3 1196.54,681.3 1196.9,681.3 1197.26,681.3 1197.62,681.3 1197.98,681.3 1198.34,681.3 1198.7,681.3 1199.06,681.3 1199.42,681.3 1199.78,681.3 1200.14,681.3 1200.5,681.3 1200.86,681.3 1201.22,681.3 1201.58,681.3 1201.94,681.3 1202.3,681.3 1202.66,681.3 1203.02,681.3 1203.38,681.3 1203.74,681.3 1204.1,681.3 1204.46,681.3 1204.82,681.3 1205.18,681.3 1205.54,681.3 1205.89,681.3 1206.25,681.3 1206.61,681.3 1206.97,681.3 1207.33,681.3 1207.69,681.3 1208.05,681.3 1208.41,681.3 1208.77,681.3 1209.13,681.3 1209.49,681.3 1209.85,681.3 1210.21,681.3 1210.57,681.3 1210.93,681.3 1211.29,681.3 1211.65,681.3 1212.01,681.3 1212.37,681.3 1212.73,681.3 1213.09,681.3 1213.45,681.3 1213.81,681.3 1214.17,681.3 1214.53,681.3 1214.89,681.3 1215.25,681.3 1215.61,681.3 1215.96,681.3 1216.32,681.3 1216.68,681.3 1217.04,681.3 1217.4,681.3 1217.76,681.3 1218.12,681.3 1218.48,681.3 1218.84,681.3 1219.2,681.3 1219.56,681.3 1219.92,681.3 1220.28,681.3 1220.64,681.3 1221,681.29 1221.36,681.25 1221.72,681.19 1222.08,681.09 1222.44,680.98 1222.8,680.79 1223.16,680.42 1223.52,679.92 1223.88,679.36 1224.24,678.79 1224.6,678.21 1224.96,677.56 1225.32,676.85 1225.68,676.08 1226.04,675.27 1226.39,674.39 1226.75,673.43 1227.11,672.39 1227.47,671.27 1227.83,670.04 1228.19,668.69 1228.55,667.26 1228.91,665.76 1229.27,664.04 1229.63,662.14 1229.99,660.4 1230.35,659.16 1230.71,658.31 1231.07,657.64 1231.43,657.2 1231.79,656.88 1232.15,656.78 1232.51,656.94 1232.87,657.22 1233.23,657.59 1233.59,658.13 1233.95,658.77 1234.31,659.5 1234.67,660.38 1235.03,661.44 1235.39,663.03 1235.75,665.11 1236.11,666.55 1236.46,667.62 1236.82,668.53 1237.18,669.34 1237.54,670.08 1237.9,670.79 1238.26,671.5 1238.62,672.22 1238.98,672.92 1239.34,673.59 1239.7,674.22 1240.06,674.8 1240.42,675.31 1240.78,675.78 1241.14,676.23 1241.5,676.65 1241.86,677.03 1242.22,677.37 1242.58,677.66 1242.94,677.88 1243.3,678.08 1243.66,678.25 1244.02,678.41 1244.38,678.55 1244.74,678.68 1245.1,678.8 1245.46,678.92 1245.82,679.02 1246.18,679.13 1246.54,679.24 1246.89,679.34 1247.25,679.43 1247.61,679.53 1247.97,679.62 1248.33,679.7 1248.69,679.78 1249.05,679.86 1249.41,679.94 1249.77,680.01 1250.13,680.08 1250.49,680.14 1250.85,680.21 1251.21,680.27 1251.57,680.34 1251.93,680.4 1252.29,680.46 1252.65,680.52 1253.01,680.57 1253.37,680.63 1253.73,680.68 1254.09,680.73 1254.45,680.78 1254.81,680.82 1255.17,680.86 1255.53,680.9 1255.89,680.93 1256.25,680.96 1256.61,680.99 1256.96,681.02 1257.32,681.05 1257.68,681.07 1258.04,681.1 1258.4,681.12 1258.76,681.14 1259.12,681.16 1259.48,681.18 1259.84,681.2 1260.2,681.21 1260.56,681.22 1260.92,681.23 1261.28,681.24 1261.64,681.25 1262,681.26 1262.36,681.27 1262.72,681.27 1263.08,681.28 1263.44,681.29 1263.8,681.29 1264.16,681.3 1264.52,681.3 1264.88,681.3 1265.24,681.3 1265.6,681.3 1265.96,681.3 1266.32,681.3 1266.68,681.3 1267.04,681.3 1267.39,681.3 1267.75,681.3 1268.11,681.3 1268.47,681.3 1268.83,681.3 1269.19,681.3 1269.55,681.3 1269.91,681.3 1270.27,681.3 1270.63,681.3 1270.99,681.3 1271.35,681.3 1271.71,681.3 1272.07,681.3 1272.43,681.3 1272.79,681.3 1273.15,681.3 1273.51,681.3 1273.87,681.3 1274.23,681.3 1274.59,681.3 1274.95,681.3 1275.31,681.3 1275.67,681.3 1276.03,681.3 1276.39,681.3 1276.75,681.3 1277.11,681.3 1277.46,681.3 1277.82,681.3 1278.18,681.3 1278.54,681.3 1278.9,681.3 1279.26,681.3 1279.62,681.3 1279.98,681.3 1280.34,681.3 1280.7,681.3 1281.06,681.3 1281.42,681.3 1281.78,681.3 1282.14,681.3 1282.5,681.3 1282.86,681.3 1283.22,681.3 1283.58,681.3 1283.94,681.3 1284.3,681.3 1284.66,681.3 1285.02,681.3 1285.38,681.3 1285.74,681.3 1286.1,681.3 1286.46,681.3 1286.82,681.3 1287.18,681.3 1287.54,681.3 1287.89,681.3 1288.25,681.3 1288.61,681.3 1288.97,681.3 1289.33,681.3 1289.69,681.3 1290.05,681.3 1290.41,681.3 1290.77,681.3 1291.13,681.3 1291.49,681.3 1291.85,681.3 1292.21,681.3 1292.57,681.3 1292.93,681.3 1293.29,681.3 1293.65,681.3 1294.01,681.3 1294.37,681.3 1294.73,681.3 1295.09,681.3 1295.45,681.3 1295.81,681.3 1296.17,681.3 1296.53,681.3 1296.89,681.3 1297.25,681.3 1297.61,681.3 1297.96,681.3 1298.32,681.3 1298.68,681.3 1299.04,681.3 1299.4,681.3 1299.76,681.3 1300.12,681.3 1300.48,681.3 1300.84,681.3 1301.2,681.3 1301.56,681.3 1301.92,681.3 1302.28,681.3 1302.64,681.3 1303,681.3 1303.36,681.3 1303.72,681.3 1304.08,681.3 1304.44,681.3 1304.8,681.3 1305.16,681.3 1305.52,681.3 1305.88,681.3 1306.24,681.3 1306.6,681.3 1306.96,681.3 1307.32,681.3 1307.68,681.3 1308.04,681.3 1308.39,681.3 1308.75,681.3 1309.11,681.3 1309.47,681.3 1309.83,681.3 1310.19,681.3 1310.55,681.3 1310.91,681.3 1311.27,681.3 1311.63,681.3 1311.99,681.3 1312.35,681.3 1312.71,681.3 1313.07,681.3 1313.43,681.3 1313.79,681.3 1314.15,681.3 1314.51,681.3 1314.87,681.3 1315.23,681.3 1315.59,681.3 1315.95,681.3 1316.31,681.3 1316.67,681.3 1317.03,681.3 1317.39,681.3 1317.75,681.3 1318.11,681.3 1318.46,681.3 1318.82,681.3 1319.18,681.3 1319.54,681.3 1319.9,681.3 1320.26,681.3 1320.62,681.3 1320.98,681.3 1321.34,681.3 1321.7,681.3 1322.06,681.3 1322.42,681.3 1322.78,681.3 1323.14,681.3 1323.5,681.3" fill="none" stroke="#0a0aff" stroke-width="2.1" stroke-linejoin="round"/>
<line x1="1180" y1="681.3" x2="1323.5" y2="681.3" stroke="#2a0ad8" stroke-width="2.6"/>
<path d="M1191 673.8L1199 676.2L1206.5 677.1V678L1199 678.6L1191 681Z" fill="#0a0a0a"/>
<text x="1149.8" y="686" font-size="13.8" text-anchor="middle" fill="#3a3a3a" textLength="9.8" lengthAdjust="spacingAndGlyphs" stroke="#3a3a3a" stroke-width="0.3">0</text>
<text x="1149.8" y="611.64" font-size="13.8" text-anchor="middle" fill="#3a3a3a" textLength="25" lengthAdjust="spacingAndGlyphs" stroke="#3a3a3a" stroke-width="0.3">0.2</text>
<text x="1149.8" y="535.98" font-size="13.8" text-anchor="middle" fill="#3a3a3a" textLength="25" lengthAdjust="spacingAndGlyphs" stroke="#3a3a3a" stroke-width="0.3">0.4</text>
<text x="1149.8" y="460.32" font-size="13.8" text-anchor="middle" fill="#3a3a3a" textLength="25" lengthAdjust="spacingAndGlyphs" stroke="#3a3a3a" stroke-width="0.3">0.6</text>
<text x="1149.8" y="384.66" font-size="13.8" text-anchor="middle" fill="#3a3a3a" textLength="25" lengthAdjust="spacingAndGlyphs" stroke="#3a3a3a" stroke-width="0.3">0.8</text>
<text x="1149.8" y="309" font-size="13.8" text-anchor="middle" fill="#3a3a3a" textLength="9.8" lengthAdjust="spacingAndGlyphs" stroke="#3a3a3a" stroke-width="0.3">1</text>
<text x="1149.8" y="233.34" font-size="13.8" text-anchor="middle" fill="#3a3a3a" textLength="25" lengthAdjust="spacingAndGlyphs" stroke="#3a3a3a" stroke-width="0.3">1.2</text>
<text x="1149.8" y="157.68" font-size="13.8" text-anchor="middle" fill="#3a3a3a" textLength="25" lengthAdjust="spacingAndGlyphs" stroke="#3a3a3a" stroke-width="0.3">1.4</text>
<text x="1149.8" y="82.02" font-size="13.8" text-anchor="middle" fill="#3a3a3a" textLength="25" lengthAdjust="spacingAndGlyphs" stroke="#3a3a3a" stroke-width="0.3">1.6</text>
<text x="1186.8" y="703.8" font-size="13.7" text-anchor="middle" fill="#3a3a3a" textLength="35.2" lengthAdjust="spacingAndGlyphs" stroke="#3a3a3a" stroke-width="0.3">29.5</text>
<text x="1230.2" y="703.8" font-size="13.7" text-anchor="middle" fill="#3a3a3a" textLength="35.2" lengthAdjust="spacingAndGlyphs" stroke="#3a3a3a" stroke-width="0.3">30.0</text>
<text x="1273.6" y="703.8" font-size="13.7" text-anchor="middle" fill="#3a3a3a" textLength="35.2" lengthAdjust="spacingAndGlyphs" stroke="#3a3a3a" stroke-width="0.3">30.5</text>
<text x="1317" y="703.8" font-size="13.7" text-anchor="middle" fill="#3a3a3a" textLength="35.2" lengthAdjust="spacingAndGlyphs" stroke="#3a3a3a" stroke-width="0.3">31.0</text>
<text x="1251.75" y="724.7" font-size="12.2" text-anchor="middle" font-weight="bold" fill="#1c1c1c" textLength="126.5" lengthAdjust="spacingAndGlyphs">Retention Time</text>
<text x="1121.6" y="360.5" font-size="18.6" text-anchor="middle" font-weight="bold" fill="#1c1c1c" textLength="94.2" lengthAdjust="spacingAndGlyphs" transform="rotate(-90 1121.6 360.5)">Intensity (10^6)</text>
<text x="1205.8" y="42" font-size="26.8" text-anchor="start" textLength="45" lengthAdjust="spacingAndGlyphs">16x</text>
<g stroke="#232323" stroke-width="1.7" fill="none">
<path d="M1448.4 38.69V681.3"/>
<path d="M1441 681.3H1454.6M1445.1 663.69H1451.4M1445.1 644.77H1451.4M1445.1 625.86H1451.4M1441 606.94H1454.6M1445.1 588.02H1451.4M1445.1 569.11H1451.4M1445.1 550.19H1451.4M1441 531.28H1454.6M1445.1 512.37H1451.4M1445.1 493.45H1451.4M1445.1 474.53H1451.4M1441 455.62H1454.6M1445.1 436.71H1451.4M1445.1 417.79H1451.4M1445.1 398.88H1451.4M1441 379.96H1454.6M1445.1 361.04H1451.4M1445.1 342.13H1451.4M1445.1 323.21H1451.4M1441 304.3H1454.6M1445.1 285.38H1451.4M1445.1 266.47H1451.4M1445.1 247.55H1451.4M1441 228.64H1454.6M1445.1 209.73H1451.4M1445.1 190.81H1451.4M1445.1 171.89H1451.4M1441 152.98H1454.6M1445.1 134.06H1451.4M1445.1 115.15H1451.4M1445.1 96.24H1451.4M1441 77.32H1454.6M1445.1 58.4H1451.4M1445.1 39.49H1451.4"/>
<path d="M1441 681.3H1592.8M1449.92 681.3V684.5M1457.8 676.8V687.3M1465.68 681.3V684.5M1473.56 681.3V684.5M1481.44 681.3V684.5M1489.32 681.3V684.5M1497.2 676.8V687.3M1505.08 681.3V684.5M1512.96 681.3V684.5M1520.84 681.3V684.5M1528.72 681.3V684.5M1536.6 676.8V687.3M1544.48 681.3V684.5M1552.36 681.3V684.5M1560.24 681.3V684.5M1568.12 681.3V684.5M1576 676.8V687.3M1583.88 681.3V684.5M1591.76 681.3V684.5"/>
</g>
<polyline points="1448.4,681.3 1448.76,681.3 1449.12,681.3 1449.49,681.3 1449.85,681.3 1450.21,681.3 1450.57,681.3 1450.93,681.3 1451.3,681.3 1451.66,681.3 1452.02,681.3 1452.38,681.3 1452.74,681.3 1453.1,681.3 1453.47,681.3 1453.83,681.3 1454.19,681.3 1454.55,681.3 1454.91,681.3 1455.28,681.3 1455.64,681.3 1456,681.3 1456.36,681.3 1456.72,681.3 1457.09,681.3 1457.45,681.3 1457.81,681.3 1458.17,681.3 1458.53,681.3 1458.9,681.3 1459.26,681.3 1459.62,681.3 1459.98,681.3 1460.34,681.3 1460.7,681.3 1461.07,681.3 1461.43,681.3 1461.79,681.3 1462.15,681.3 1462.51,681.3 1462.88,681.3 1463.24,681.3 1463.6,681.3 1463.96,681.3 1464.32,681.3 1464.69,681.3 1465.05,681.3 1465.41,681.3 1465.77,681.3 1466.13,681.3 1466.5,681.3 1466.86,681.3 1467.22,681.3 1467.58,681.3 1467.94,681.3 1468.3,681.3 1468.67,681.3 1469.03,681.3 1469.39,681.3 1469.75,681.3 1470.11,681.3 1470.48,681.29 1470.84,681.29 1471.2,681.29 1471.56,681.28 1471.92,681.27 1472.29,681.26 1472.65,681.25 1473.01,681.23 1473.37,681.21 1473.73,681.19 1474.1,681.15 1474.46,681.11 1474.82,681.07 1475.18,681.01 1475.54,680.94 1475.9,680.87 1476.27,680.79 1476.63,680.7 1476.99,680.6 1477.35,680.5 1477.71,680.39 1478.08,680.29 1478.44,680.19 1478.8,680.09 1479.16,680 1479.52,679.93 1479.89,679.87 1480.25,679.82 1480.61,679.8 1480.97,679.79 1481.33,679.8 1481.7,679.84 1482.06,679.89 1482.42,679.96 1482.78,680.04 1483.14,680.13 1483.5,680.23 1483.87,680.33 1484.23,680.44 1484.59,680.54 1484.95,680.64 1485.31,680.73 1485.68,680.82 1486.04,680.9 1486.4,680.97 1486.76,681.03 1487.12,681.09 1487.49,681.13 1487.85,681.17 1488.21,681.2 1488.57,681.22 1488.93,681.21 1489.3,680.98 1489.66,680.51 1490.02,679.87 1490.38,679.12 1490.74,678.27 1491.1,677.02 1491.47,675.33 1491.83,673.22 1492.19,670.55 1492.55,666.71 1492.91,661.55 1493.28,652.71 1493.64,640.89 1494,631.99 1494.36,624.84 1494.72,616.41 1495.09,604.37 1495.45,579.14 1495.81,522.11 1496.17,493.96 1496.53,470.63 1496.9,438.34 1497.26,400.87 1497.62,361.53 1497.98,338.54 1498.34,322.15 1498.7,310.08 1499.07,302.47 1499.43,296.97 1499.79,292.34 1500.15,289.02 1500.51,287.46 1500.88,288.35 1501.24,291.95 1501.6,297.32 1501.96,303.48 1502.32,309.67 1502.69,317.07 1503.05,325.74 1503.41,335.27 1503.77,345.31 1504.13,355.99 1504.5,367.65 1504.86,380.53 1505.22,394.85 1505.58,412.5 1505.94,433.56 1506.3,454.37 1506.67,471.62 1507.03,486.34 1507.39,499.99 1507.75,513.6 1508.11,528.35 1508.48,545.9 1508.84,564.18 1509.2,580.13 1509.56,590.71 1509.92,596.54 1510.29,600.87 1510.65,604.96 1511.01,609.13 1511.37,613.06 1511.73,616.78 1512.1,620.29 1512.46,623.39 1512.82,626.35 1513.18,629.51 1513.54,633.23 1513.9,638.66 1514.27,643.28 1514.63,645.14 1514.99,646.48 1515.35,647.65 1515.71,648.69 1516.08,649.7 1516.44,650.76 1516.8,651.98 1517.16,653.37 1517.52,654.86 1517.89,656.34 1518.25,657.7 1518.61,658.84 1518.97,659.82 1519.33,660.7 1519.7,661.52 1520.06,662.34 1520.42,663.21 1520.78,664.15 1521.14,665.14 1521.5,666.16 1521.87,667.26 1522.23,668.52 1522.59,669.97 1522.95,671.31 1523.31,672.29 1523.68,673.02 1524.04,673.65 1524.4,674.2 1524.76,674.69 1525.12,675.13 1525.49,675.56 1525.85,675.96 1526.21,676.35 1526.57,676.72 1526.93,677.07 1527.3,677.39 1527.66,677.68 1528.02,677.94 1528.38,678.16 1528.74,678.36 1529.1,678.53 1529.47,678.7 1529.83,678.85 1530.19,678.99 1530.55,679.11 1530.91,679.24 1531.28,679.35 1531.64,679.46 1532,679.57 1532.36,679.68 1532.72,679.78 1533.09,679.87 1533.45,679.96 1533.81,680.05 1534.17,680.13 1534.53,680.22 1534.9,680.3 1535.26,680.37 1535.62,680.45 1535.98,680.53 1536.34,680.61 1536.7,680.68 1537.07,680.75 1537.43,680.83 1537.79,680.9 1538.15,680.97 1538.51,681.04 1538.88,681.1 1539.24,681.17 1539.6,681.23 1539.96,681.29 1540.32,681.3 1540.69,681.3 1541.05,681.3 1541.41,681.3 1541.77,681.3 1542.13,681.3 1542.5,681.3 1542.86,681.3 1543.22,681.3 1543.58,681.3 1543.94,681.3 1544.3,681.3 1544.67,681.3 1545.03,681.3 1545.39,681.3 1545.75,681.3 1546.11,681.3 1546.48,681.3 1546.84,681.3 1547.2,681.3 1547.56,681.3 1547.92,681.3 1548.29,681.3 1548.65,681.3 1549.01,681.3 1549.37,681.3 1549.73,681.3 1550.1,681.3 1550.46,681.3 1550.82,681.3 1551.18,681.3 1551.54,681.3 1551.9,681.3 1552.27,681.3 1552.63,681.3 1552.99,681.3 1553.35,681.3 1553.71,681.3 1554.08,681.3 1554.44,681.3 1554.8,681.3 1555.16,681.3 1555.52,681.3 1555.89,681.3 1556.25,681.3 1556.61,681.3 1556.97,681.3 1557.33,681.3 1557.7,681.3 1558.06,681.3 1558.42,681.3 1558.78,681.3 1559.14,681.3 1559.5,681.3 1559.87,681.3 1560.23,681.3 1560.59,681.3 1560.95,681.3 1561.31,681.3 1561.68,681.3 1562.04,681.3 1562.4,681.3 1562.76,681.3 1563.12,681.3 1563.49,681.3 1563.85,681.3 1564.21,681.3 1564.57,681.3 1564.93,681.3 1565.3,681.3 1565.66,681.3 1566.02,681.3 1566.38,681.3 1566.74,681.3 1567.1,681.3 1567.47,681.3 1567.83,681.3 1568.19,681.3 1568.55,681.3 1568.91,681.3 1569.28,681.3 1569.64,681.3 1570,681.3 1570.36,681.3 1570.72,681.3 1571.09,681.3 1571.45,681.3 1571.81,681.3 1572.17,681.3 1572.53,681.3 1572.9,681.3 1573.26,681.3 1573.62,681.3 1573.98,681.3 1574.34,681.3 1574.7,681.3 1575.07,681.3 1575.43,681.3 1575.79,681.3 1576.15,681.3 1576.51,681.3 1576.88,681.3 1577.24,681.3 1577.6,681.3 1577.96,681.3 1578.32,681.3 1578.69,681.3 1579.05,681.3 1579.41,681.3 1579.77,681.3 1580.13,681.3 1580.5,681.3 1580.86,681.3 1581.22,681.3 1581.58,681.3 1581.94,681.3 1582.3,681.3 1582.67,681.3 1583.03,681.3 1583.39,681.3 1583.75,681.3 1584.11,681.3 1584.48,681.3 1584.84,681.3 1585.2,681.3 1585.56,681.3 1585.92,681.3 1586.29,681.3 1586.65,681.3 1587.01,681.3 1587.37,681.3 1587.73,681.3 1588.1,681.3 1588.46,681.3 1588.82,681.3 1589.18,681.3 1589.54,681.3 1589.9,681.3 1590.27,681.3 1590.63,681.3 1590.99,681.3 1591.35,681.3 1591.71,681.3 1592.08,681.3 1592.44,681.3 1592.8,681.3" fill="none" stroke="#8c30e2" stroke-width="2.1" stroke-linejoin="round"/>
<polyline points="1448.4,681.3 1448.76,681.3 1449.12,681.3 1449.49,681.3 1449.85,681.3 1450.21,681.3 1450.57,681.3 1450.93,681.3 1451.3,681.3 1451.66,681.3 1452.02,681.3 1452.38,681.3 1452.74,681.3 1453.1,681.3 1453.47,681.3 1453.83,681.3 1454.19,681.3 1454.55,681.3 1454.91,681.3 1455.28,681.3 1455.64,681.3 1456,681.3 1456.36,681.3 1456.72,681.3 1457.09,681.3 1457.45,681.3 1457.81,681.3 1458.17,681.3 1458.53,681.3 1458.9,681.3 1459.26,681.3 1459.62,681.3 1459.98,681.3 1460.34,681.3 1460.7,681.3 1461.07,681.3 1461.43,681.3 1461.79,681.3 1462.15,681.3 1462.51,681.3 1462.88,681.3 1463.24,681.3 1463.6,681.3 1463.96,681.3 1464.32,681.3 1464.69,681.3 1465.05,681.3 1465.41,681.3 1465.77,681.3 1466.13,681.3 1466.5,681.3 1466.86,681.3 1467.22,681.3 1467.58,681.3 1467.94,681.3 1468.3,681.3 1468.67,681.3 1469.03,681.3 1469.39,681.3 1469.75,681.3 1470.11,681.3 1470.48,681.3 1470.84,681.3 1471.2,681.3 1471.56,681.3 1471.92,681.3 1472.29,681.3 1472.65,681.3 1473.01,681.3 1473.37,681.3 1473.73,681.3 1474.1,681.3 1474.46,681.3 1474.82,681.3 1475.18,681.3 1475.54,681.3 1475.9,681.3 1476.27,681.3 1476.63,681.3 1476.99,681.3 1477.35,681.3 1477.71,681.3 1478.08,681.3 1478.44,681.3 1478.8,681.3 1479.16,681.3 1479.52,681.3 1479.89,681.3 1480.25,681.3 1480.61,681.3 1480.97,681.3 1481.33,681.3 1481.7,681.3 1482.06,681.3 1482.42,681.3 1482.78,681.3 1483.14,681.3 1483.5,681.3 1483.87,681.3 1484.23,681.3 1484.59,681.3 1484.95,681.3 1485.31,681.3 1485.68,681.3 1486.04,681.3 1486.4,681.3 1486.76,681.3 1487.12,681.3 1487.49,681.3 1487.85,681.3 1488.21,681.3 1488.57,681.3 1488.93,681.3 1489.3,681.3 1489.66,681.3 1490.02,681.3 1490.38,681.3 1490.74,681.29 1491.1,681.16 1491.47,680.92 1491.83,680.58 1492.19,680.16 1492.55,679.26 1492.91,677.71 1493.28,675.78 1493.64,673.73 1494,671.68 1494.36,669.38 1494.72,666.84 1495.09,664.09 1495.45,661.15 1495.81,657.91 1496.17,654.35 1496.53,650.48 1496.9,646.24 1497.26,641.51 1497.62,636.4 1497.98,631.07 1498.34,624.82 1498.7,618.05 1499.07,612.22 1499.43,608.49 1499.79,605.76 1500.15,603.85 1500.51,602.6 1500.88,602.07 1501.24,602.59 1501.6,603.58 1501.96,605.01 1502.32,607.06 1502.69,609.44 1503.05,612.29 1503.41,615.8 1503.77,620.66 1504.13,628.04 1504.5,633.51 1504.86,637.31 1505.22,640.53 1505.58,643.35 1505.94,645.94 1506.3,648.49 1506.67,651.08 1507.03,653.61 1507.39,656.03 1507.75,658.3 1508.11,660.36 1508.48,662.19 1508.84,663.84 1509.2,665.42 1509.56,666.88 1509.92,668.18 1510.29,669.28 1510.65,670.13 1511.01,670.83 1511.37,671.45 1511.73,672.01 1512.1,672.52 1512.46,672.97 1512.82,673.4 1513.18,673.8 1513.54,674.18 1513.9,674.56 1514.27,674.92 1514.63,675.27 1514.99,675.6 1515.35,675.92 1515.71,676.22 1516.08,676.51 1516.44,676.79 1516.8,677.05 1517.16,677.3 1517.52,677.54 1517.89,677.77 1518.25,678 1518.61,678.22 1518.97,678.44 1519.33,678.65 1519.7,678.86 1520.06,679.06 1520.42,679.25 1520.78,679.43 1521.14,679.6 1521.5,679.76 1521.87,679.91 1522.23,680.04 1522.59,680.16 1522.95,680.26 1523.31,680.37 1523.68,680.46 1524.04,680.56 1524.4,680.65 1524.76,680.73 1525.12,680.8 1525.49,680.87 1525.85,680.94 1526.21,680.99 1526.57,681.03 1526.93,681.07 1527.3,681.1 1527.66,681.14 1528.02,681.17 1528.38,681.2 1528.74,681.22 1529.1,681.25 1529.47,681.27 1529.83,681.28 1530.19,681.29 1530.55,681.3 1530.91,681.3 1531.28,681.3 1531.64,681.3 1532,681.3 1532.36,681.3 1532.72,681.3 1533.09,681.3 1533.45,681.3 1533.81,681.3 1534.17,681.3 1534.53,681.3 1534.9,681.3 1535.26,681.3 1535.62,681.3 1535.98,681.3 1536.34,681.3 1536.7,681.3 1537.07,681.3 1537.43,681.3 1537.79,681.3 1538.15,681.3 1538.51,681.3 1538.88,681.3 1539.24,681.3 1539.6,681.3 1539.96,681.3 1540.32,681.3 1540.69,681.3 1541.05,681.3 1541.41,681.3 1541.77,681.3 1542.13,681.3 1542.5,681.3 1542.86,681.3 1543.22,681.3 1543.58,681.3 1543.94,681.3 1544.3,681.3 1544.67,681.3 1545.03,681.3 1545.39,681.3 1545.75,681.3 1546.11,681.3 1546.48,681.3 1546.84,681.3 1547.2,681.3 1547.56,681.3 1547.92,681.3 1548.29,681.3 1548.65,681.3 1549.01,681.3 1549.37,681.3 1549.73,681.3 1550.1,681.3 1550.46,681.3 1550.82,681.3 1551.18,681.3 1551.54,681.3 1551.9,681.3 1552.27,681.3 1552.63,681.3 1552.99,681.3 1553.35,681.3 1553.71,681.3 1554.08,681.3 1554.44,681.3 1554.8,681.3 1555.16,681.3 1555.52,681.3 1555.89,681.3 1556.25,681.3 1556.61,681.3 1556.97,681.3 1557.33,681.3 1557.7,681.3 1558.06,681.3 1558.42,681.3 1558.78,681.3 1559.14,681.3 1559.5,681.3 1559.87,681.3 1560.23,681.3 1560.59,681.3 1560.95,681.3 1561.31,681.3 1561.68,681.3 1562.04,681.3 1562.4,681.3 1562.76,681.3 1563.12,681.3 1563.49,681.3 1563.85,681.3 1564.21,681.3 1564.57,681.3 1564.93,681.3 1565.3,681.3 1565.66,681.3 1566.02,681.3 1566.38,681.3 1566.74,681.3 1567.1,681.3 1567.47,681.3 1567.83,681.3 1568.19,681.3 1568.55,681.3 1568.91,681.3 1569.28,681.3 1569.64,681.3 1570,681.3 1570.36,681.3 1570.72,681.3 1571.09,681.3 1571.45,681.3 1571.81,681.3 1572.17,681.3 1572.53,681.3 1572.9,681.3 1573.26,681.3 1573.62,681.3 1573.98,681.3 1574.34,681.3 1574.7,681.3 1575.07,681.3 1575.43,681.3 1575.79,681.3 1576.15,681.3 1576.51,681.3 1576.88,681.3 1577.24,681.3 1577.6,681.3 1577.96,681.3 1578.32,681.3 1578.69,681.3 1579.05,681.3 1579.41,681.3 1579.77,681.3 1580.13,681.3 1580.5,681.3 1580.86,681.3 1581.22,681.3 1581.58,681.3 1581.94,681.3 1582.3,681.3 1582.67,681.3 1583.03,681.3 1583.39,681.3 1583.75,681.3 1584.11,681.3 1584.48,681.3 1584.84,681.3 1585.2,681.3 1585.56,681.3 1585.92,681.3 1586.29,681.3 1586.65,681.3 1587.01,681.3 1587.37,681.3 1587.73,681.3 1588.1,681.3 1588.46,681.3 1588.82,681.3 1589.18,681.3 1589.54,681.3 1589.9,681.3 1590.27,681.3 1590.63,681.3 1590.99,681.3 1591.35,681.3 1591.71,681.3 1592.08,681.3 1592.44,681.3 1592.8,681.3" fill="none" stroke="#a62c2c" stroke-width="2.1" stroke-linejoin="round"/>
<polyline points="1448.4,681.3 1448.76,681.3 1449.12,681.3 1449.49,681.3 1449.85,681.3 1450.21,681.3 1450.57,681.3 1450.93,681.3 1451.3,681.3 1451.66,681.3 1452.02,681.3 1452.38,681.3 1452.74,681.3 1453.1,681.3 1453.47,681.3 1453.83,681.3 1454.19,681.3 1454.55,681.3 1454.91,681.3 1455.28,681.3 1455.64,681.3 1456,681.3 1456.36,681.3 1456.72,681.3 1457.09,681.3 1457.45,681.3 1457.81,681.3 1458.17,681.3 1458.53,681.3 1458.9,681.3 1459.26,681.3 1459.62,681.3 1459.98,681.3 1460.34,681.3 1460.7,681.3 1461.07,681.3 1461.43,681.3 1461.79,681.3 1462.15,681.3 1462.51,681.3 1462.88,681.3 1463.24,681.3 1463.6,681.3 1463.96,681.3 1464.32,681.3 1464.69,681.3 1465.05,681.3 1465.41,681.3 1465.77,681.3 1466.13,681.3 1466.5,681.3 1466.86,681.3 1467.22,681.3 1467.58,681.3 1467.94,681.3 1468.3,681.3 1468.67,681.3 1469.03,681.3 1469.39,681.3 1469.75,681.3 1470.11,681.3 1470.48,681.3 1470.84,681.3 1471.2,681.3 1471.56,681.3 1471.92,681.3 1472.29,681.3 1472.65,681.3 1473.01,681.3 1473.37,681.3 1473.73,681.3 1474.1,681.3 1474.46,681.3 1474.82,681.3 1475.18,681.3 1475.54,681.3 1475.9,681.3 1476.27,681.3 1476.63,681.3 1476.99,681.3 1477.35,681.3 1477.71,681.3 1478.08,681.3 1478.44,681.3 1478.8,681.3 1479.16,681.3 1479.52,681.3 1479.89,681.3 1480.25,681.3 1480.61,681.3 1480.97,681.3 1481.33,681.3 1481.7,681.3 1482.06,681.3 1482.42,681.3 1482.78,681.3 1483.14,681.3 1483.5,681.3 1483.87,681.3 1484.23,681.3 1484.59,681.3 1484.95,681.3 1485.31,681.3 1485.68,681.3 1486.04,681.3 1486.4,681.3 1486.76,681.3 1487.12,681.3 1487.49,681.3 1487.85,681.3 1488.21,681.3 1488.57,681.3 1488.93,681.3 1489.3,681.3 1489.66,681.3 1490.02,681.3 1490.38,681.3 1490.74,681.3 1491.1,681.25 1491.47,681.17 1491.83,681.05 1492.19,680.9 1492.55,680.59 1492.91,680.05 1493.28,679.38 1493.64,678.67 1494,677.95 1494.36,677.16 1494.72,676.27 1495.09,675.32 1495.45,674.29 1495.81,673.17 1496.17,671.93 1496.53,670.59 1496.9,669.11 1497.26,667.47 1497.62,665.69 1497.98,663.84 1498.34,661.67 1498.7,659.31 1499.07,657.28 1499.43,655.99 1499.79,655.04 1500.15,654.38 1500.51,653.94 1500.88,653.76 1501.24,653.94 1501.6,654.28 1501.96,654.78 1502.32,655.49 1502.69,656.32 1503.05,657.31 1503.41,658.53 1503.77,660.22 1504.13,662.78 1504.5,664.69 1504.86,666.01 1505.22,667.13 1505.58,668.11 1505.94,669.01 1506.3,669.89 1506.67,670.79 1507.03,671.67 1507.39,672.52 1507.75,673.3 1508.11,674.02 1508.48,674.66 1508.84,675.23 1509.2,675.78 1509.56,676.29 1509.92,676.74 1510.29,677.12 1510.65,677.42 1511.01,677.66 1511.37,677.88 1511.73,678.07 1512.1,678.25 1512.46,678.41 1512.82,678.55 1513.18,678.69 1513.54,678.82 1513.9,678.96 1514.27,679.08 1514.63,679.2 1514.99,679.32 1515.35,679.43 1515.71,679.54 1516.08,679.64 1516.44,679.73 1516.8,679.82 1517.16,679.91 1517.52,679.99 1517.89,680.07 1518.25,680.15 1518.61,680.23 1518.97,680.31 1519.33,680.38 1519.7,680.45 1520.06,680.52 1520.42,680.59 1520.78,680.65 1521.14,680.71 1521.5,680.76 1521.87,680.82 1522.23,680.86 1522.59,680.9 1522.95,680.94 1523.31,680.98 1523.68,681.01 1524.04,681.04 1524.4,681.07 1524.76,681.1 1525.12,681.13 1525.49,681.15 1525.85,681.17 1526.21,681.19 1526.57,681.21 1526.93,681.22 1527.3,681.23 1527.66,681.24 1528.02,681.25 1528.38,681.26 1528.74,681.27 1529.1,681.28 1529.47,681.29 1529.83,681.29 1530.19,681.3 1530.55,681.3 1530.91,681.3 1531.28,681.3 1531.64,681.3 1532,681.3 1532.36,681.3 1532.72,681.3 1533.09,681.3 1533.45,681.3 1533.81,681.3 1534.17,681.3 1534.53,681.3 1534.9,681.3 1535.26,681.3 1535.62,681.3 1535.98,681.3 1536.34,681.3 1536.7,681.3 1537.07,681.3 1537.43,681.3 1537.79,681.3 1538.15,681.3 1538.51,681.3 1538.88,681.3 1539.24,681.3 1539.6,681.3 1539.96,681.3 1540.32,681.3 1540.69,681.3 1541.05,681.3 1541.41,681.3 1541.77,681.3 1542.13,681.3 1542.5,681.3 1542.86,681.3 1543.22,681.3 1543.58,681.3 1543.94,681.3 1544.3,681.3 1544.67,681.3 1545.03,681.3 1545.39,681.3 1545.75,681.3 1546.11,681.3 1546.48,681.3 1546.84,681.3 1547.2,681.3 1547.56,681.3 1547.92,681.3 1548.29,681.3 1548.65,681.3 1549.01,681.3 1549.37,681.3 1549.73,681.3 1550.1,681.3 1550.46,681.3 1550.82,681.3 1551.18,681.3 1551.54,681.3 1551.9,681.3 1552.27,681.3 1552.63,681.3 1552.99,681.3 1553.35,681.3 1553.71,681.3 1554.08,681.3 1554.44,681.3 1554.8,681.3 1555.16,681.3 1555.52,681.3 1555.89,681.3 1556.25,681.3 1556.61,681.3 1556.97,681.3 1557.33,681.3 1557.7,681.3 1558.06,681.3 1558.42,681.3 1558.78,681.3 1559.14,681.3 1559.5,681.3 1559.87,681.3 1560.23,681.3 1560.59,681.3 1560.95,681.3 1561.31,681.3 1561.68,681.3 1562.04,681.3 1562.4,681.3 1562.76,681.3 1563.12,681.3 1563.49,681.3 1563.85,681.3 1564.21,681.3 1564.57,681.3 1564.93,681.3 1565.3,681.3 1565.66,681.3 1566.02,681.3 1566.38,681.3 1566.74,681.3 1567.1,681.3 1567.47,681.3 1567.83,681.3 1568.19,681.3 1568.55,681.3 1568.91,681.3 1569.28,681.3 1569.64,681.3 1570,681.3 1570.36,681.3 1570.72,681.3 1571.09,681.3 1571.45,681.3 1571.81,681.3 1572.17,681.3 1572.53,681.3 1572.9,681.3 1573.26,681.3 1573.62,681.3 1573.98,681.3 1574.34,681.3 1574.7,681.3 1575.07,681.3 1575.43,681.3 1575.79,681.3 1576.15,681.3 1576.51,681.3 1576.88,681.3 1577.24,681.3 1577.6,681.3 1577.96,681.3 1578.32,681.3 1578.69,681.3 1579.05,681.3 1579.41,681.3 1579.77,681.3 1580.13,681.3 1580.5,681.3 1580.86,681.3 1581.22,681.3 1581.58,681.3 1581.94,681.3 1582.3,681.3 1582.67,681.3 1583.03,681.3 1583.39,681.3 1583.75,681.3 1584.11,681.3 1584.48,681.3 1584.84,681.3 1585.2,681.3 1585.56,681.3 1585.92,681.3 1586.29,681.3 1586.65,681.3 1587.01,681.3 1587.37,681.3 1587.73,681.3 1588.1,681.3 1588.46,681.3 1588.82,681.3 1589.18,681.3 1589.54,681.3 1589.9,681.3 1590.27,681.3 1590.63,681.3 1590.99,681.3 1591.35,681.3 1591.71,681.3 1592.08,681.3 1592.44,681.3 1592.8,681.3" fill="none" stroke="#d9742a" stroke-width="2.1" stroke-linejoin="round"/>
<polyline points="1448.4,681.3 1448.76,681.3 1449.12,681.3 1449.49,681.3 1449.85,681.3 1450.21,681.3 1450.57,681.3 1450.93,681.3 1451.3,681.3 1451.66,681.3 1452.02,681.3 1452.38,681.3 1452.74,681.3 1453.1,681.3 1453.47,681.3 1453.83,681.3 1454.19,681.3 1454.55,681.3 1454.91,681.3 1455.28,681.3 1455.64,681.3 1456,681.3 1456.36,681.3 1456.72,681.3 1457.09,681.3 1457.45,681.3 1457.81,681.3 1458.17,681.3 1458.53,681.3 1458.9,681.3 1459.26,681.3 1459.62,681.3 1459.98,681.3 1460.34,681.3 1460.7,681.3 1461.07,681.3 1461.43,681.3 1461.79,681.3 1462.15,681.3 1462.51,681.3 1462.88,681.3 1463.24,681.3 1463.6,681.3 1463.96,681.3 1464.32,681.3 1464.69,681.3 1465.05,681.3 1465.41,681.3 1465.77,681.3 1466.13,681.3 1466.5,681.3 1466.86,681.3 1467.22,681.3 1467.58,681.3 1467.94,681.3 1468.3,681.3 1468.67,681.3 1469.03,681.3 1469.39,681.3 1469.75,681.3 1470.11,681.3 1470.48,681.3 1470.84,681.3 1471.2,681.3 1471.56,681.3 1471.92,681.3 1472.29,681.3 1472.65,681.3 1473.01,681.3 1473.37,681.3 1473.73,681.3 1474.1,681.3 1474.46,681.3 1474.82,681.3 1475.18,681.3 1475.54,681.3 1475.9,681.3 1476.27,681.3 1476.63,681.3 1476.99,681.3 1477.35,681.3 1477.71,681.3 1478.08,681.3 1478.44,681.3 1478.8,681.3 1479.16,681.3 1479.52,681.3 1479.89,681.3 1480.25,681.3 1480.61,681.3 1480.97,681.3 1481.33,681.3 1481.7,681.3 1482.06,681.3 1482.42,681.3 1482.78,681.3 1483.14,681.3 1483.5,681.3 1483.87,681.3 1484.23,681.3 1484.59,681.3 1484.95,681.3 1485.31,681.3 1485.68,681.3 1486.04,681.3 1486.4,681.3 1486.76,681.3 1487.12,681.3 1487.49,681.3 1487.85,681.3 1488.21,681.3 1488.57,681.3 1488.93,681.3 1489.3,681.3 1489.66,681.3 1490.02,681.3 1490.38,681.3 1490.74,681.3 1491.1,681.28 1491.47,681.24 1491.83,681.19 1492.19,681.12 1492.55,680.98 1492.91,680.74 1493.28,680.43 1493.64,680.11 1494,679.79 1494.36,679.43 1494.72,679.03 1495.09,678.6 1495.45,678.13 1495.81,677.62 1496.17,677.06 1496.53,676.46 1496.9,675.79 1497.26,675.05 1497.62,674.24 1497.98,673.41 1498.34,672.42 1498.7,671.36 1499.07,670.44 1499.43,669.86 1499.79,669.43 1500.15,669.13 1500.51,668.93 1500.88,668.85 1501.24,668.93 1501.6,669.09 1501.96,669.31 1502.32,669.63 1502.69,670.01 1503.05,670.46 1503.41,671.01 1503.77,671.77 1504.13,672.93 1504.5,673.79 1504.86,674.39 1505.22,674.89 1505.58,675.34 1505.94,675.74 1506.3,676.14 1506.67,676.55 1507.03,676.95 1507.39,677.33 1507.75,677.69 1508.11,678.01 1508.48,678.3 1508.84,678.56 1509.2,678.8 1509.56,679.03 1509.92,679.24 1510.29,679.41 1510.65,679.54 1511.01,679.65 1511.37,679.75 1511.73,679.84 1512.1,679.92 1512.46,679.99 1512.82,680.06 1513.18,680.12 1513.54,680.18 1513.9,680.24 1514.27,680.3 1514.63,680.35 1514.99,680.4 1515.35,680.45 1515.71,680.5 1516.08,680.55 1516.44,680.59 1516.8,680.63 1517.16,680.67 1517.52,680.71 1517.89,680.74 1518.25,680.78 1518.61,680.82 1518.97,680.85 1519.33,680.88 1519.7,680.92 1520.06,680.95 1520.42,680.98 1520.78,681.01 1521.14,681.03 1521.5,681.06 1521.87,681.08 1522.23,681.1 1522.59,681.12 1522.95,681.14 1523.31,681.15 1523.68,681.17 1524.04,681.18 1524.4,681.2 1524.76,681.21 1525.12,681.22 1525.49,681.23 1525.85,681.24 1526.21,681.25 1526.57,681.26 1526.93,681.26 1527.3,681.27 1527.66,681.27 1528.02,681.28 1528.38,681.28 1528.74,681.29 1529.1,681.29 1529.47,681.29 1529.83,681.3 1530.19,681.3 1530.55,681.3 1530.91,681.3 1531.28,681.3 1531.64,681.3 1532,681.3 1532.36,681.3 1532.72,681.3 1533.09,681.3 1533.45,681.3 1533.81,681.3 1534.17,681.3 1534.53,681.3 1534.9,681.3 1535.26,681.3 1535.62,681.3 1535.98,681.3 1536.34,681.3 1536.7,681.3 1537.07,681.3 1537.43,681.3 1537.79,681.3 1538.15,681.3 1538.51,681.3 1538.88,681.3 1539.24,681.3 1539.6,681.3 1539.96,681.3 1540.32,681.3 1540.69,681.3 1541.05,681.3 1541.41,681.3 1541.77,681.3 1542.13,681.3 1542.5,681.3 1542.86,681.3 1543.22,681.3 1543.58,681.3 1543.94,681.3 1544.3,681.3 1544.67,681.3 1545.03,681.3 1545.39,681.3 1545.75,681.3 1546.11,681.3 1546.48,681.3 1546.84,681.3 1547.2,681.3 1547.56,681.3 1547.92,681.3 1548.29,681.3 1548.65,681.3 1549.01,681.3 1549.37,681.3 1549.73,681.3 1550.1,681.3 1550.46,681.3 1550.82,681.3 1551.18,681.3 1551.54,681.3 1551.9,681.3 1552.27,681.3 1552.63,681.3 1552.99,681.3 1553.35,681.3 1553.71,681.3 1554.08,681.3 1554.44,681.3 1554.8,681.3 1555.16,681.3 1555.52,681.3 1555.89,681.3 1556.25,681.3 1556.61,681.3 1556.97,681.3 1557.33,681.3 1557.7,681.3 1558.06,681.3 1558.42,681.3 1558.78,681.3 1559.14,681.3 1559.5,681.3 1559.87,681.3 1560.23,681.3 1560.59,681.3 1560.95,681.3 1561.31,681.3 1561.68,681.3 1562.04,681.3 1562.4,681.3 1562.76,681.3 1563.12,681.3 1563.49,681.3 1563.85,681.3 1564.21,681.3 1564.57,681.3 1564.93,681.3 1565.3,681.3 1565.66,681.3 1566.02,681.3 1566.38,681.3 1566.74,681.3 1567.1,681.3 1567.47,681.3 1567.83,681.3 1568.19,681.3 1568.55,681.3 1568.91,681.3 1569.28,681.3 1569.64,681.3 1570,681.3 1570.36,681.3 1570.72,681.3 1571.09,681.3 1571.45,681.3 1571.81,681.3 1572.17,681.3 1572.53,681.3 1572.9,681.3 1573.26,681.3 1573.62,681.3 1573.98,681.3 1574.34,681.3 1574.7,681.3 1575.07,681.3 1575.43,681.3 1575.79,681.3 1576.15,681.3 1576.51,681.3 1576.88,681.3 1577.24,681.3 1577.6,681.3 1577.96,681.3 1578.32,681.3 1578.69,681.3 1579.05,681.3 1579.41,681.3 1579.77,681.3 1580.13,681.3 1580.5,681.3 1580.86,681.3 1581.22,681.3 1581.58,681.3 1581.94,681.3 1582.3,681.3 1582.67,681.3 1583.03,681.3 1583.39,681.3 1583.75,681.3 1584.11,681.3 1584.48,681.3 1584.84,681.3 1585.2,681.3 1585.56,681.3 1585.92,681.3 1586.29,681.3 1586.65,681.3 1587.01,681.3 1587.37,681.3 1587.73,681.3 1588.1,681.3 1588.46,681.3 1588.82,681.3 1589.18,681.3 1589.54,681.3 1589.9,681.3 1590.27,681.3 1590.63,681.3 1590.99,681.3 1591.35,681.3 1591.71,681.3 1592.08,681.3 1592.44,681.3 1592.8,681.3" fill="none" stroke="#0a0aff" stroke-width="2.1" stroke-linejoin="round"/>
<line x1="1448.4" y1="681.3" x2="1592.8" y2="681.3" stroke="#2a0ad8" stroke-width="2.6"/>
<text x="1418.2" y="686" font-size="13.8" text-anchor="middle" fill="#3a3a3a" textLength="9.8" lengthAdjust="spacingAndGlyphs" stroke="#3a3a3a" stroke-width="0.3">0</text>
<text x="1418.2" y="611.64" font-size="13.8" text-anchor="middle" fill="#3a3a3a" textLength="25" lengthAdjust="spacingAndGlyphs" stroke="#3a3a3a" stroke-width="0.3">0.2</text>
<text x="1418.2" y="535.98" font-size="13.8" text-anchor="middle" fill="#3a3a3a" textLength="25" lengthAdjust="spacingAndGlyphs" stroke="#3a3a3a" stroke-width="0.3">0.4</text>
<text x="1418.2" y="460.32" font-size="13.8" text-anchor="middle" fill="#3a3a3a" textLength="25" lengthAdjust="spacingAndGlyphs" stroke="#3a3a3a" stroke-width="0.3">0.6</text>
<text x="1418.2" y="384.66" font-size="13.8" text-anchor="middle" fill="#3a3a3a" textLength="25" lengthAdjust="spacingAndGlyphs" stroke="#3a3a3a" stroke-width="0.3">0.8</text>
<text x="1418.2" y="309" font-size="13.8" text-anchor="middle" fill="#3a3a3a" textLength="9.8" lengthAdjust="spacingAndGlyphs" stroke="#3a3a3a" stroke-width="0.3">1</text>
<text x="1418.2" y="233.34" font-size="13.8" text-anchor="middle" fill="#3a3a3a" textLength="25" lengthAdjust="spacingAndGlyphs" stroke="#3a3a3a" stroke-width="0.3">1.2</text>
<text x="1418.2" y="157.68" font-size="13.8" text-anchor="middle" fill="#3a3a3a" textLength="25" lengthAdjust="spacingAndGlyphs" stroke="#3a3a3a" stroke-width="0.3">1.4</text>
<text x="1418.2" y="82.02" font-size="13.8" text-anchor="middle" fill="#3a3a3a" textLength="25" lengthAdjust="spacingAndGlyphs" stroke="#3a3a3a" stroke-width="0.3">1.6</text>
<text x="1457.8" y="703.8" font-size="13.7" text-anchor="middle" fill="#3a3a3a" textLength="35.2" lengthAdjust="spacingAndGlyphs" stroke="#3a3a3a" stroke-width="0.3">29.5</text>
<text x="1536.6" y="703.8" font-size="13.7" text-anchor="middle" fill="#3a3a3a" textLength="35.2" lengthAdjust="spacingAndGlyphs" stroke="#3a3a3a" stroke-width="0.3">30.5</text>
<text x="1520.6" y="724.7" font-size="12.2" text-anchor="middle" font-weight="bold" fill="#1c1c1c" textLength="126.5" lengthAdjust="spacingAndGlyphs">Retention Time</text>
<text x="1390" y="360.5" font-size="18.6" text-anchor="middle" font-weight="bold" fill="#1c1c1c" textLength="94.2" lengthAdjust="spacingAndGlyphs" transform="rotate(-90 1390 360.5)">Intensity (10^6)</text>
<text x="1472" y="258" font-size="26.8" text-anchor="start" textLength="45" lengthAdjust="spacingAndGlyphs">32x</text>
</g>
<g font-family='"Liberation Sans", Arial, sans-serif' font-weight="bold">
<text x="1596.6" y="35.2" font-size="48" text-anchor="start" font-weight="bold" textLength="32.4" lengthAdjust="spacingAndGlyphs">A</text>
</g>
<g id="prism" font-family='"Liberation Sans", Arial, sans-serif' font-weight="bold">
<polyline points="190,1161.18 192.32,1161.03 194.64,1160.85 196.96,1160.63 199.29,1160.37 201.61,1160.07 203.93,1159.71 206.26,1159.31 208.58,1158.86 210.9,1158.34 213.22,1157.77 215.55,1157.14 217.87,1156.44 220.19,1155.67 222.51,1154.83 224.84,1153.92 227.16,1152.93 229.48,1151.87 231.81,1150.72 234.13,1149.49 236.45,1148.18 238.77,1146.78 241.1,1145.3 243.42,1143.73 245.74,1142.07 248.06,1140.32 250.39,1138.49 252.71,1136.56 255.03,1134.54 257.36,1132.44 259.68,1130.25 262,1127.97 264.32,1125.6 266.65,1123.16 268.97,1120.63 271.29,1118.02 273.61,1115.33 275.94,1112.57 278.26,1109.73 280.58,1106.83 282.9,1103.86 285.23,1100.83 287.55,1097.73 289.87,1094.59 292.2,1091.39 294.52,1088.15 296.84,1084.86 299.16,1081.53 301.49,1078.17 303.81,1074.77 306.13,1071.35 308.45,1067.91 310.78,1064.44 313.1,1060.97 315.42,1057.48 317.75,1053.98 320.07,1050.49 322.39,1046.99 324.71,1043.5 327.04,1040.02 329.36,1036.55 331.68,1033.09 334,1029.65 336.33,1026.23 338.65,1022.84 340.97,1019.47 343.3,1016.13 345.62,1012.82 347.94,1009.55 350.26,1006.31 352.59,1003.11 354.91,999.94 357.23,996.82 359.55,993.74 361.88,990.7 364.2,987.7 366.52,984.75 368.85,981.85 371.17,978.99 373.49,976.18 375.81,973.42 378.14,970.71 380.46,968.04 382.78,965.42 385.1,962.85 387.43,960.33 389.75,957.86 392.07,955.43 394.4,953.06 396.72,950.73 399.04,948.45 401.36,946.21 403.69,944.03 406.01,941.89 408.33,939.79 410.65,937.74 412.98,935.73 415.3,933.77 417.62,931.85 419.95,929.98 422.27,928.14 424.59,926.35 426.91,924.59 429.24,922.88 431.56,921.21 433.88,919.57 436.2,917.97 438.53,916.41 440.85,914.89 443.17,913.4 445.5,911.94 447.82,910.52 450.14,909.13 452.46,907.77 454.79,906.45 457.11,905.16 459.43,903.89 461.75,902.66 464.08,901.46 466.4,900.28 468.72,899.13 471.05,898.01 473.37,896.92 475.69,895.85 478.01,894.8 480.34,893.79 482.66,892.79 484.98,891.82 487.3,890.87 489.63,889.94 491.95,889.04 494.27,888.15 496.59,887.29 498.92,886.44 501.24,885.62 503.56,884.82 505.89,884.03 508.21,883.26 510.53,882.51 512.85,881.78 515.18,881.06 517.5,880.36 519.82,879.68 522.14,879.01 524.47,878.36 526.79,877.72 529.11,877.1 531.44,876.49 533.76,875.9 536.08,875.32 538.4,874.75 540.73,874.19 543.05,873.65 545.37,873.12 547.69,872.6 550.02,872.09 552.34,871.6 554.66,871.11 556.99,870.64 559.31,870.18 561.63,869.73 563.95,869.28 566.28,868.85 568.6,868.43 570.92,868.02 573.24,867.61 575.57,867.22 577.89,866.83 580.21,866.45 582.54,866.08 584.86,865.72 587.18,865.37 589.5,865.03 591.83,864.69 594.15,864.36 596.47,864.04 598.79,863.72 601.12,863.41 603.44,863.11 605.76,862.82 608.09,862.53 610.41,862.25 612.73,861.97 615.05,861.7 617.38,861.44 619.7,861.19 622.02,860.93 624.34,860.69 626.67,860.45 628.99,860.22 631.31,859.99 633.64,859.76 635.96,859.55 638.28,859.33 640.6,859.13 642.93,858.92 645.25,858.72 647.57,858.53 649.89,858.34 652.22,858.16" fill="none" stroke="#f02a2e" stroke-width="1.95"/>
<polyline points="190,1160.61 192.32,1160.57 194.64,1160.52 196.96,1160.45 199.29,1160.38 201.61,1160.28 203.93,1160.17 206.26,1160.04 208.58,1159.89 210.9,1159.71 213.22,1159.52 215.55,1159.29 217.87,1159.03 220.19,1158.75 222.51,1158.43 224.84,1158.07 227.16,1157.68 229.48,1157.25 231.81,1156.77 234.13,1156.25 236.45,1155.68 238.77,1155.07 241.1,1154.4 243.42,1153.68 245.74,1152.9 248.06,1152.07 250.39,1151.17 252.71,1150.21 255.03,1149.19 257.36,1148.1 259.68,1146.94 262,1145.71 264.32,1144.41 266.65,1143.03 268.97,1141.59 271.29,1140.06 273.61,1138.46 275.94,1136.78 278.26,1135.02 280.58,1133.18 282.9,1131.26 285.23,1129.26 287.55,1127.18 289.87,1125.02 292.2,1122.78 294.52,1120.46 296.84,1118.07 299.16,1115.6 301.49,1113.05 303.81,1110.43 306.13,1107.74 308.45,1104.97 310.78,1102.14 313.1,1099.25 315.42,1096.29 317.75,1093.27 320.07,1090.19 322.39,1087.06 324.71,1083.87 327.04,1080.64 329.36,1077.37 331.68,1074.05 334,1070.69 336.33,1067.3 338.65,1063.89 340.97,1060.44 343.3,1056.97 345.62,1053.48 347.94,1049.98 350.26,1046.46 352.59,1042.94 354.91,1039.41 357.23,1035.88 359.55,1032.35 361.88,1028.83 364.2,1025.32 366.52,1021.82 368.85,1018.33 371.17,1014.86 373.49,1011.42 375.81,1007.99 378.14,1004.59 380.46,1001.22 382.78,997.88 385.1,994.58 387.43,991.31 389.75,988.07 392.07,984.87 394.4,981.72 396.72,978.6 399.04,975.52 401.36,972.49 403.69,969.51 406.01,966.57 408.33,963.67 410.65,960.82 412.98,958.02 415.3,955.27 417.62,952.56 419.95,949.91 422.27,947.3 424.59,944.74 426.91,942.23 429.24,939.77 431.56,937.35 433.88,934.99 436.2,932.67 438.53,930.4 440.85,928.18 443.17,926.01 445.5,923.88 447.82,921.79 450.14,919.76 452.46,917.76 454.79,915.82 457.11,913.91 459.43,912.05 461.75,910.23 464.08,908.46 466.4,906.72 468.72,905.02 471.05,903.37 473.37,901.75 475.69,900.17 478.01,898.63 480.34,897.12 482.66,895.66 484.98,894.22 487.3,892.82 489.63,891.46 491.95,890.13 494.27,888.83 496.59,887.56 498.92,886.32 501.24,885.12 503.56,883.94 505.89,882.79 508.21,881.67 510.53,880.58 512.85,879.52 515.18,878.48 517.5,877.47 519.82,876.48 522.14,875.52 524.47,874.58 526.79,873.67 529.11,872.78 531.44,871.91 533.76,871.06 536.08,870.23 538.4,869.43 540.73,868.64 543.05,867.88 545.37,867.13 547.69,866.4 550.02,865.7 552.34,865.01 554.66,864.33 556.99,863.68 559.31,863.04 561.63,862.42 563.95,861.81 566.28,861.22 568.6,860.64 570.92,860.08 573.24,859.53 575.57,859 577.89,858.48 580.21,857.98 582.54,857.48 584.86,857 587.18,856.54 589.5,856.08 591.83,855.64 594.15,855.21 596.47,854.79 598.79,854.38 601.12,853.98 603.44,853.6 605.76,853.22 608.09,852.85 610.41,852.5 612.73,852.15 615.05,851.81 617.38,851.48 619.7,851.17 622.02,850.86 624.34,850.55 626.67,850.26 628.99,849.98 631.31,849.7 633.64,849.43 635.96,849.17 638.28,848.92 640.6,848.68 642.93,848.44 645.25,848.21 647.57,847.98 649.89,847.77 652.22,847.56" fill="none" stroke="#2828f0" stroke-width="1.95"/>
<g stroke="#000" stroke-width="3.95" fill="none">
<path d="M159.2 798.02V1168.38"/>
<path d="M143.7 1166.4H713.57"/>
<path d="M159.2 1166.4V1181.7M297.3 1166.4V1181.7M435.4 1166.4V1181.7M573.5 1166.4V1181.7M711.6 1166.4V1181.7M143.7 1166.4H159.2M143.7 1044.27H159.2M143.7 922.13H159.2M143.7 800H159.2"/>
</g>
<rect x="181.8" y="1154" width="15.6" height="15.6" fill="#0000ff" fill-opacity="0.76"/>
<rect x="212.8" y="1150.2" width="15.6" height="15.6" fill="#0000ff" fill-opacity="0.76"/>
<rect x="274.5" y="1119.5" width="15.6" height="15.6" fill="#0000ff" fill-opacity="0.76"/>
<rect x="397.2" y="973.4" width="15.6" height="15.6" fill="#0000ff" fill-opacity="0.76"/>
<rect x="519.9" y="821.8" width="15.6" height="15.6" fill="#0000ff" fill-opacity="0.76"/>
<rect x="642.5" y="880.4" width="15.6" height="15.6" fill="#0000ff" fill-opacity="0.76"/>
<circle cx="189.6" cy="1161.8" r="7" fill="#ff1428" fill-opacity="0.8"/>
<circle cx="220.6" cy="1153.9" r="7" fill="#ff1428" fill-opacity="0.8"/>
<circle cx="282" cy="1107.4" r="7" fill="#ff1428" fill-opacity="0.8"/>
<circle cx="404.7" cy="958.8" r="7" fill="#ff1428" fill-opacity="0.8"/>
<circle cx="527.3" cy="831.7" r="7" fill="#ff1428" fill-opacity="0.8"/>
<circle cx="650.3" cy="900.6" r="7" fill="#ff1428" fill-opacity="0.8"/>
<text x="159.2" y="1212.2" font-size="28" text-anchor="middle" font-weight="bold">0.00</text>
<text x="297.3" y="1212.2" font-size="28" text-anchor="middle" font-weight="bold">0.02</text>
<text x="435.4" y="1212.2" font-size="28" text-anchor="middle" font-weight="bold">0.04</text>
<text x="573.5" y="1212.2" font-size="28" text-anchor="middle" font-weight="bold">0.06</text>
<text x="711.6" y="1212.2" font-size="28" text-anchor="middle" font-weight="bold">0.08</text>
<text x="138.6" y="1176.2" font-size="28" text-anchor="end" font-weight="bold">0.00</text>
<text x="138.6" y="1054.07" font-size="28" text-anchor="end" font-weight="bold">0.05</text>
<text x="138.6" y="931.93" font-size="28" text-anchor="end" font-weight="bold">0.10</text>
<text x="138.6" y="809.8" font-size="28" text-anchor="end" font-weight="bold">0.15</text>
<text x="435.2" y="1254.6" font-size="30" text-anchor="middle" font-weight="bold" textLength="281" lengthAdjust="spacingAndGlyphs">mRNA1 (pmol/well)</text>
<text x="64.5" y="983" font-size="30.5" text-anchor="middle" font-weight="bold" transform="rotate(-90 64.5 983)">% Wisconsin/HEK</text>
<text x="199.1" y="829.6" font-size="45" text-anchor="start" font-weight="bold" textLength="29.5" lengthAdjust="spacingAndGlyphs">B</text>
<polyline points="989.97,1154.72 992.3,1154.39 994.62,1154.01 996.94,1153.59 999.26,1153.11 1001.58,1152.59 1003.9,1152.01 1006.22,1151.38 1008.54,1150.69 1010.86,1149.95 1013.18,1149.15 1015.51,1148.29 1017.83,1147.37 1020.15,1146.39 1022.47,1145.35 1024.79,1144.25 1027.11,1143.09 1029.43,1141.87 1031.75,1140.58 1034.07,1139.24 1036.39,1137.84 1038.72,1136.38 1041.04,1134.86 1043.36,1133.28 1045.68,1131.65 1048,1129.96 1050.32,1128.22 1052.64,1126.43 1054.96,1124.59 1057.28,1122.7 1059.61,1120.77 1061.93,1118.79 1064.25,1116.77 1066.57,1114.71 1068.89,1112.61 1071.21,1110.48 1073.53,1108.31 1075.85,1106.12 1078.17,1103.89 1080.49,1101.64 1082.82,1099.37 1085.14,1097.07 1087.46,1094.76 1089.78,1092.43 1092.1,1090.09 1094.42,1087.73 1096.74,1085.37 1099.06,1083 1101.38,1080.62 1103.7,1078.24 1106.03,1075.87 1108.35,1073.49 1110.67,1071.12 1112.99,1068.75 1115.31,1066.39 1117.63,1064.04 1119.95,1061.7 1122.27,1059.37 1124.59,1057.06 1126.92,1054.76 1129.24,1052.47 1131.56,1050.21 1133.88,1047.96 1136.2,1045.74 1138.52,1043.53 1140.84,1041.35 1143.16,1039.19 1145.48,1037.05 1147.8,1034.94 1150.13,1032.85 1152.45,1030.79 1154.77,1028.76 1157.09,1026.75 1159.41,1024.76 1161.73,1022.81 1164.05,1020.88 1166.37,1018.98 1168.69,1017.11 1171.01,1015.27 1173.34,1013.45 1175.66,1011.66 1177.98,1009.91 1180.3,1008.18 1182.62,1006.47 1184.94,1004.8 1187.26,1003.15 1189.58,1001.54 1191.9,999.95 1194.23,998.38 1196.55,996.85 1198.87,995.34 1201.19,993.86 1203.51,992.4 1205.83,990.98 1208.15,989.57 1210.47,988.2 1212.79,986.85 1215.11,985.52 1217.44,984.22 1219.76,982.95 1222.08,981.69 1224.4,980.47 1226.72,979.26 1229.04,978.08 1231.36,976.92 1233.68,975.78 1236,974.67 1238.32,973.58 1240.65,972.5 1242.97,971.45 1245.29,970.42 1247.61,969.41 1249.93,968.42 1252.25,967.45 1254.57,966.5 1256.89,965.57 1259.21,964.65 1261.54,963.76 1263.86,962.88 1266.18,962.02 1268.5,961.18 1270.82,960.35 1273.14,959.54 1275.46,958.74 1277.78,957.96 1280.1,957.2 1282.42,956.45 1284.75,955.72 1287.07,955 1289.39,954.3 1291.71,953.61 1294.03,952.93 1296.35,952.27 1298.67,951.62 1300.99,950.98 1303.31,950.36 1305.63,949.75 1307.96,949.15 1310.28,948.56 1312.6,947.99 1314.92,947.42 1317.24,946.87 1319.56,946.33 1321.88,945.8 1324.2,945.28 1326.52,944.77 1328.85,944.27 1331.17,943.78 1333.49,943.3 1335.81,942.83 1338.13,942.37 1340.45,941.92 1342.77,941.48 1345.09,941.04 1347.41,940.62 1349.73,940.2 1352.06,939.79 1354.38,939.4 1356.7,939 1359.02,938.62 1361.34,938.25 1363.66,937.88 1365.98,937.52 1368.3,937.17 1370.62,936.82 1372.94,936.48 1375.27,936.15 1377.59,935.83 1379.91,935.51 1382.23,935.2 1384.55,934.89 1386.87,934.6 1389.19,934.3 1391.51,934.02 1393.83,933.74 1396.16,933.47 1398.48,933.2 1400.8,932.94 1403.12,932.68 1405.44,932.43 1407.76,932.18 1410.08,931.94 1412.4,931.71 1414.72,931.48 1417.04,931.26 1419.37,931.04 1421.69,930.83 1424.01,930.62 1426.33,930.41 1428.65,930.21 1430.97,930.02 1433.29,929.83 1435.61,929.64 1437.93,929.46 1440.25,929.29 1442.58,929.11 1444.9,928.95 1447.22,928.78 1449.54,928.63 1451.86,928.47" fill="none" stroke="#f02a2e" stroke-width="1.95"/>
<polyline points="989.97,1151.16 992.3,1151.1 994.62,1151.03 996.94,1150.96 999.26,1150.87 1001.58,1150.77 1003.9,1150.65 1006.22,1150.52 1008.54,1150.38 1010.86,1150.21 1013.18,1150.03 1015.51,1149.82 1017.83,1149.58 1020.15,1149.31 1022.47,1149.02 1024.79,1148.69 1027.11,1148.33 1029.43,1147.92 1031.75,1147.48 1034.07,1146.99 1036.39,1146.45 1038.72,1145.87 1041.04,1145.23 1043.36,1144.53 1045.68,1143.78 1048,1142.96 1050.32,1142.08 1052.64,1141.13 1054.96,1140.11 1057.28,1139.02 1059.61,1137.86 1061.93,1136.61 1064.25,1135.29 1066.57,1133.89 1068.89,1132.4 1071.21,1130.83 1073.53,1129.18 1075.85,1127.44 1078.17,1125.61 1080.49,1123.69 1082.82,1121.69 1085.14,1119.6 1087.46,1117.43 1089.78,1115.17 1092.1,1112.83 1094.42,1110.4 1096.74,1107.9 1099.06,1105.31 1101.38,1102.66 1103.7,1099.93 1106.03,1097.14 1108.35,1094.28 1110.67,1091.36 1112.99,1088.38 1115.31,1085.35 1117.63,1082.28 1119.95,1079.16 1122.27,1076.01 1124.59,1072.82 1126.92,1069.61 1129.24,1066.37 1131.56,1063.11 1133.88,1059.85 1136.2,1056.57 1138.52,1053.29 1140.84,1050.02 1143.16,1046.75 1145.48,1043.49 1147.8,1040.25 1150.13,1037.02 1152.45,1033.82 1154.77,1030.65 1157.09,1027.51 1159.41,1024.4 1161.73,1021.33 1164.05,1018.3 1166.37,1015.31 1168.69,1012.36 1171.01,1009.46 1173.34,1006.61 1175.66,1003.81 1177.98,1001.07 1180.3,998.37 1182.62,995.73 1184.94,993.14 1187.26,990.61 1189.58,988.13 1191.9,985.71 1194.23,983.35 1196.55,981.04 1198.87,978.79 1201.19,976.59 1203.51,974.45 1205.83,972.36 1208.15,970.33 1210.47,968.36 1212.79,966.43 1215.11,964.56 1217.44,962.74 1219.76,960.97 1222.08,959.25 1224.4,957.58 1226.72,955.95 1229.04,954.38 1231.36,952.85 1233.68,951.36 1236,949.92 1238.32,948.52 1240.65,947.16 1242.97,945.85 1245.29,944.57 1247.61,943.33 1249.93,942.13 1252.25,940.97 1254.57,939.84 1256.89,938.74 1259.21,937.68 1261.54,936.66 1263.86,935.66 1266.18,934.69 1268.5,933.76 1270.82,932.85 1273.14,931.97 1275.46,931.12 1277.78,930.3 1280.1,929.5 1282.42,928.72 1284.75,927.97 1287.07,927.24 1289.39,926.54 1291.71,925.85 1294.03,925.19 1296.35,924.55 1298.67,923.92 1300.99,923.32 1303.31,922.74 1305.63,922.17 1307.96,921.62 1310.28,921.09 1312.6,920.57 1314.92,920.07 1317.24,919.58 1319.56,919.11 1321.88,918.66 1324.2,918.21 1326.52,917.79 1328.85,917.37 1331.17,916.97 1333.49,916.57 1335.81,916.19 1338.13,915.83 1340.45,915.47 1342.77,915.12 1345.09,914.79 1347.41,914.46 1349.73,914.14 1352.06,913.84 1354.38,913.54 1356.7,913.25 1359.02,912.97 1361.34,912.69 1363.66,912.43 1365.98,912.17 1368.3,911.92 1370.62,911.68 1372.94,911.45 1375.27,911.22 1377.59,911 1379.91,910.78 1382.23,910.57 1384.55,910.37 1386.87,910.17 1389.19,909.98 1391.51,909.79 1393.83,909.61 1396.16,909.44 1398.48,909.27 1400.8,909.1 1403.12,908.94 1405.44,908.79 1407.76,908.63 1410.08,908.49 1412.4,908.34 1414.72,908.2 1417.04,908.07 1419.37,907.94 1421.69,907.81 1424.01,907.69 1426.33,907.57 1428.65,907.45 1430.97,907.33 1433.29,907.22 1435.61,907.12 1437.93,907.01 1440.25,906.91 1442.58,906.81 1444.9,906.72 1447.22,906.62 1449.54,906.53 1451.86,906.44" fill="none" stroke="#2828f0" stroke-width="1.95"/>
<g stroke="#000" stroke-width="3.95" fill="none">
<path d="M959.2 797.82V1165.47"/>
<path d="M943.7 1163.5H1513.17"/>
<path d="M959.2 1163.5V1178.8M1097.2 1163.5V1178.8M1235.2 1163.5V1178.8M1373.2 1163.5V1178.8M1511.2 1163.5V1178.8M943.7 1163.5H959.2M943.7 1042.27H959.2M943.7 921.03H959.2M943.7 799.79H959.2"/>
</g>
<rect x="981.83" y="1144.36" width="15.6" height="15.6" fill="#0000ff" fill-opacity="0.76"/>
<rect x="1012.5" y="1139.19" width="15.6" height="15.6" fill="#0000ff" fill-opacity="0.76"/>
<rect x="1073.83" y="1115.07" width="15.6" height="15.6" fill="#0000ff" fill-opacity="0.76"/>
<rect x="1196.51" y="973.79" width="15.6" height="15.6" fill="#0000ff" fill-opacity="0.76"/>
<rect x="1319.18" y="884.19" width="15.6" height="15.6" fill="#0000ff" fill-opacity="0.76"/>
<rect x="1441.86" y="925.2" width="15.6" height="15.6" fill="#0000ff" fill-opacity="0.76"/>
<circle cx="989.63" cy="1156.29" r="7" fill="#ff1428" fill-opacity="0.8"/>
<circle cx="1020.3" cy="1143.54" r="7" fill="#ff1428" fill-opacity="0.8"/>
<circle cx="1081.63" cy="1102.54" r="7" fill="#ff1428" fill-opacity="0.8"/>
<circle cx="1204.31" cy="998.47" r="7" fill="#ff1428" fill-opacity="0.8"/>
<circle cx="1326.98" cy="918.53" r="7" fill="#ff1428" fill-opacity="0.8"/>
<circle cx="1449.66" cy="952.29" r="7" fill="#ff1428" fill-opacity="0.8"/>
<text x="959.2" y="1209.3" font-size="28" text-anchor="middle" font-weight="bold">0.00</text>
<text x="1097.2" y="1209.3" font-size="28" text-anchor="middle" font-weight="bold">0.02</text>
<text x="1235.2" y="1209.3" font-size="28" text-anchor="middle" font-weight="bold">0.04</text>
<text x="1373.2" y="1209.3" font-size="28" text-anchor="middle" font-weight="bold">0.06</text>
<text x="1511.2" y="1209.3" font-size="28" text-anchor="middle" font-weight="bold">0.08</text>
<text x="938.6" y="1173.3" font-size="28" text-anchor="end" font-weight="bold">0.00</text>
<text x="938.6" y="1052.07" font-size="28" text-anchor="end" font-weight="bold">0.05</text>
<text x="938.6" y="930.83" font-size="28" text-anchor="end" font-weight="bold">0.10</text>
<text x="938.6" y="809.59" font-size="28" text-anchor="end" font-weight="bold">0.15</text>
<text x="1233.8" y="1253" font-size="30" text-anchor="middle" font-weight="bold" textLength="278.5" lengthAdjust="spacingAndGlyphs">mRNA2 (pmol/well)</text>
<text x="864.5" y="980" font-size="30.5" text-anchor="middle" font-weight="bold" transform="rotate(-90 864.5 980)">%Darwin/HEK</text>
<text x="988" y="830" font-size="45" text-anchor="start" font-weight="bold" textLength="29.5" lengthAdjust="spacingAndGlyphs">C</text>
<polyline points="178.4,1667.53 180.75,1667.47 183.1,1667.4 185.46,1667.32 187.81,1667.23 190.16,1667.12 192.52,1667.01 194.87,1666.88 197.22,1666.73 199.57,1666.57 201.93,1666.4 204.28,1666.21 206.63,1666 208.99,1665.77 211.34,1665.52 213.69,1665.26 216.05,1664.97 218.4,1664.67 220.75,1664.34 223.1,1663.99 225.46,1663.62 227.81,1663.22 230.16,1662.81 232.52,1662.37 234.87,1661.91 237.22,1661.43 239.58,1660.92 241.93,1660.39 244.28,1659.84 246.63,1659.27 248.99,1658.68 251.34,1658.07 253.69,1657.43 256.05,1656.78 258.4,1656.11 260.75,1655.42 263.11,1654.71 265.46,1653.99 267.81,1653.25 270.16,1652.5 272.52,1651.73 274.87,1650.95 277.22,1650.16 279.58,1649.36 281.93,1648.55 284.28,1647.73 286.64,1646.91 288.99,1646.08 291.34,1645.24 293.69,1644.41 296.05,1643.57 298.4,1642.72 300.75,1641.88 303.11,1641.04 305.46,1640.2 307.81,1639.37 310.17,1638.53 312.52,1637.7 314.87,1636.88 317.22,1636.06 319.58,1635.25 321.93,1634.45 324.28,1633.65 326.64,1632.86 328.99,1632.09 331.34,1631.32 333.7,1630.56 336.05,1629.81 338.4,1629.08 340.75,1628.35 343.11,1627.64 345.46,1626.93 347.81,1626.24 350.17,1625.57 352.52,1624.9 354.87,1624.25 357.23,1623.6 359.58,1622.98 361.93,1622.36 364.28,1621.75 366.64,1621.16 368.99,1620.58 371.34,1620.02 373.7,1619.46 376.05,1618.92 378.4,1618.39 380.75,1617.87 383.11,1617.37 385.46,1616.87 387.81,1616.39 390.17,1615.92 392.52,1615.45 394.87,1615 397.23,1614.57 399.58,1614.14 401.93,1613.72 404.28,1613.31 406.64,1612.91 408.99,1612.52 411.34,1612.14 413.7,1611.78 416.05,1611.41 418.4,1611.06 420.76,1610.72 423.11,1610.39 425.46,1610.06 427.81,1609.74 430.17,1609.43 432.52,1609.13 434.87,1608.84 437.23,1608.55 439.58,1608.27 441.93,1607.99 444.29,1607.73 446.64,1607.47 448.99,1607.21 451.34,1606.97 453.7,1606.73 456.05,1606.49 458.4,1606.26 460.76,1606.04 463.11,1605.82 465.46,1605.61 467.82,1605.4 470.17,1605.19 472.52,1605 474.87,1604.8 477.23,1604.61 479.58,1604.43 481.93,1604.25 484.29,1604.07 486.64,1603.9 488.99,1603.73 491.35,1603.57 493.7,1603.41 496.05,1603.25 498.4,1603.1 500.76,1602.95 503.11,1602.8 505.46,1602.66 507.82,1602.52 510.17,1602.38 512.52,1602.25 514.88,1602.12 517.23,1601.99 519.58,1601.86 521.93,1601.74 524.29,1601.62 526.64,1601.5 528.99,1601.38 531.35,1601.27 533.7,1601.15 536.05,1601.04 538.41,1600.94 540.76,1600.83 543.11,1600.73 545.46,1600.63 547.82,1600.53 550.17,1600.43 552.52,1600.33 554.88,1600.24 557.23,1600.14 559.58,1600.05 561.94,1599.96 564.29,1599.87 566.64,1599.78 568.99,1599.7 571.35,1599.61 573.7,1599.53 576.05,1599.44 578.41,1599.36 580.76,1599.28 583.11,1599.2 585.47,1599.12 587.82,1599.05 590.17,1598.97 592.52,1598.89 594.88,1598.82 597.23,1598.75 599.58,1598.67 601.94,1598.6 604.29,1598.53 606.64,1598.46 609,1598.39 611.35,1598.32 613.7,1598.25 616.05,1598.18 618.41,1598.11 620.76,1598.05 623.11,1597.98 625.47,1597.91 627.82,1597.85 630.17,1597.78 632.53,1597.72 634.88,1597.65 637.23,1597.59 639.58,1597.52 641.94,1597.46 644.29,1597.4 646.64,1597.33" fill="none" stroke="#f02a2e" stroke-width="1.95"/>
<polyline points="178.4,1661.51 180.75,1661.49 183.1,1661.45 185.46,1661.39 187.81,1661.31 190.16,1661.2 192.52,1661.07 194.87,1660.91 197.22,1660.72 199.57,1660.5 201.93,1660.24 204.28,1659.95 206.63,1659.62 208.99,1659.25 211.34,1658.83 213.69,1658.37 216.05,1657.87 218.4,1657.31 220.75,1656.7 223.1,1656.04 225.46,1655.33 227.81,1654.56 230.16,1653.72 232.52,1652.83 234.87,1651.88 237.22,1650.86 239.58,1649.78 241.93,1648.63 244.28,1647.41 246.63,1646.12 248.99,1644.76 251.34,1643.33 253.69,1641.83 256.05,1640.25 258.4,1638.6 260.75,1636.88 263.11,1635.08 265.46,1633.21 267.81,1631.27 270.16,1629.25 272.52,1627.17 274.87,1625.01 277.22,1622.77 279.58,1620.47 281.93,1618.1 284.28,1615.66 286.64,1613.16 288.99,1610.59 291.34,1607.97 293.69,1605.28 296.05,1602.53 298.4,1599.73 300.75,1596.87 303.11,1593.97 305.46,1591.02 307.81,1588.02 310.17,1584.98 312.52,1581.9 314.87,1578.78 317.22,1575.64 319.58,1572.46 321.93,1569.25 324.28,1566.02 326.64,1562.77 328.99,1559.51 331.34,1556.23 333.7,1552.93 336.05,1549.63 338.4,1546.32 340.75,1543.01 343.11,1539.7 345.46,1536.39 347.81,1533.09 350.17,1529.8 352.52,1526.52 354.87,1523.25 357.23,1520 359.58,1516.76 361.93,1513.54 364.28,1510.35 366.64,1507.18 368.99,1504.04 371.34,1500.92 373.7,1497.83 376.05,1494.78 378.4,1491.75 380.75,1488.76 383.11,1485.8 385.46,1482.88 387.81,1480 390.17,1477.15 392.52,1474.34 394.87,1471.57 397.23,1468.84 399.58,1466.15 401.93,1463.5 404.28,1460.89 406.64,1458.32 408.99,1455.79 411.34,1453.31 413.7,1450.86 416.05,1448.46 418.4,1446.1 420.76,1443.78 423.11,1441.5 425.46,1439.26 427.81,1437.07 430.17,1434.91 432.52,1432.8 434.87,1430.73 437.23,1428.69 439.58,1426.7 441.93,1424.74 444.29,1422.83 446.64,1420.95 448.99,1419.11 451.34,1417.31 453.7,1415.54 456.05,1413.81 458.4,1412.12 460.76,1410.46 463.11,1408.83 465.46,1407.24 467.82,1405.69 470.17,1404.16 472.52,1402.67 474.87,1401.21 477.23,1399.79 479.58,1398.39 481.93,1397.02 484.29,1395.69 486.64,1394.38 488.99,1393.1 491.35,1391.85 493.7,1390.62 496.05,1389.43 498.4,1388.26 500.76,1387.11 503.11,1386 505.46,1384.9 507.82,1383.83 510.17,1382.79 512.52,1381.77 514.88,1380.77 517.23,1379.79 519.58,1378.84 521.93,1377.91 524.29,1376.99 526.64,1376.1 528.99,1375.23 531.35,1374.38 533.7,1373.55 536.05,1372.74 538.41,1371.95 540.76,1371.17 543.11,1370.41 545.46,1369.67 547.82,1368.95 550.17,1368.24 552.52,1367.55 554.88,1366.88 557.23,1366.22 559.58,1365.58 561.94,1364.96 564.29,1364.34 566.64,1363.75 568.99,1363.16 571.35,1362.59 573.7,1362.04 576.05,1361.5 578.41,1360.97 580.76,1360.45 583.11,1359.95 585.47,1359.46 587.82,1358.98 590.17,1358.51 592.52,1358.05 594.88,1357.61 597.23,1357.18 599.58,1356.76 601.94,1356.35 604.29,1355.95 606.64,1355.56 609,1355.18 611.35,1354.81 613.7,1354.45 616.05,1354.1 618.41,1353.76 620.76,1353.43 623.11,1353.11 625.47,1352.79 627.82,1352.49 630.17,1352.2 632.53,1351.91 634.88,1351.63 637.23,1351.36 639.58,1351.1 641.94,1350.85 644.29,1350.6 646.64,1350.37" fill="none" stroke="#2828f0" stroke-width="1.95"/>
<g stroke="#000" stroke-width="3.95" fill="none">
<path d="M147.2 1302.12V1669.67"/>
<path d="M131.7 1667.7H708.77"/>
<path d="M147.2 1667.7V1683M287.1 1667.7V1683M427 1667.7V1683M566.9 1667.7V1683M706.8 1667.7V1683M131.7 1667.7H147.2M131.7 1576.8H147.2M131.7 1485.9H147.2M131.7 1395H147.2M131.7 1304.1H147.2"/>
</g>
<rect x="170.79" y="1654.36" width="15.6" height="15.6" fill="#0000ff" fill-opacity="0.76"/>
<rect x="202.15" y="1648.5" width="15.6" height="15.6" fill="#0000ff" fill-opacity="0.76"/>
<rect x="264.52" y="1620.59" width="15.6" height="15.6" fill="#0000ff" fill-opacity="0.76"/>
<rect x="389.26" y="1473.79" width="15.6" height="15.6" fill="#0000ff" fill-opacity="0.76"/>
<rect x="513.66" y="1326.31" width="15.6" height="15.6" fill="#0000ff" fill-opacity="0.76"/>
<rect x="638.75" y="1381.79" width="15.6" height="15.6" fill="#0000ff" fill-opacity="0.76"/>
<circle cx="178.59" cy="1666.29" r="7" fill="#ff1428" fill-opacity="0.8"/>
<circle cx="209.61" cy="1664.57" r="7" fill="#ff1428" fill-opacity="0.8"/>
<circle cx="271.98" cy="1654.23" r="7" fill="#ff1428" fill-opacity="0.8"/>
<circle cx="396.72" cy="1620.12" r="7" fill="#ff1428" fill-opacity="0.8"/>
<circle cx="520.77" cy="1593.93" r="7" fill="#ff1428" fill-opacity="0.8"/>
<circle cx="645.86" cy="1604.96" r="7" fill="#ff1428" fill-opacity="0.8"/>
<text x="147.2" y="1713.5" font-size="28" text-anchor="middle" font-weight="bold">0.00</text>
<text x="287.1" y="1713.5" font-size="28" text-anchor="middle" font-weight="bold">0.02</text>
<text x="427" y="1713.5" font-size="28" text-anchor="middle" font-weight="bold">0.04</text>
<text x="566.9" y="1713.5" font-size="28" text-anchor="middle" font-weight="bold">0.06</text>
<text x="706.8" y="1713.5" font-size="28" text-anchor="middle" font-weight="bold">0.08</text>
<text x="126.6" y="1677.5" font-size="28" text-anchor="end" font-weight="bold">0.0</text>
<text x="126.6" y="1586.6" font-size="28" text-anchor="end" font-weight="bold">0.2</text>
<text x="126.6" y="1495.7" font-size="28" text-anchor="end" font-weight="bold">0.4</text>
<text x="126.6" y="1404.8" font-size="28" text-anchor="end" font-weight="bold">0.6</text>
<text x="126.6" y="1313.9" font-size="28" text-anchor="end" font-weight="bold">0.8</text>
<text x="427.5" y="1757.8" font-size="30" text-anchor="middle" font-weight="bold" textLength="286" lengthAdjust="spacingAndGlyphs">mRNA1 (pmol/well)</text>
<text x="66.2" y="1485" font-size="30.5" text-anchor="middle" font-weight="bold" transform="rotate(-90 66.2 1485)">Wisconsin (pmol/pellet)</text>
<text x="199.4" y="1345.5" font-size="45" text-anchor="start" font-weight="bold" textLength="31.9" lengthAdjust="spacingAndGlyphs">D</text>
<polyline points="978.43,1666.31 980.79,1666.22 983.14,1666.13 985.5,1666.02 987.86,1665.89 990.21,1665.76 992.57,1665.61 994.92,1665.44 997.28,1665.26 999.63,1665.06 1001.99,1664.84 1004.35,1664.61 1006.7,1664.36 1009.06,1664.09 1011.41,1663.8 1013.77,1663.49 1016.12,1663.17 1018.48,1662.82 1020.84,1662.46 1023.19,1662.07 1025.55,1661.67 1027.9,1661.25 1030.26,1660.81 1032.61,1660.34 1034.97,1659.86 1037.33,1659.37 1039.68,1658.85 1042.04,1658.31 1044.39,1657.76 1046.75,1657.2 1049.1,1656.61 1051.46,1656.01 1053.82,1655.4 1056.17,1654.77 1058.53,1654.13 1060.88,1653.48 1063.24,1652.82 1065.59,1652.14 1067.95,1651.46 1070.3,1650.77 1072.66,1650.07 1075.02,1649.36 1077.37,1648.64 1079.73,1647.92 1082.08,1647.2 1084.44,1646.47 1086.79,1645.74 1089.15,1645.01 1091.51,1644.28 1093.86,1643.55 1096.22,1642.82 1098.57,1642.09 1100.93,1641.36 1103.28,1640.63 1105.64,1639.91 1108,1639.19 1110.35,1638.48 1112.71,1637.77 1115.06,1637.07 1117.42,1636.37 1119.77,1635.68 1122.13,1635 1124.49,1634.33 1126.84,1633.66 1129.2,1633 1131.55,1632.35 1133.91,1631.71 1136.26,1631.08 1138.62,1630.46 1140.98,1629.84 1143.33,1629.24 1145.69,1628.65 1148.04,1628.06 1150.4,1627.49 1152.75,1626.92 1155.11,1626.37 1157.47,1625.82 1159.82,1625.29 1162.18,1624.76 1164.53,1624.25 1166.89,1623.74 1169.24,1623.25 1171.6,1622.76 1173.96,1622.29 1176.31,1621.82 1178.67,1621.37 1181.02,1620.92 1183.38,1620.48 1185.73,1620.05 1188.09,1619.63 1190.44,1619.22 1192.8,1618.82 1195.16,1618.43 1197.51,1618.05 1199.87,1617.67 1202.22,1617.3 1204.58,1616.94 1206.93,1616.59 1209.29,1616.25 1211.65,1615.91 1214,1615.59 1216.36,1615.27 1218.71,1614.95 1221.07,1614.65 1223.42,1614.35 1225.78,1614.05 1228.14,1613.77 1230.49,1613.49 1232.85,1613.21 1235.2,1612.95 1237.56,1612.69 1239.91,1612.43 1242.27,1612.18 1244.63,1611.94 1246.98,1611.7 1249.34,1611.47 1251.69,1611.24 1254.05,1611.02 1256.4,1610.8 1258.76,1610.59 1261.12,1610.38 1263.47,1610.17 1265.83,1609.98 1268.18,1609.78 1270.54,1609.59 1272.89,1609.41 1275.25,1609.22 1277.61,1609.05 1279.96,1608.87 1282.32,1608.7 1284.67,1608.54 1287.03,1608.37 1289.38,1608.21 1291.74,1608.06 1294.09,1607.9 1296.45,1607.76 1298.81,1607.61 1301.16,1607.47 1303.52,1607.33 1305.87,1607.19 1308.23,1607.05 1310.58,1606.92 1312.94,1606.79 1315.3,1606.67 1317.65,1606.54 1320.01,1606.42 1322.36,1606.3 1324.72,1606.18 1327.07,1606.07 1329.43,1605.96 1331.79,1605.85 1334.14,1605.74 1336.5,1605.63 1338.85,1605.53 1341.21,1605.43 1343.56,1605.33 1345.92,1605.23 1348.28,1605.13 1350.63,1605.04 1352.99,1604.95 1355.34,1604.85 1357.7,1604.76 1360.05,1604.68 1362.41,1604.59 1364.77,1604.5 1367.12,1604.42 1369.48,1604.34 1371.83,1604.26 1374.19,1604.18 1376.54,1604.1 1378.9,1604.02 1381.26,1603.94 1383.61,1603.87 1385.97,1603.8 1388.32,1603.72 1390.68,1603.65 1393.03,1603.58 1395.39,1603.51 1397.74,1603.44 1400.1,1603.37 1402.46,1603.31 1404.81,1603.24 1407.17,1603.18 1409.52,1603.11 1411.88,1603.05 1414.23,1602.99 1416.59,1602.92 1418.95,1602.86 1421.3,1602.8 1423.66,1602.74 1426.01,1602.68 1428.37,1602.62 1430.72,1602.57 1433.08,1602.51 1435.44,1602.45 1437.79,1602.4 1440.15,1602.34 1442.5,1602.29 1444.86,1602.23 1447.21,1602.18" fill="none" stroke="#f02a2e" stroke-width="1.95"/>
<polyline points="978.43,1654.98 980.79,1654.95 983.14,1654.91 985.5,1654.85 987.86,1654.78 990.21,1654.68 992.57,1654.56 994.92,1654.41 997.28,1654.24 999.63,1654.03 1001.99,1653.79 1004.35,1653.52 1006.7,1653.2 1009.06,1652.84 1011.41,1652.44 1013.77,1651.99 1016.12,1651.48 1018.48,1650.92 1020.84,1650.3 1023.19,1649.62 1025.55,1648.88 1027.9,1648.07 1030.26,1647.19 1032.61,1646.23 1034.97,1645.2 1037.33,1644.08 1039.68,1642.89 1042.04,1641.61 1044.39,1640.25 1046.75,1638.79 1049.1,1637.25 1051.46,1635.61 1053.82,1633.88 1056.17,1632.06 1058.53,1630.14 1060.88,1628.13 1063.24,1626.02 1065.59,1623.81 1067.95,1621.51 1070.3,1619.11 1072.66,1616.62 1075.02,1614.04 1077.37,1611.37 1079.73,1608.61 1082.08,1605.77 1084.44,1602.85 1086.79,1599.84 1089.15,1596.77 1091.51,1593.62 1093.86,1590.4 1096.22,1587.13 1098.57,1583.79 1100.93,1580.4 1103.28,1576.96 1105.64,1573.48 1108,1569.96 1110.35,1566.41 1112.71,1562.82 1115.06,1559.22 1117.42,1555.6 1119.77,1551.96 1122.13,1548.32 1124.49,1544.67 1126.84,1541.03 1129.2,1537.39 1131.55,1533.76 1133.91,1530.15 1136.26,1526.56 1138.62,1522.99 1140.98,1519.45 1143.33,1515.94 1145.69,1512.47 1148.04,1509.03 1150.4,1505.63 1152.75,1502.28 1155.11,1498.97 1157.47,1495.71 1159.82,1492.5 1162.18,1489.34 1164.53,1486.23 1166.89,1483.18 1169.24,1480.18 1171.6,1477.24 1173.96,1474.36 1176.31,1471.53 1178.67,1468.76 1181.02,1466.05 1183.38,1463.4 1185.73,1460.8 1188.09,1458.27 1190.44,1455.79 1192.8,1453.37 1195.16,1451.01 1197.51,1448.7 1199.87,1446.45 1202.22,1444.26 1204.58,1442.12 1206.93,1440.04 1209.29,1438.01 1211.65,1436.03 1214,1434.1 1216.36,1432.23 1218.71,1430.4 1221.07,1428.62 1223.42,1426.89 1225.78,1425.21 1228.14,1423.57 1230.49,1421.98 1232.85,1420.43 1235.2,1418.92 1237.56,1417.46 1239.91,1416.03 1242.27,1414.65 1244.63,1413.3 1246.98,1411.99 1249.34,1410.72 1251.69,1409.48 1254.05,1408.28 1256.4,1407.11 1258.76,1405.97 1261.12,1404.87 1263.47,1403.79 1265.83,1402.75 1268.18,1401.73 1270.54,1400.75 1272.89,1399.79 1275.25,1398.86 1277.61,1397.95 1279.96,1397.07 1282.32,1396.21 1284.67,1395.38 1287.03,1394.57 1289.38,1393.78 1291.74,1393.02 1294.09,1392.27 1296.45,1391.55 1298.81,1390.85 1301.16,1390.16 1303.52,1389.49 1305.87,1388.85 1308.23,1388.21 1310.58,1387.6 1312.94,1387 1315.3,1386.42 1317.65,1385.86 1320.01,1385.31 1322.36,1384.77 1324.72,1384.25 1327.07,1383.74 1329.43,1383.25 1331.79,1382.76 1334.14,1382.3 1336.5,1381.84 1338.85,1381.39 1341.21,1380.96 1343.56,1380.54 1345.92,1380.13 1348.28,1379.73 1350.63,1379.34 1352.99,1378.96 1355.34,1378.59 1357.7,1378.22 1360.05,1377.87 1362.41,1377.53 1364.77,1377.19 1367.12,1376.87 1369.48,1376.55 1371.83,1376.24 1374.19,1375.94 1376.54,1375.64 1378.9,1375.35 1381.26,1375.07 1383.61,1374.8 1385.97,1374.53 1388.32,1374.27 1390.68,1374.02 1393.03,1373.77 1395.39,1373.53 1397.74,1373.29 1400.1,1373.06 1402.46,1372.83 1404.81,1372.61 1407.17,1372.4 1409.52,1372.19 1411.88,1371.98 1414.23,1371.78 1416.59,1371.59 1418.95,1371.4 1421.3,1371.21 1423.66,1371.03 1426.01,1370.85 1428.37,1370.68 1430.72,1370.51 1433.08,1370.35 1435.44,1370.19 1437.79,1370.03 1440.15,1369.88 1442.5,1369.73 1444.86,1369.58 1447.21,1369.44" fill="none" stroke="#2828f0" stroke-width="1.95"/>
<g stroke="#000" stroke-width="3.95" fill="none">
<path d="M947.2 1301.68V1669.38"/>
<path d="M931.7 1667.4H1509.41"/>
<path d="M947.2 1667.4V1682.7M1087.26 1667.4V1682.7M1227.32 1667.4V1682.7M1367.38 1667.4V1682.7M1507.44 1667.4V1682.7M931.7 1667.4H947.2M931.7 1546.15H947.2M931.7 1424.9H947.2M931.7 1303.65H947.2"/>
</g>
<rect x="970.79" y="1649.53" width="15.6" height="15.6" fill="#0000ff" fill-opacity="0.76"/>
<rect x="1002.15" y="1639.88" width="15.6" height="15.6" fill="#0000ff" fill-opacity="0.76"/>
<rect x="1064.52" y="1609.91" width="15.6" height="15.6" fill="#0000ff" fill-opacity="0.76"/>
<rect x="1189.26" y="1448.64" width="15.6" height="15.6" fill="#0000ff" fill-opacity="0.76"/>
<rect x="1314.01" y="1345.26" width="15.6" height="15.6" fill="#0000ff" fill-opacity="0.76"/>
<rect x="1438.75" y="1393.85" width="15.6" height="15.6" fill="#0000ff" fill-opacity="0.76"/>
<circle cx="978.59" cy="1666.29" r="7" fill="#ff1428" fill-opacity="0.8"/>
<circle cx="1009.61" cy="1662.5" r="7" fill="#ff1428" fill-opacity="0.8"/>
<circle cx="1071.98" cy="1650.79" r="7" fill="#ff1428" fill-opacity="0.8"/>
<circle cx="1196.72" cy="1620.12" r="7" fill="#ff1428" fill-opacity="0.8"/>
<circle cx="1321.12" cy="1602.2" r="7" fill="#ff1428" fill-opacity="0.8"/>
<circle cx="1445.86" cy="1605.99" r="7" fill="#ff1428" fill-opacity="0.8"/>
<text x="947.2" y="1713.2" font-size="28" text-anchor="middle" font-weight="bold">0.00</text>
<text x="1087.26" y="1713.2" font-size="28" text-anchor="middle" font-weight="bold">0.02</text>
<text x="1227.32" y="1713.2" font-size="28" text-anchor="middle" font-weight="bold">0.04</text>
<text x="1367.38" y="1713.2" font-size="28" text-anchor="middle" font-weight="bold">0.06</text>
<text x="1507.44" y="1713.2" font-size="28" text-anchor="middle" font-weight="bold">0.08</text>
<text x="926.6" y="1677.2" font-size="28" text-anchor="end" font-weight="bold">0.0</text>
<text x="926.6" y="1555.95" font-size="28" text-anchor="end" font-weight="bold">0.5</text>
<text x="926.6" y="1434.7" font-size="28" text-anchor="end" font-weight="bold">1.0</text>
<text x="926.6" y="1313.45" font-size="28" text-anchor="end" font-weight="bold">1.5</text>
<text x="1227.8" y="1757.6" font-size="30" text-anchor="middle" font-weight="bold" textLength="286.5" lengthAdjust="spacingAndGlyphs">mRNA2 (pmol/well)</text>
<text x="866" y="1485" font-size="30.5" text-anchor="middle" font-weight="bold" transform="rotate(-90 866 1485)">Darwin (pmol/pellet)</text>
<text x="990.1" y="1334" font-size="45" text-anchor="start" font-weight="bold" textLength="24" lengthAdjust="spacingAndGlyphs">E</text>
<line x1="517" y1="1047" x2="556.6" y2="1047" stroke="#f02a2e" stroke-width="2.1"/>
<line x1="517" y1="1095.3" x2="556.6" y2="1095.3" stroke="#2828f0" stroke-width="2.1"/>
<text x="578" y="1056.4" font-size="27.3" text-anchor="start" textLength="61.3" lengthAdjust="spacingAndGlyphs" font-weight="normal">24hr</text>
<text x="578" y="1104.6" font-size="27.3" text-anchor="start" textLength="70.6" lengthAdjust="spacingAndGlyphs" font-weight="normal">48 hr</text>
<line x1="297.2" y1="1984" x2="647" y2="1914.1" stroke="#000" stroke-width="2.2"/>
<circle cx="297.2" cy="1987.8" r="7.2" fill="#000"/>
<circle cx="435.4" cy="1963.4" r="7.2" fill="#000"/>
<circle cx="473.3" cy="1938.9" r="7.2" fill="#000"/>
<circle cx="495.3" cy="1934.4" r="7.2" fill="#000"/>
<circle cx="572.2" cy="1921.3" r="7.2" fill="#000"/>
<circle cx="586" cy="1924.4" r="7.2" fill="#000"/>
<circle cx="599.1" cy="1950.3" r="7.2" fill="#000"/>
<circle cx="647" cy="1906.5" r="7.2" fill="#000"/>
<g stroke="#000" stroke-width="3.95" fill="none">
<path d="M175.4 1886.2V2252.78"/>
<path d="M159.9 2250.8H712.28"/>
<path d="M175.4 2250.8V2267M353.7 2250.8V2267M532 2250.8V2267M710.3 2250.8V2267M159.9 2250.8H175.4M159.9 2165.3H175.4M159.9 2079.8H175.4M159.9 1994.3H175.4M159.9 1908.8H175.4M193.23 2250.8V2260M211.06 2250.8V2260M228.89 2250.8V2260M246.72 2250.8V2260M264.55 2250.8V2260M282.38 2250.8V2260M300.21 2250.8V2260M318.04 2250.8V2260M335.87 2250.8V2260M371.53 2250.8V2260M389.36 2250.8V2260M407.19 2250.8V2260M425.02 2250.8V2260M442.85 2250.8V2260M460.68 2250.8V2260M478.51 2250.8V2260M496.34 2250.8V2260M514.17 2250.8V2260M549.83 2250.8V2260M567.66 2250.8V2260M585.49 2250.8V2260M603.32 2250.8V2260M621.15 2250.8V2260M638.98 2250.8V2260M656.81 2250.8V2260M674.64 2250.8V2260M692.47 2250.8V2260"/>
</g>
<text x="175.4" y="2297.2" font-size="28" text-anchor="middle" font-weight="bold">2.5</text>
<text x="353.7" y="2297.2" font-size="28" text-anchor="middle" font-weight="bold">3.0</text>
<text x="532" y="2297.2" font-size="28" text-anchor="middle" font-weight="bold">3.5</text>
<text x="710.3" y="2297.2" font-size="28" text-anchor="middle" font-weight="bold">4.0</text>
<text x="154" y="2260.8" font-size="28" text-anchor="end" font-weight="bold">0</text>
<text x="144.1" y="2175.3" font-size="26.3" text-anchor="end" font-weight="bold" textLength="60.6" lengthAdjust="spacingAndGlyphs">2×10</text>
<text x="146.6" y="2165.1" font-size="16.8" text-anchor="start" font-weight="bold">8</text>
<text x="144.1" y="2089.8" font-size="26.3" text-anchor="end" font-weight="bold" textLength="60.6" lengthAdjust="spacingAndGlyphs">4×10</text>
<text x="146.6" y="2079.6" font-size="16.8" text-anchor="start" font-weight="bold">8</text>
<text x="144.1" y="2004.3" font-size="26.3" text-anchor="end" font-weight="bold" textLength="60.6" lengthAdjust="spacingAndGlyphs">6×10</text>
<text x="146.6" y="1994.1" font-size="16.8" text-anchor="start" font-weight="bold">8</text>
<text x="144.1" y="1918.8" font-size="26.3" text-anchor="end" font-weight="bold" textLength="60.6" lengthAdjust="spacingAndGlyphs">8×10</text>
<text x="146.6" y="1908.6" font-size="16.8" text-anchor="start" font-weight="bold">8</text>
<text x="442.7" y="2340.6" font-size="30" text-anchor="middle" font-weight="bold" textLength="438.5" lengthAdjust="spacingAndGlyphs">Protein Concentration (mg/mL)</text>
<text x="63.3" y="2068" font-size="30" text-anchor="middle" font-weight="bold" transform="rotate(-90 63.3 2068)">HEK Peak Area</text>
<text x="198.8" y="1929.9" font-size="45" text-anchor="start" font-weight="bold" textLength="24" lengthAdjust="spacingAndGlyphs">F</text>
<line x1="1158.9" y1="2101.8" x2="1385.7" y2="1951.4" stroke="#000" stroke-width="2.2"/>
<circle cx="1158.9" cy="2103" r="7.4" fill="#000"/>
<circle cx="1243.4" cy="2042.4" r="7.4" fill="#000"/>
<circle cx="1316.8" cy="2012" r="7.4" fill="#000"/>
<circle cx="1319.5" cy="2000.3" r="7.4" fill="#000"/>
<circle cx="1324.8" cy="1995.5" r="7.4" fill="#000"/>
<circle cx="1322" cy="1987.7" r="7.4" fill="#000"/>
<circle cx="1339.1" cy="1953.6" r="7.4" fill="#000"/>
<circle cx="1385.7" cy="1952.6" r="7.4" fill="#000"/>
<g stroke="#000" stroke-width="3.95" fill="none">
<path d="M966.6 1896.43V2263.67"/>
<path d="M951.1 2261.7H1500.17"/>
<path d="M966.6 2261.7V2277M1099.5 2261.7V2277M1232.4 2261.7V2277M1365.3 2261.7V2277M1498.2 2261.7V2277M951.1 2261.7H966.6M951.1 2140.6H966.6M951.1 2019.5H966.6M951.1 1898.4H966.6"/>
</g>
<text x="966.6" y="2307" font-size="28" text-anchor="middle" font-weight="bold">0</text>
<text x="1099.5" y="2307" font-size="28" text-anchor="middle" font-weight="bold">5</text>
<text x="1232.4" y="2307" font-size="28" text-anchor="middle" font-weight="bold">10</text>
<text x="1365.3" y="2307" font-size="28" text-anchor="middle" font-weight="bold">15</text>
<text x="1498.2" y="2307" font-size="28" text-anchor="middle" font-weight="bold">20</text>
<text x="945.2" y="2271.7" font-size="28" text-anchor="end" font-weight="bold">0</text>
<text x="935" y="2150.6" font-size="26.3" text-anchor="end" font-weight="bold" textLength="60.6" lengthAdjust="spacingAndGlyphs">1×10</text>
<text x="937.5" y="2140.4" font-size="16.8" text-anchor="start" font-weight="bold">9</text>
<text x="935" y="2029.5" font-size="26.3" text-anchor="end" font-weight="bold" textLength="60.6" lengthAdjust="spacingAndGlyphs">2×10</text>
<text x="937.5" y="2019.3" font-size="16.8" text-anchor="start" font-weight="bold">9</text>
<text x="935" y="1908.4" font-size="26.3" text-anchor="end" font-weight="bold" textLength="60.6" lengthAdjust="spacingAndGlyphs">3×10</text>
<text x="937.5" y="1898.2" font-size="16.8" text-anchor="start" font-weight="bold">9</text>
<text x="1232.5" y="2351" font-size="30" text-anchor="middle" font-weight="bold" textLength="436.5" lengthAdjust="spacingAndGlyphs">Protein Concentration (mg/mL)</text>
<text x="850.2" y="2079" font-size="30" text-anchor="middle" font-weight="bold" transform="rotate(-90 850.2 2079)">HEK Peak Area</text>
<text x="988.6" y="1930.4" font-size="45" text-anchor="start" font-weight="bold" textLength="32.5" lengthAdjust="spacingAndGlyphs">G</text>
</g>
</svg>
</body></html>
